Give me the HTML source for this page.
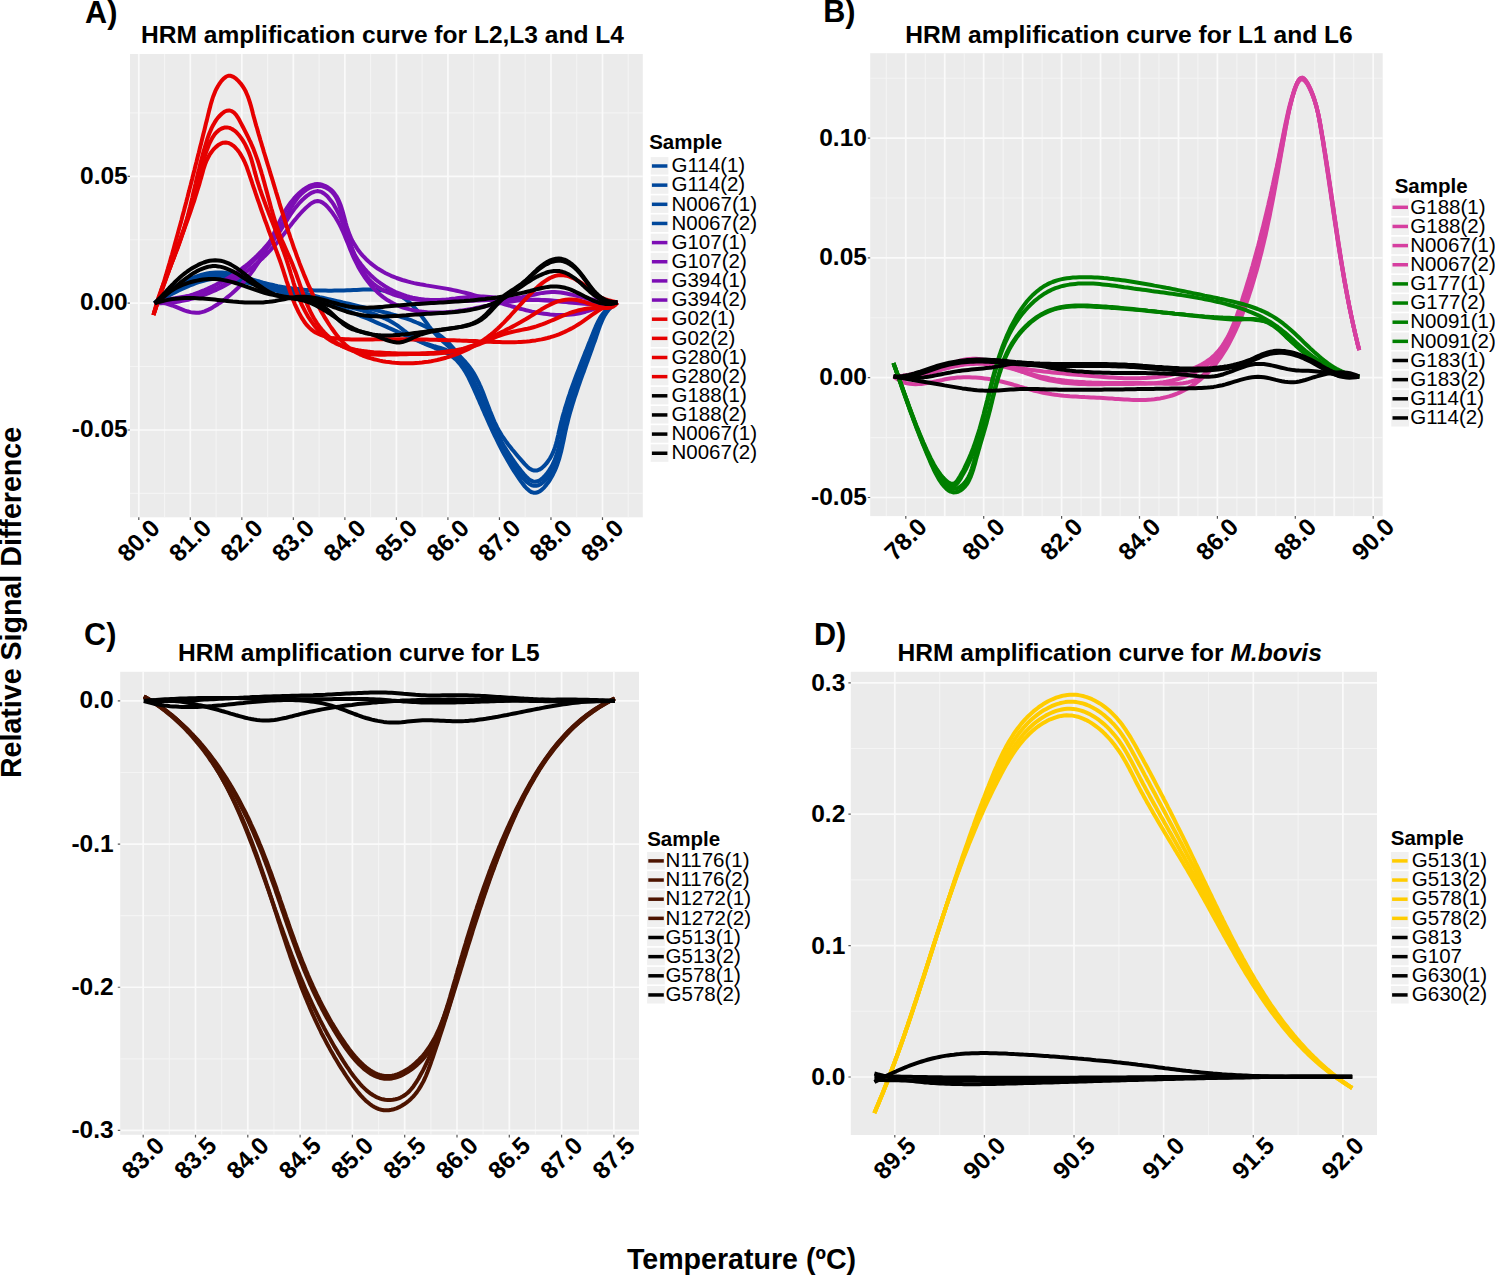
<!DOCTYPE html><html><head><meta charset="utf-8"><style>
html,body{margin:0;padding:0;background:#fff;overflow:hidden}
svg{display:block}
text{font-family:"Liberation Sans",sans-serif;fill:#000}
.tk{font-size:24.5px;font-weight:bold}
.ti{font-size:24.55px;font-weight:bold}
.pl{font-size:30.6px;font-weight:bold}
.ax{font-size:28.6px;font-weight:bold}
.lt{font-size:20.5px;font-weight:bold}
.lg{font-size:20.5px}
</style></head><body>
<svg width="1495" height="1275" viewBox="0 0 1495 1275">
<rect width="1495" height="1275" fill="#fff"/>
<text x="85.1" y="22.7" class="pl">A)</text>
<text x="823.2" y="21.9" class="pl">B)</text>
<text x="84.1" y="645.4" class="pl">C)</text>
<text x="814.0" y="645.0" class="pl">D)</text>
<text x="141.1" y="43.4" class="ti">HRM amplification curve for L2,L3 and L4</text>
<text x="905.3" y="43.0" class="ti">HRM amplification curve for L1 and L6</text>
<text x="178.1" y="660.9" class="ti">HRM amplification curve for L5</text>
<text x="897.6" y="661.2" class="ti">HRM amplification curve for <tspan font-style="italic">M.bovis</tspan></text>
<text transform="translate(21.2 778.1) rotate(-90)" class="ax">Relative Signal Difference</text>
<text x="626.9" y="1268.5" class="ax">Temperature (ºC)</text>
<rect x="130.0" y="54.0" width="512.80" height="463.30" fill="#EBEBEB"/>
<path d="M130.0 493.42H642.8M130.0 366.57H642.8M130.0 239.72H642.8M130.0 112.87H642.8" stroke="#F4F4F4" stroke-width="1.1" fill="none"/>
<path d="M164.56 54.0V517.3M216.08 54.0V517.3M267.60 54.0V517.3M319.12 54.0V517.3M370.64 54.0V517.3M422.16 54.0V517.3M473.68 54.0V517.3M525.20 54.0V517.3M576.72 54.0V517.3M628.24 54.0V517.3" stroke="#F4F4F4" stroke-width="1.1" fill="none"/>
<path d="M130.0 430.00H642.8M130.0 303.15H642.8M130.0 176.30H642.8M138.80 54.0V517.3M190.32 54.0V517.3M241.84 54.0V517.3M293.36 54.0V517.3M344.88 54.0V517.3M396.40 54.0V517.3M447.92 54.0V517.3M499.44 54.0V517.3M550.96 54.0V517.3M602.48 54.0V517.3" stroke="#FAFAFA" stroke-width="1.7" fill="none"/>
<path d="M127.60 430.00H130.0M127.60 303.15H130.0M127.60 176.30H130.0M138.80 517.3V519.90M190.32 517.3V519.90M241.84 517.3V519.90M293.36 517.3V519.90M344.88 517.3V519.90M396.40 517.3V519.90M447.92 517.3V519.90M499.44 517.3V519.90M550.96 517.3V519.90M602.48 517.3V519.90" stroke="#555" stroke-width="1.2" fill="none"/>
<text x="127.7" y="437.20" class="tk" text-anchor="end">-0.05</text>
<text x="127.7" y="310.35" class="tk" text-anchor="end">0.00</text>
<text x="127.7" y="183.50" class="tk" text-anchor="end">0.05</text>
<text transform="translate(161.40 529.50) rotate(-45)" class="tk" text-anchor="end">80.0</text>
<text transform="translate(212.92 529.50) rotate(-45)" class="tk" text-anchor="end">81.0</text>
<text transform="translate(264.44 529.50) rotate(-45)" class="tk" text-anchor="end">82.0</text>
<text transform="translate(315.96 529.50) rotate(-45)" class="tk" text-anchor="end">83.0</text>
<text transform="translate(367.48 529.50) rotate(-45)" class="tk" text-anchor="end">84.0</text>
<text transform="translate(419.00 529.50) rotate(-45)" class="tk" text-anchor="end">85.0</text>
<text transform="translate(470.52 529.50) rotate(-45)" class="tk" text-anchor="end">86.0</text>
<text transform="translate(522.04 529.50) rotate(-45)" class="tk" text-anchor="end">87.0</text>
<text transform="translate(573.56 529.50) rotate(-45)" class="tk" text-anchor="end">88.0</text>
<text transform="translate(625.08 529.50) rotate(-45)" class="tk" text-anchor="end">89.0</text>
<clipPath id="clipA"><rect x="130.0" y="54.0" width="512.80" height="463.30"/></clipPath>
<rect x="870.2" y="53.2" width="512.50" height="462.90" fill="#EBEBEB"/>
<path d="M870.2 437.60H1382.7M870.2 317.80H1382.7M870.2 198.00H1382.7M870.2 78.20H1382.7" stroke="#F4F4F4" stroke-width="1.1" fill="none"/>
<path d="M886.32 53.2V516.1M925.27 53.2V516.1M964.22 53.2V516.1M1003.17 53.2V516.1M1042.12 53.2V516.1M1081.08 53.2V516.1M1120.03 53.2V516.1M1158.97 53.2V516.1M1197.92 53.2V516.1M1236.88 53.2V516.1M1275.83 53.2V516.1M1314.78 53.2V516.1M1353.72 53.2V516.1" stroke="#F4F4F4" stroke-width="1.1" fill="none"/>
<path d="M870.2 497.50H1382.7M870.2 377.70H1382.7M870.2 257.90H1382.7M870.2 138.10H1382.7M905.80 53.2V516.1M944.75 53.2V516.1M983.70 53.2V516.1M1022.65 53.2V516.1M1061.60 53.2V516.1M1100.55 53.2V516.1M1139.50 53.2V516.1M1178.45 53.2V516.1M1217.40 53.2V516.1M1256.35 53.2V516.1M1295.30 53.2V516.1M1334.25 53.2V516.1M1373.20 53.2V516.1" stroke="#FAFAFA" stroke-width="1.7" fill="none"/>
<path d="M867.80 497.50H870.2M867.80 377.70H870.2M867.80 257.90H870.2M867.80 138.10H870.2M905.80 516.1V518.70M983.70 516.1V518.70M1061.60 516.1V518.70M1139.50 516.1V518.70M1217.40 516.1V518.70M1295.30 516.1V518.70M1373.20 516.1V518.70" stroke="#555" stroke-width="1.2" fill="none"/>
<text x="866.9" y="505.00" class="tk" text-anchor="end">-0.05</text>
<text x="866.9" y="385.20" class="tk" text-anchor="end">0.00</text>
<text x="866.9" y="265.40" class="tk" text-anchor="end">0.05</text>
<text x="866.9" y="145.60" class="tk" text-anchor="end">0.10</text>
<text transform="translate(928.40 528.30) rotate(-45)" class="tk" text-anchor="end">78.0</text>
<text transform="translate(1006.30 528.30) rotate(-45)" class="tk" text-anchor="end">80.0</text>
<text transform="translate(1084.20 528.30) rotate(-45)" class="tk" text-anchor="end">82.0</text>
<text transform="translate(1162.10 528.30) rotate(-45)" class="tk" text-anchor="end">84.0</text>
<text transform="translate(1240.00 528.30) rotate(-45)" class="tk" text-anchor="end">86.0</text>
<text transform="translate(1317.90 528.30) rotate(-45)" class="tk" text-anchor="end">88.0</text>
<text transform="translate(1395.80 528.30) rotate(-45)" class="tk" text-anchor="end">90.0</text>
<clipPath id="clipB"><rect x="870.2" y="53.2" width="512.50" height="462.90"/></clipPath>
<rect x="120.2" y="671.8" width="518.80" height="463.00" fill="#EBEBEB"/>
<path d="M120.2 772.49H639.0M120.2 915.65H639.0M120.2 1058.83H639.0" stroke="#F4F4F4" stroke-width="1.1" fill="none"/>
<path d="M169.35 671.8V1134.8M221.65 671.8V1134.8M273.95 671.8V1134.8M326.25 671.8V1134.8M378.55 671.8V1134.8M430.85 671.8V1134.8M483.15 671.8V1134.8M535.45 671.8V1134.8M587.75 671.8V1134.8" stroke="#F4F4F4" stroke-width="1.1" fill="none"/>
<path d="M120.2 700.90H639.0M120.2 844.07H639.0M120.2 987.24H639.0M120.2 1130.41H639.0M143.20 671.8V1134.8M195.50 671.8V1134.8M247.80 671.8V1134.8M300.10 671.8V1134.8M352.40 671.8V1134.8M404.70 671.8V1134.8M457.00 671.8V1134.8M509.30 671.8V1134.8M561.60 671.8V1134.8M613.90 671.8V1134.8" stroke="#FAFAFA" stroke-width="1.7" fill="none"/>
<path d="M117.80 700.90H120.2M117.80 844.07H120.2M117.80 987.24H120.2M117.80 1130.41H120.2M143.20 1134.8V1137.40M195.50 1134.8V1137.40M247.80 1134.8V1137.40M300.10 1134.8V1137.40M352.40 1134.8V1137.40M404.70 1134.8V1137.40M457.00 1134.8V1137.40M509.30 1134.8V1137.40M561.60 1134.8V1137.40M613.90 1134.8V1137.40" stroke="#555" stroke-width="1.2" fill="none"/>
<text x="113.6" y="708.40" class="tk" text-anchor="end">0.0</text>
<text x="113.6" y="851.57" class="tk" text-anchor="end">-0.1</text>
<text x="113.6" y="994.74" class="tk" text-anchor="end">-0.2</text>
<text x="113.6" y="1137.91" class="tk" text-anchor="end">-0.3</text>
<text transform="translate(165.80 1147.00) rotate(-45)" class="tk" text-anchor="end">83.0</text>
<text transform="translate(218.10 1147.00) rotate(-45)" class="tk" text-anchor="end">83.5</text>
<text transform="translate(270.40 1147.00) rotate(-45)" class="tk" text-anchor="end">84.0</text>
<text transform="translate(322.70 1147.00) rotate(-45)" class="tk" text-anchor="end">84.5</text>
<text transform="translate(375.00 1147.00) rotate(-45)" class="tk" text-anchor="end">85.0</text>
<text transform="translate(427.30 1147.00) rotate(-45)" class="tk" text-anchor="end">85.5</text>
<text transform="translate(479.60 1147.00) rotate(-45)" class="tk" text-anchor="end">86.0</text>
<text transform="translate(531.90 1147.00) rotate(-45)" class="tk" text-anchor="end">86.5</text>
<text transform="translate(584.20 1147.00) rotate(-45)" class="tk" text-anchor="end">87.0</text>
<text transform="translate(636.50 1147.00) rotate(-45)" class="tk" text-anchor="end">87.5</text>
<clipPath id="clipC"><rect x="120.2" y="671.8" width="518.80" height="463.00"/></clipPath>
<rect x="850.8" y="671.8" width="526.20" height="463.20" fill="#EBEBEB"/>
<path d="M850.8 1011.30H1377.0M850.8 879.90H1377.0M850.8 748.50H1377.0" stroke="#F4F4F4" stroke-width="1.1" fill="none"/>
<path d="M939.61 671.8V1135.0M1029.23 671.8V1135.0M1118.85 671.8V1135.0M1208.47 671.8V1135.0M1298.09 671.8V1135.0" stroke="#F4F4F4" stroke-width="1.1" fill="none"/>
<path d="M850.8 1077.00H1377.0M850.8 945.60H1377.0M850.8 814.20H1377.0M850.8 682.80H1377.0M894.80 671.8V1135.0M984.42 671.8V1135.0M1074.04 671.8V1135.0M1163.66 671.8V1135.0M1253.28 671.8V1135.0M1342.90 671.8V1135.0" stroke="#FAFAFA" stroke-width="1.7" fill="none"/>
<path d="M848.40 1077.00H850.8M848.40 945.60H850.8M848.40 814.20H850.8M848.40 682.80H850.8M894.80 1135.0V1137.60M984.42 1135.0V1137.60M1074.04 1135.0V1137.60M1163.66 1135.0V1137.60M1253.28 1135.0V1137.60M1342.90 1135.0V1137.60" stroke="#555" stroke-width="1.2" fill="none"/>
<text x="845.3" y="1085.00" class="tk" text-anchor="end">0.0</text>
<text x="845.3" y="953.60" class="tk" text-anchor="end">0.1</text>
<text x="845.3" y="822.20" class="tk" text-anchor="end">0.2</text>
<text x="845.3" y="690.80" class="tk" text-anchor="end">0.3</text>
<text transform="translate(917.40 1147.20) rotate(-45)" class="tk" text-anchor="end">89.5</text>
<text transform="translate(1007.02 1147.20) rotate(-45)" class="tk" text-anchor="end">90.0</text>
<text transform="translate(1096.64 1147.20) rotate(-45)" class="tk" text-anchor="end">90.5</text>
<text transform="translate(1186.26 1147.20) rotate(-45)" class="tk" text-anchor="end">91.0</text>
<text transform="translate(1275.88 1147.20) rotate(-45)" class="tk" text-anchor="end">91.5</text>
<text transform="translate(1365.50 1147.20) rotate(-45)" class="tk" text-anchor="end">92.0</text>
<clipPath id="clipD"><rect x="850.8" y="671.8" width="526.20" height="463.20"/></clipPath>
<g clip-path="url(#clipA)" fill="none" stroke-width="4.0" stroke-linecap="butt" stroke-linejoin="round">
<path d="M154.7 303.3L156.8 301.3 159.0 299.3 161.2 297.3 163.5 295.4 165.9 293.5 168.3 291.6 170.8 289.8 173.4 288.0 176.0 286.3 178.6 284.7 181.3 283.2 184.0 281.7 186.8 280.3 189.6 279.0 192.4 277.8 195.3 276.8 198.2 275.8 201.1 274.9 204.0 274.2 207.0 273.5 209.9 273.0 212.9 272.7 215.8 272.5 218.8 272.4 221.8 272.5 224.7 272.8 227.7 273.2 230.7 273.7 233.6 274.3 236.6 274.9 239.5 275.7 242.5 276.5 245.4 277.4 248.4 278.3 251.3 279.2 254.3 280.1 257.2 281.0 260.1 281.8 263.1 282.7 266.0 283.4 268.9 284.2 271.9 284.8 274.8 285.5 277.7 286.1 280.7 286.6 283.6 287.1 286.5 287.6 289.5 288.1 292.4 288.5 295.4 288.8 298.3 289.1 301.3 289.4 304.3 289.7 307.2 289.9 310.2 290.1 313.2 290.3 316.2 290.4 319.3 290.5 322.3 290.6 325.4 290.6 328.4 290.7 331.5 290.7 334.6 290.6 337.7 290.6 340.8 290.5 344.0 290.4 347.1 290.3 350.3 290.2 353.5 290.0 356.7 289.9 359.9 289.7 363.1 289.6 366.3 289.6 369.5 289.5 372.6 289.6 375.7 289.7 378.8 289.9 381.8 290.2 384.8 290.7 387.7 291.2 390.5 291.9 393.3 292.7 395.9 293.7 398.5 294.9 401.0 296.2 403.4 297.8 405.7 299.4 408.0 301.2 410.2 303.1 412.3 305.1 414.3 307.3 416.3 309.5 418.2 311.8 420.1 314.1 421.9 316.6 423.7 319.0 425.5 321.5 427.3 324.0 429.1 326.4 431.0 328.8 433.0 331.2 435.0 333.4 437.1 335.6 439.2 337.8 441.4 339.9 443.6 341.9 445.9 343.9 448.1 345.9 450.4 347.9 452.7 349.9 454.9 351.9 457.2 353.9 459.3 355.9 461.5 358.0 463.6 360.1 465.6 362.2 467.5 364.5 469.3 366.8 471.1 369.2 472.7 371.6 474.3 374.1 475.7 376.7 477.1 379.4 478.5 382.1 479.7 384.9 481.0 387.7 482.2 390.5 483.3 393.3 484.4 396.2 485.5 399.1 486.6 402.0 487.7 404.9 488.8 407.8 489.9 410.7 491.1 413.5 492.2 416.4 493.4 419.2 494.6 422.0 495.9 424.7 497.2 427.4 498.6 430.0 500.1 432.6 501.6 435.1 503.2 437.5 504.9 439.9 506.6 442.3 508.4 444.7 510.3 447.1 512.2 449.5 514.2 451.8 516.2 454.2 518.3 456.7 520.4 459.1 522.6 461.6 524.8 464.1 527.1 466.4 529.4 468.4 531.8 469.8 534.2 470.6 536.7 470.6 539.2 469.7 541.6 468.2 544.0 466.1 546.2 463.7 548.2 461.0 550.0 458.3 551.6 455.5 552.9 452.7 554.1 449.8 555.1 446.9 556.0 443.9 556.8 441.0 557.5 438.0 558.2 435.1 558.8 432.1 559.5 429.1 560.2 426.2 560.9 423.2 561.7 420.3 562.4 417.4 563.2 414.5 564.1 411.6 564.9 408.7 565.8 405.8 566.7 403.0 567.6 400.1 568.5 397.2 569.5 394.4 570.4 391.5 571.4 388.7 572.4 385.9 573.5 383.0 574.5 380.2 575.5 377.4 576.6 374.6 577.7 371.7 578.8 368.9 579.9 366.1 581.0 363.3 582.1 360.5 583.2 357.7 584.3 354.9 585.4 352.0 586.6 349.2 587.7 346.4 588.8 343.6 590.0 340.8 591.1 338.0 592.3 335.1 593.4 332.3 594.5 329.5 595.7 326.7 597.0 323.9 598.3 321.2 599.7 318.6 601.2 316.1 602.9 313.7 604.8 311.4 606.8 309.2 609.1 307.3 611.6 305.5 614.4 303.9 617.4 302.5" stroke="#00479B"/>
<path d="M154.7 303.3L157.0 301.4 159.3 299.5 161.7 297.6 164.1 295.8 166.6 294.0 169.1 292.3 171.7 290.7 174.3 289.1 177.0 287.5 179.6 286.0 182.3 284.6 185.1 283.3 187.8 282.1 190.6 280.9 193.5 279.8 196.3 278.8 199.2 277.9 202.1 277.2 205.0 276.5 207.9 275.9 210.8 275.4 213.8 275.1 216.8 274.9 219.7 274.8 222.7 274.8 225.7 275.0 228.7 275.3 231.6 275.6 234.6 276.1 237.6 276.6 240.6 277.2 243.6 277.9 246.6 278.6 249.6 279.4 252.5 280.2 255.5 281.0 258.5 281.8 261.5 282.6 264.4 283.4 267.4 284.1 270.3 284.9 273.2 285.7 276.2 286.4 279.1 287.2 282.0 287.9 284.9 288.7 287.8 289.4 290.7 290.1 293.6 290.8 296.5 291.5 299.4 292.2 302.3 292.9 305.2 293.6 308.1 294.3 311.0 295.0 313.9 295.7 316.8 296.4 319.7 297.1 322.6 297.7 325.5 298.4 328.4 299.1 331.3 299.8 334.2 300.4 337.1 301.1 340.0 301.8 342.9 302.5 345.9 303.1 348.8 303.8 351.7 304.5 354.7 305.2 357.6 305.9 360.5 306.6 363.5 307.3 366.5 308.0 369.4 308.7 372.4 309.4 375.4 310.1 378.4 310.8 381.4 311.5 384.4 312.3 387.4 313.0 390.4 313.8 393.3 314.7 396.3 315.5 399.3 316.4 402.2 317.3 405.1 318.2 408.0 319.2 410.9 320.2 413.7 321.3 416.5 322.5 419.3 323.6 422.0 324.9 424.7 326.2 427.3 327.5 429.9 329.0 432.5 330.5 435.0 332.0 437.4 333.7 439.8 335.4 442.2 337.2 444.4 339.1 446.6 341.1 448.8 343.2 450.8 345.3 452.8 347.5 454.8 349.8 456.7 352.1 458.5 354.5 460.3 357.0 462.0 359.5 463.7 362.0 465.3 364.6 466.8 367.2 468.3 369.9 469.7 372.5 471.1 375.2 472.5 377.9 473.8 380.6 475.1 383.3 476.4 386.1 477.6 388.9 478.8 391.6 480.0 394.4 481.2 397.2 482.3 400.0 483.5 402.8 484.7 405.5 485.8 408.3 487.0 411.1 488.1 413.9 489.3 416.6 490.5 419.4 491.7 422.1 493.0 424.9 494.2 427.6 495.5 430.3 496.8 432.9 498.2 435.6 499.6 438.2 501.0 440.8 502.5 443.4 504.0 446.0 505.6 448.6 507.2 451.2 508.9 453.8 510.6 456.3 512.3 458.9 514.1 461.5 516.0 464.1 517.9 466.7 519.9 469.3 521.9 471.9 524.0 474.4 526.2 476.7 528.4 478.8 530.6 480.3 532.9 481.4 535.2 481.7 537.5 481.3 539.8 480.3 542.1 478.6 544.3 476.5 546.4 474.1 548.4 471.5 550.2 468.7 551.8 466.0 553.2 463.1 554.5 460.3 555.6 457.4 556.6 454.5 557.5 451.5 558.4 448.5 559.1 445.6 559.8 442.6 560.5 439.6 561.1 436.6 561.7 433.6 562.4 430.6 563.1 427.6 563.8 424.7 564.5 421.8 565.2 418.8 566.0 415.9 566.8 413.0 567.6 410.1 568.5 407.2 569.4 404.4 570.3 401.5 571.2 398.6 572.1 395.8 573.1 392.9 574.0 390.1 575.0 387.3 576.0 384.5 577.0 381.6 578.0 378.8 579.1 376.0 580.1 373.2 581.2 370.4 582.2 367.6 583.3 364.7 584.4 361.9 585.4 359.1 586.5 356.3 587.6 353.5 588.7 350.7 589.8 347.8 590.8 345.0 591.9 342.2 593.0 339.3 594.0 336.5 595.1 333.6 596.2 330.8 597.2 327.9 598.4 325.1 599.5 322.3 600.8 319.6 602.2 317.0 603.8 314.5 605.5 312.1 607.4 309.8 609.5 307.7 611.9 305.8 614.5 304.0 617.4 302.5" stroke="#00479B"/>
<path d="M154.7 303.3L157.1 301.7 159.6 300.1 162.1 298.4 164.6 296.8 167.2 295.2 169.8 293.6 172.4 292.1 175.1 290.5 177.8 289.1 180.6 287.6 183.3 286.2 186.1 284.9 189.0 283.7 191.8 282.5 194.7 281.4 197.6 280.4 200.5 279.5 203.4 278.7 206.3 278.0 209.2 277.4 212.2 276.9 215.1 276.6 218.1 276.4 221.0 276.3 224.0 276.4 227.0 276.6 229.9 276.9 232.9 277.4 235.8 277.9 238.8 278.5 241.8 279.2 244.7 279.9 247.7 280.7 250.6 281.6 253.6 282.4 256.5 283.3 259.5 284.2 262.4 285.0 265.4 285.9 268.3 286.7 271.2 287.5 274.1 288.3 277.1 289.1 280.0 289.9 282.9 290.7 285.8 291.5 288.7 292.2 291.7 293.0 294.6 293.7 297.5 294.5 300.4 295.2 303.3 296.0 306.2 296.7 309.1 297.4 312.1 298.1 315.0 298.8 317.9 299.5 320.8 300.2 323.7 301.0 326.7 301.7 329.6 302.4 332.5 303.1 335.5 303.8 338.4 304.5 341.3 305.2 344.3 305.9 347.2 306.6 350.2 307.3 353.2 308.1 356.1 308.8 359.1 309.6 362.0 310.4 364.9 311.2 367.8 312.0 370.7 312.9 373.6 313.9 376.4 314.9 379.2 316.0 382.0 317.1 384.7 318.3 387.4 319.6 390.0 321.0 392.6 322.5 395.2 324.1 397.6 325.7 400.1 327.5 402.4 329.3 404.8 331.2 407.2 333.0 409.6 334.9 412.1 336.6 414.6 338.3 417.2 339.8 419.8 341.2 422.6 342.5 425.5 343.6 428.5 344.5 431.5 345.4 434.5 346.3 437.4 347.1 440.4 348.0 443.3 349.0 446.1 350.0 448.8 351.2 451.3 352.6 453.7 354.2 455.9 356.0 458.0 358.0 459.8 360.3 461.6 362.7 463.2 365.1 464.8 367.7 466.4 370.2 467.9 372.8 469.3 375.4 470.7 378.1 472.1 380.7 473.5 383.4 474.8 386.1 476.1 388.8 477.3 391.5 478.6 394.3 479.8 397.0 481.0 399.8 482.2 402.6 483.4 405.4 484.6 408.2 485.8 411.0 487.0 413.8 488.2 416.6 489.4 419.4 490.6 422.2 491.8 425.0 493.0 427.8 494.2 430.6 495.5 433.4 496.8 436.1 498.1 438.9 499.4 441.7 500.8 444.4 502.2 447.1 503.7 449.9 505.2 452.5 506.7 455.2 508.3 457.9 509.9 460.5 511.6 463.1 513.4 465.7 515.2 468.3 517.0 470.8 518.9 473.3 520.9 475.8 523.0 478.2 525.1 480.4 527.3 482.4 529.5 484.0 531.7 485.2 534.0 485.8 536.2 485.8 538.5 485.2 540.7 484.1 542.9 482.5 545.0 480.5 547.0 478.2 548.8 475.7 550.5 473.2 552.1 470.5 553.5 467.7 554.8 464.9 555.9 462.0 557.0 459.1 557.9 456.1 558.8 453.1 559.6 450.1 560.3 447.0 561.0 443.9 561.7 440.8 562.3 437.7 563.0 434.6 563.6 431.6 564.3 428.5 565.0 425.5 565.7 422.5 566.5 419.5 567.3 416.5 568.1 413.6 568.9 410.7 569.7 407.8 570.6 404.9 571.5 402.0 572.4 399.2 573.3 396.3 574.2 393.5 575.2 390.7 576.2 387.8 577.1 385.0 578.1 382.2 579.1 379.4 580.1 376.7 581.2 373.9 582.2 371.1 583.2 368.3 584.3 365.5 585.3 362.7 586.4 359.9 587.4 357.1 588.5 354.3 589.5 351.5 590.6 348.7 591.6 345.8 592.7 343.0 593.7 340.1 594.8 337.2 595.8 334.4 596.9 331.5 597.9 328.6 599.0 325.7 600.1 322.8 601.4 320.1 602.7 317.4 604.2 314.8 605.9 312.3 607.7 310.0 609.8 307.8 612.0 305.8 614.6 304.1 617.4 302.5" stroke="#00479B"/>
<path d="M154.7 303.3L157.2 301.9 159.8 300.5 162.4 299.1 165.1 297.7 167.7 296.2 170.4 294.8 173.2 293.3 175.9 291.9 178.7 290.5 181.5 289.2 184.3 287.9 187.2 286.6 190.0 285.4 192.9 284.3 195.8 283.2 198.7 282.2 201.6 281.3 204.5 280.5 207.4 279.9 210.3 279.3 213.3 278.8 216.2 278.5 219.2 278.4 222.1 278.3 225.0 278.4 228.0 278.7 230.9 279.0 233.9 279.5 236.8 280.1 239.8 280.7 242.7 281.4 245.6 282.2 248.6 283.0 251.5 283.8 254.5 284.7 257.4 285.5 260.4 286.4 263.3 287.2 266.3 288.0 269.2 288.8 272.2 289.7 275.1 290.4 278.1 291.2 281.0 292.0 283.9 292.8 286.9 293.5 289.8 294.3 292.8 295.1 295.7 295.8 298.6 296.6 301.6 297.3 304.5 298.1 307.4 298.9 310.3 299.7 313.3 300.4 316.2 301.2 319.1 302.0 322.0 302.9 324.9 303.7 327.7 304.5 330.6 305.4 333.5 306.3 336.4 307.2 339.2 308.1 342.1 309.0 344.9 310.0 347.7 311.0 350.5 312.0 353.4 313.0 356.2 314.1 359.0 315.2 361.7 316.3 364.5 317.4 367.3 318.5 370.1 319.7 372.9 320.9 375.6 322.1 378.4 323.3 381.1 324.5 383.9 325.7 386.7 326.9 389.4 328.2 392.2 329.4 394.9 330.6 397.7 331.9 400.5 333.1 403.3 334.4 406.0 335.6 408.8 336.8 411.6 338.1 414.4 339.3 417.2 340.5 420.0 341.7 422.8 342.9 425.6 344.1 428.5 345.3 431.3 346.5 434.2 347.6 437.0 348.8 439.8 349.9 442.6 351.1 445.3 352.4 448.0 353.8 450.5 355.4 452.8 357.0 455.1 358.9 457.2 360.9 459.1 363.1 460.9 365.3 462.7 367.7 464.3 370.2 465.9 372.8 467.4 375.4 468.8 378.1 470.1 380.9 471.4 383.6 472.7 386.4 474.0 389.2 475.2 392.0 476.5 394.8 477.7 397.6 478.9 400.3 480.1 403.1 481.3 405.8 482.5 408.6 483.7 411.3 484.9 414.1 486.1 416.8 487.3 419.5 488.5 422.2 489.7 425.0 491.0 427.7 492.2 430.4 493.5 433.1 494.8 435.8 496.1 438.5 497.4 441.2 498.7 443.9 500.1 446.6 501.5 449.3 502.9 452.0 504.4 454.7 505.9 457.4 507.4 460.1 509.0 462.8 510.6 465.5 512.2 468.2 513.9 470.9 515.6 473.5 517.4 476.2 519.2 478.9 521.1 481.6 523.1 484.2 525.0 486.7 527.1 488.8 529.1 490.6 531.2 492.0 533.4 492.7 535.6 492.8 537.8 492.2 540.0 491.1 542.2 489.4 544.3 487.3 546.3 484.9 548.3 482.3 550.1 479.6 551.7 476.8 553.2 474.0 554.6 471.1 555.9 468.2 557.0 465.3 558.0 462.4 559.0 459.4 559.8 456.4 560.6 453.4 561.4 450.4 562.1 447.4 562.7 444.4 563.4 441.4 564.0 438.4 564.6 435.4 565.2 432.4 565.9 429.4 566.5 426.5 567.3 423.5 568.0 420.6 568.7 417.6 569.5 414.7 570.3 411.8 571.2 408.9 572.0 406.1 572.9 403.2 573.8 400.3 574.7 397.5 575.7 394.6 576.6 391.8 577.6 388.9 578.5 386.1 579.5 383.3 580.5 380.4 581.5 377.6 582.5 374.8 583.6 372.0 584.6 369.1 585.6 366.3 586.6 363.5 587.7 360.7 588.7 357.8 589.7 355.0 590.8 352.1 591.8 349.3 592.8 346.4 593.8 343.6 594.9 340.7 595.9 337.9 596.8 335.0 597.8 332.1 598.8 329.2 599.8 326.3 600.9 323.5 602.1 320.7 603.3 318.0 604.7 315.4 606.3 312.9 608.0 310.5 610.0 308.2 612.2 306.1 614.7 304.2 617.4 302.5" stroke="#00479B"/>
<path d="M154.7 303.3L157.5 302.8 160.4 302.7 163.3 303.0 166.3 303.6 169.3 304.5 172.3 305.5 175.3 306.7 178.3 307.9 181.3 309.1 184.3 310.3 187.3 311.3 190.3 312.1 193.2 312.6 196.1 312.8 199.0 312.7 201.8 312.1 204.6 311.3 207.3 310.2 210.0 308.9 212.6 307.4 215.2 305.8 217.8 304.2 220.3 302.5 222.8 300.8 225.2 299.0 227.5 297.1 229.9 295.2 232.2 293.3 234.4 291.3 236.6 289.2 238.8 287.1 240.9 284.9 242.9 282.7 245.0 280.4 246.9 278.1 248.9 275.8 250.8 273.4 252.6 271.0 254.4 268.5 256.1 266.0 257.8 263.5 259.5 260.9 261.1 258.3 262.7 255.7 264.2 253.1 265.7 250.4 267.1 247.7 268.5 245.0 269.9 242.2 271.2 239.4 272.5 236.7 273.7 233.9 275.0 231.1 276.3 228.4 277.6 225.6 278.9 222.9 280.2 220.2 281.6 217.5 283.0 214.8 284.4 212.2 285.9 209.6 287.5 207.1 289.2 204.6 290.9 202.2 292.8 199.9 294.7 197.6 296.8 195.4 299.0 193.3 301.3 191.3 303.7 189.4 306.3 187.7 308.9 186.2 311.6 185.1 314.4 184.3 317.2 184.0 320.0 184.3 322.8 185.0 325.5 186.1 328.1 187.5 330.5 189.3 332.7 191.3 334.6 193.6 336.4 196.1 337.9 198.7 339.2 201.5 340.4 204.4 341.4 207.4 342.4 210.5 343.3 213.7 344.1 216.8 345.0 220.0 345.8 223.2 346.7 226.4 347.7 229.5 348.8 232.5 349.9 235.4 351.2 238.3 352.5 241.0 354.0 243.7 355.6 246.2 357.2 248.7 358.9 251.1 360.8 253.4 362.7 255.6 364.7 257.7 366.7 259.8 368.9 261.8 371.1 263.6 373.4 265.4 375.7 267.1 378.1 268.8 380.6 270.3 383.1 271.8 385.7 273.2 388.4 274.5 391.1 275.8 393.8 276.9 396.6 278.0 399.4 279.0 402.3 280.0 405.2 280.8 408.1 281.6 411.1 282.4 414.1 283.1 417.1 283.7 420.1 284.3 423.2 284.8 426.2 285.4 429.3 285.9 432.4 286.4 435.4 286.9 438.5 287.4 441.5 287.9 444.6 288.4 447.6 288.9 450.6 289.5 453.5 290.1 456.5 290.7 459.4 291.4 462.3 292.1 465.2 292.8 468.1 293.5 471.0 294.3 473.9 295.1 476.7 295.9 479.6 296.7 482.4 297.5 485.3 298.4 488.1 299.2 491.0 300.1 493.8 301.0 496.7 301.8 499.6 302.7 502.5 303.6 505.4 304.5 508.3 305.3 511.2 306.2 514.2 307.0 517.1 307.9 520.1 308.7 523.1 309.4 526.1 310.2 529.0 310.9 532.0 311.6 535.0 312.2 538.0 312.7 541.0 313.3 544.0 313.7 547.0 314.1 550.0 314.5 553.0 314.7 556.0 314.9 559.0 315.0 562.0 315.0 565.0 315.0 567.9 314.8 570.9 314.6 573.9 314.2 576.8 313.8 579.7 313.2 582.6 312.5 585.5 311.7 588.4 310.8 591.3 309.8 594.1 308.8 597.0 307.8 599.9 306.8 602.8 305.8 605.6 304.9 608.6 304.1 611.5 303.4 614.4 302.9 617.4 302.5" stroke="#7C0DB4"/>
<path d="M154.7 303.3L157.7 302.9 160.8 302.4 163.8 301.9 166.8 301.4 169.8 300.8 172.8 300.2 175.8 299.5 178.7 298.7 181.7 298.0 184.6 297.1 187.5 296.3 190.4 295.3 193.3 294.4 196.1 293.4 199.0 292.3 201.8 291.2 204.6 290.1 207.4 288.9 210.1 287.6 212.8 286.4 215.5 285.0 218.2 283.6 220.9 282.2 223.5 280.8 226.1 279.3 228.7 277.7 231.2 276.1 233.8 274.5 236.2 272.8 238.7 271.0 241.1 269.3 243.5 267.4 245.9 265.6 248.2 263.7 250.5 261.7 252.7 259.7 254.9 257.7 257.1 255.6 259.2 253.5 261.3 251.3 263.4 249.1 265.4 246.8 267.4 244.5 269.3 242.2 271.2 239.8 273.1 237.4 274.9 234.9 276.6 232.4 278.4 229.8 280.0 227.2 281.6 224.6 283.2 221.9 284.7 219.2 286.2 216.4 287.7 213.7 289.2 210.9 290.7 208.2 292.3 205.6 293.9 203.0 295.7 200.5 297.5 198.1 299.4 195.8 301.5 193.6 303.8 191.7 306.2 189.9 308.8 188.3 311.4 187.1 314.1 186.3 316.9 185.9 319.7 185.9 322.4 186.4 325.1 187.3 327.7 188.6 330.0 190.2 332.1 192.1 334.0 194.3 335.6 196.6 337.0 199.2 338.2 202.0 339.2 204.9 340.1 207.9 340.9 211.1 341.6 214.3 342.3 217.6 343.0 220.9 343.6 224.3 344.3 227.6 345.1 230.8 346.0 234.0 347.0 237.2 348.0 240.2 349.2 243.2 350.4 246.2 351.7 249.0 353.1 251.8 354.6 254.5 356.2 257.2 357.8 259.8 359.5 262.3 361.3 264.7 363.2 267.1 365.1 269.4 367.1 271.6 369.2 273.7 371.3 275.8 373.5 277.8 375.8 279.7 378.1 281.5 380.4 283.2 382.9 284.9 385.3 286.5 387.9 288.0 390.4 289.4 393.1 290.7 395.7 292.0 398.4 293.1 401.2 294.2 404.0 295.2 406.8 296.1 409.7 296.9 412.6 297.6 415.5 298.2 418.4 298.8 421.4 299.2 424.4 299.6 427.4 299.8 430.5 300.0 433.6 300.1 436.6 300.1 439.7 299.9 442.9 299.7 446.0 299.5 449.1 299.2 452.3 298.8 455.4 298.5 458.5 298.1 461.7 297.7 464.8 297.4 467.9 297.1 471.0 296.8 474.1 296.6 477.1 296.5 480.2 296.5 483.2 296.6 486.2 296.7 489.2 297.0 492.2 297.3 495.1 297.6 498.1 297.9 501.0 298.1 504.0 298.3 506.9 298.4 509.9 298.4 512.8 298.3 515.8 298.1 518.8 297.7 521.8 297.2 524.7 296.6 527.7 296.0 530.7 295.3 533.8 294.7 536.8 294.0 539.8 293.4 542.8 292.9 545.8 292.5 548.8 292.2 551.8 292.0 554.8 292.0 557.7 292.2 560.7 292.5 563.7 293.0 566.6 293.5 569.6 294.2 572.6 294.9 575.5 295.6 578.5 296.3 581.5 297.0 584.4 297.7 587.4 298.5 590.4 299.1 593.3 299.8 596.3 300.4 599.3 300.9 602.3 301.4 605.3 301.8 608.3 302.1 611.3 302.4 614.4 302.5 617.4 302.5" stroke="#7C0DB4"/>
<path d="M154.7 303.3L157.5 302.4 160.3 301.5 163.2 300.8 166.1 300.1 169.1 299.4 172.0 298.8 175.0 298.3 178.0 297.7 181.0 297.2 184.1 296.7 187.1 296.2 190.1 295.7 193.1 295.1 196.1 294.5 199.1 293.9 202.1 293.2 205.0 292.4 207.9 291.6 210.8 290.7 213.6 289.7 216.4 288.5 219.1 287.3 221.7 285.9 224.4 284.4 226.9 282.8 229.4 281.1 231.9 279.3 234.3 277.5 236.7 275.6 239.1 273.6 241.4 271.6 243.7 269.6 246.0 267.6 248.3 265.6 250.5 263.5 252.8 261.5 255.0 259.5 257.2 257.5 259.4 255.4 261.5 253.4 263.6 251.3 265.7 249.2 267.7 247.0 269.7 244.8 271.6 242.6 273.5 240.3 275.3 237.9 277.1 235.5 278.8 233.0 280.5 230.4 282.1 227.8 283.8 225.2 285.4 222.6 287.1 220.0 288.7 217.3 290.4 214.7 292.2 212.1 294.0 209.6 295.9 207.1 297.9 204.7 300.0 202.3 302.2 200.0 304.5 197.9 306.9 195.9 309.5 194.1 312.1 192.6 314.6 191.6 317.2 191.1 319.6 191.4 321.9 192.2 324.0 193.5 326.1 195.2 328.1 197.2 329.9 199.4 331.7 201.7 333.4 204.1 334.9 206.7 336.4 209.3 337.8 212.0 339.2 214.8 340.5 217.6 341.7 220.5 342.9 223.5 344.1 226.5 345.2 229.5 346.3 232.5 347.4 235.6 348.5 238.6 349.6 241.7 350.7 244.7 351.8 247.8 353.0 250.8 354.1 253.8 355.4 256.7 356.6 259.6 357.9 262.4 359.3 265.1 360.7 267.8 362.2 270.4 363.8 272.8 365.5 275.2 367.3 277.5 369.1 279.6 371.1 281.7 373.2 283.6 375.5 285.3 377.8 287.0 380.2 288.5 382.7 289.9 385.3 291.2 387.9 292.4 390.7 293.5 393.5 294.6 396.4 295.5 399.3 296.3 402.3 297.0 405.3 297.7 408.3 298.3 411.4 298.8 414.5 299.3 417.7 299.7 420.8 300.0 424.0 300.3 427.1 300.5 430.3 300.7 433.4 300.9 436.6 301.0 439.7 301.1 442.8 301.2 445.9 301.2 448.9 301.2 451.9 301.2 455.0 301.2 458.0 301.1 461.0 301.0 464.0 301.0 467.0 300.9 469.9 300.8 472.9 300.7 475.8 300.5 478.8 300.4 481.7 300.3 484.7 300.2 487.6 300.1 490.6 299.9 493.5 299.8 496.5 299.7 499.4 299.7 502.4 299.6 505.4 299.5 508.3 299.5 511.3 299.5 514.3 299.5 517.3 299.5 520.4 299.5 523.4 299.6 526.4 299.7 529.5 299.8 532.5 299.9 535.6 300.0 538.7 300.1 541.7 300.2 544.8 300.4 547.9 300.5 551.0 300.7 554.0 300.9 557.1 301.0 560.2 301.2 563.3 301.4 566.4 301.5 569.4 301.7 572.5 301.8 575.5 302.0 578.6 302.1 581.7 302.2 584.7 302.4 587.7 302.5 590.8 302.5 593.8 302.6 596.8 302.7 599.8 302.7 602.7 302.7 605.7 302.7 608.6 302.7 611.6 302.7 614.5 302.6 617.4 302.5" stroke="#7C0DB4"/>
<path d="M154.7 303.3L157.8 303.3 160.9 303.3 164.0 303.1 167.0 302.9 170.1 302.7 173.1 302.3 176.1 301.9 179.1 301.5 182.1 300.9 185.1 300.3 188.0 299.7 191.0 298.9 193.9 298.2 196.8 297.3 199.6 296.4 202.5 295.4 205.3 294.4 208.1 293.4 210.9 292.2 213.7 291.0 216.4 289.8 219.1 288.5 221.8 287.2 224.5 285.8 227.1 284.3 229.8 282.8 232.3 281.3 234.9 279.7 237.4 278.1 239.9 276.4 242.4 274.7 244.9 272.9 247.3 271.1 249.7 269.2 252.0 267.4 254.3 265.4 256.6 263.5 258.9 261.5 261.1 259.4 263.3 257.4 265.5 255.3 267.6 253.1 269.7 250.9 271.7 248.7 273.7 246.5 275.7 244.3 277.6 242.0 279.5 239.7 281.4 237.3 283.2 234.9 285.1 232.6 286.9 230.2 288.7 227.8 290.5 225.4 292.4 223.0 294.3 220.6 296.3 218.2 298.3 215.8 300.4 213.5 302.6 211.1 304.9 208.8 307.3 206.6 309.8 204.4 312.4 202.7 315.0 201.4 317.6 201.0 320.1 201.4 322.6 202.6 324.9 204.3 327.2 206.5 329.3 208.9 331.2 211.3 333.1 213.8 334.8 216.3 336.4 218.9 337.9 221.5 339.3 224.1 340.7 226.8 341.9 229.5 343.2 232.2 344.4 235.0 345.5 237.8 346.6 240.5 347.8 243.3 348.9 246.1 350.0 248.9 351.2 251.8 352.4 254.6 353.6 257.4 354.9 260.2 356.3 262.9 357.7 265.7 359.2 268.5 360.8 271.2 362.5 273.9 364.2 276.5 366.0 279.1 367.9 281.6 369.8 284.0 371.8 286.4 373.9 288.7 376.1 290.9 378.3 293.0 380.6 295.0 382.9 296.9 385.3 298.6 387.8 300.3 390.4 301.8 393.0 303.2 395.6 304.5 398.3 305.7 401.1 306.8 403.9 307.8 406.7 308.6 409.6 309.4 412.5 310.1 415.4 310.7 418.4 311.2 421.4 311.6 424.4 311.9 427.4 312.2 430.4 312.4 433.5 312.5 436.6 312.5 439.6 312.5 442.7 312.4 445.7 312.2 448.8 312.0 451.9 311.7 454.9 311.4 457.9 311.0 460.9 310.6 464.0 310.1 467.0 309.6 470.0 309.1 472.9 308.6 475.9 308.0 478.9 307.4 481.9 306.8 484.9 306.2 487.8 305.6 490.8 305.0 493.8 304.5 496.8 303.9 499.7 303.3 502.7 302.8 505.7 302.3 508.6 301.8 511.6 301.4 514.6 301.0 517.6 300.6 520.6 300.3 523.6 300.1 526.6 299.9 529.6 299.8 532.6 299.7 535.6 299.7 538.7 299.8 541.7 299.9 544.8 300.1 547.8 300.3 550.9 300.5 553.9 300.8 557.0 301.1 560.0 301.4 563.1 301.7 566.2 302.1 569.2 302.4 572.3 302.7 575.3 303.0 578.4 303.3 581.4 303.6 584.5 303.8 587.5 304.0 590.5 304.1 593.6 304.2 596.6 304.3 599.6 304.3 602.6 304.2 605.6 304.0 608.5 303.8 611.5 303.4 614.5 303.0 617.4 302.5" stroke="#7C0DB4"/>
<path d="M153.5 315.0L154.4 312.1 155.4 309.3 156.3 306.4 157.2 303.5 158.1 300.6 159.0 297.7 159.9 294.9 160.8 292.0 161.7 289.1 162.6 286.2 163.5 283.3 164.4 280.5 165.2 277.6 166.1 274.7 166.9 271.8 167.8 268.9 168.6 266.0 169.5 263.1 170.3 260.3 171.1 257.4 172.0 254.5 172.8 251.6 173.6 248.7 174.4 245.8 175.2 242.9 176.0 240.0 176.8 237.1 177.6 234.2 178.4 231.3 179.2 228.4 180.0 225.5 180.8 222.6 181.6 219.7 182.3 216.8 183.1 213.9 183.9 211.0 184.6 208.1 185.4 205.2 186.2 202.3 186.9 199.4 187.7 196.4 188.4 193.5 189.2 190.6 189.9 187.7 190.7 184.8 191.4 181.9 192.2 179.0 192.9 176.0 193.6 173.1 194.4 170.2 195.1 167.3 195.8 164.4 196.6 161.4 197.3 158.5 198.0 155.6 198.8 152.7 199.5 149.7 200.2 146.8 201.0 143.9 201.7 140.9 202.4 138.0 203.1 135.1 203.9 132.1 204.6 129.2 205.3 126.3 206.0 123.3 206.8 120.4 207.5 117.4 208.2 114.5 208.9 111.6 209.7 108.6 210.4 105.7 211.2 102.8 212.1 99.9 213.0 97.0 214.1 94.2 215.2 91.4 216.5 88.7 218.0 86.0 219.7 83.4 221.5 80.9 223.6 78.6 225.9 76.8 228.3 75.7 230.8 75.8 233.4 76.9 236.0 78.7 238.3 80.9 240.5 83.3 242.3 85.7 244.0 88.3 245.5 90.9 246.7 93.7 247.9 96.5 248.9 99.3 249.8 102.2 250.7 105.1 251.5 108.1 252.3 111.0 253.0 113.9 253.8 116.9 254.6 119.8 255.4 122.7 256.2 125.6 257.1 128.5 257.9 131.4 258.7 134.3 259.6 137.2 260.4 140.1 261.3 143.0 262.1 145.9 263.0 148.7 263.8 151.6 264.7 154.5 265.6 157.4 266.4 160.2 267.3 163.1 268.2 166.0 269.1 168.8 269.9 171.7 270.8 174.6 271.7 177.4 272.6 180.3 273.4 183.2 274.3 186.1 275.2 189.0 276.0 191.8 276.9 194.7 277.8 197.6 278.7 200.5 279.5 203.4 280.4 206.3 281.3 209.1 282.2 212.0 283.1 214.9 284.0 217.8 284.9 220.7 285.8 223.5 286.7 226.4 287.7 229.3 288.6 232.2 289.6 235.0 290.5 237.9 291.5 240.7 292.5 243.6 293.4 246.4 294.4 249.3 295.5 252.1 296.5 255.0 297.5 257.8 298.6 260.6 299.6 263.4 300.7 266.2 301.8 269.0 302.9 271.8 304.0 274.6 305.2 277.4 306.4 280.2 307.5 282.9 308.7 285.7 310.0 288.4 311.2 291.2 312.5 293.9 313.7 296.6 315.0 299.3 316.4 302.0 317.7 304.7 319.1 307.4 320.5 310.0 322.0 312.7 323.5 315.3 325.0 317.9 326.6 320.4 328.2 323.0 329.8 325.5 331.5 328.0 333.3 330.5 335.1 333.0 337.0 335.4 338.9 337.8 340.9 340.1 343.0 342.3 345.1 344.4 347.3 346.4 349.6 348.3 352.1 350.0 354.6 351.6 357.2 353.0 359.8 354.3 362.6 355.5 365.4 356.5 368.2 357.5 371.1 358.4 374.0 359.2 376.9 359.9 379.8 360.6 382.8 361.2 385.8 361.7 388.8 362.1 391.8 362.5 394.8 362.8 397.8 363.0 400.8 363.2 403.9 363.3 406.9 363.3 410.0 363.3 413.0 363.2 416.0 363.0 419.1 362.8 422.1 362.5 425.2 362.1 428.2 361.7 431.2 361.2 434.2 360.6 437.2 360.0 440.1 359.3 443.1 358.5 446.0 357.7 448.9 356.8 451.8 355.8 454.7 354.8 457.5 353.8 460.3 352.6 463.1 351.4 465.9 350.2 468.6 348.9 471.2 347.5 473.9 346.0 476.5 344.5 479.0 343.0 481.5 341.4 484.0 339.7 486.4 338.0 488.8 336.2 491.1 334.4 493.4 332.5 495.6 330.5 497.8 328.5 499.9 326.5 502.0 324.4 504.1 322.3 506.2 320.1 508.2 318.0 510.3 315.8 512.3 313.5 514.3 311.3 516.3 309.1 518.4 306.8 520.4 304.6 522.5 302.3 524.5 300.1 526.7 297.8 528.8 295.6 531.0 293.4 533.2 291.2 535.4 289.0 537.7 286.9 540.1 284.9 542.5 282.9 545.0 281.1 547.5 279.5 550.0 278.0 552.7 276.8 555.3 275.9 558.1 275.3 560.8 275.1 563.7 275.2 566.5 275.7 569.5 276.6 572.4 277.8 575.3 279.3 578.1 280.9 580.9 282.7 583.6 284.6 586.2 286.5 588.6 288.4 590.9 290.3 593.0 292.0 594.9 293.5 596.6 294.9 598.3 296.1 600.1 297.2 602.3 298.2 604.9 299.2 608.2 300.2 612.3 301.3 617.4 302.5" stroke="#E60000"/>
<path d="M153.5 315.0L154.2 312.1 155.0 309.2 155.8 306.3 156.6 303.5 157.5 300.6 158.4 297.7 159.4 294.9 160.4 292.1 161.4 289.2 162.5 286.4 163.6 283.5 164.7 280.7 165.8 277.9 166.9 275.1 168.0 272.3 169.2 269.4 170.3 266.6 171.4 263.8 172.6 261.0 173.7 258.2 174.8 255.3 175.9 252.5 177.0 249.7 178.1 246.9 179.1 244.0 180.1 241.2 181.1 238.4 182.0 235.5 182.9 232.7 183.8 229.8 184.7 227.0 185.5 224.1 186.3 221.2 187.1 218.4 187.9 215.5 188.6 212.6 189.3 209.7 190.1 206.8 190.8 203.9 191.5 201.0 192.2 198.1 192.8 195.2 193.5 192.3 194.2 189.4 194.9 186.5 195.6 183.5 196.2 180.6 196.9 177.7 197.6 174.7 198.3 171.8 199.1 168.8 199.8 165.9 200.5 162.9 201.3 160.0 202.1 157.0 202.9 154.0 203.7 151.0 204.6 148.1 205.5 145.1 206.4 142.1 207.3 139.1 208.3 136.2 209.4 133.3 210.6 130.4 211.8 127.6 213.2 125.0 214.7 122.4 216.3 119.9 218.0 117.6 220.0 115.5 222.1 113.5 224.3 111.8 226.7 110.7 229.2 110.4 231.7 111.1 234.0 112.7 236.1 114.9 237.9 117.6 239.6 120.6 241.2 123.6 242.7 126.5 244.2 129.4 245.6 132.1 247.0 134.8 248.3 137.5 249.5 140.1 250.8 142.7 251.9 145.4 253.1 148.1 254.2 150.9 255.2 153.6 256.2 156.4 257.2 159.2 258.2 162.0 259.1 164.9 260.0 167.8 260.9 170.6 261.7 173.5 262.6 176.4 263.4 179.4 264.2 182.3 265.0 185.2 265.8 188.2 266.6 191.1 267.4 194.1 268.2 197.0 269.0 200.0 269.8 202.9 270.6 205.9 271.4 208.8 272.3 211.7 273.1 214.7 274.0 217.6 274.9 220.5 275.8 223.3 276.7 226.2 277.7 229.0 278.7 231.9 279.7 234.7 280.8 237.4 281.9 240.2 283.1 242.9 284.3 245.6 285.5 248.3 286.7 251.0 287.9 253.7 289.1 256.4 290.3 259.1 291.5 261.9 292.6 264.6 293.7 267.4 294.8 270.3 295.9 273.1 296.9 276.0 297.9 278.8 298.9 281.7 299.9 284.6 300.9 287.5 301.9 290.4 302.9 293.3 304.0 296.2 305.1 299.1 306.2 301.9 307.3 304.7 308.5 307.5 309.8 310.3 311.1 313.0 312.5 315.6 313.9 318.2 315.5 320.8 317.1 323.3 318.8 325.7 320.6 328.1 322.5 330.4 324.5 332.6 326.6 334.7 328.8 336.7 331.1 338.7 333.5 340.6 335.9 342.3 338.5 344.0 341.1 345.5 343.7 346.9 346.5 348.2 349.2 349.4 352.0 350.5 354.9 351.4 357.8 352.2 360.7 352.9 363.6 353.4 366.6 353.9 369.6 354.2 372.6 354.4 375.6 354.6 378.6 354.7 381.7 354.7 384.7 354.7 387.8 354.6 390.9 354.5 394.0 354.5 397.0 354.4 400.1 354.3 403.2 354.2 406.3 354.2 409.3 354.1 412.4 354.1 415.5 354.1 418.5 354.1 421.5 354.0 424.6 354.0 427.6 353.9 430.6 353.8 433.6 353.7 436.6 353.5 439.6 353.3 442.6 353.0 445.5 352.7 448.5 352.2 451.4 351.8 454.3 351.2 457.2 350.5 460.1 349.8 462.9 348.9 465.8 348.0 468.6 347.0 471.5 346.0 474.3 344.9 477.1 343.7 479.9 342.5 482.6 341.3 485.4 340.0 488.2 338.7 490.9 337.4 493.6 336.1 496.3 334.7 499.1 333.4 501.8 332.0 504.5 330.7 507.1 329.3 509.8 328.0 512.5 326.6 515.1 325.2 517.8 323.7 520.4 322.3 523.0 320.8 525.6 319.3 528.2 317.7 530.8 316.1 533.4 314.5 536.0 312.8 538.6 311.2 541.1 309.6 543.8 308.1 546.4 306.6 549.0 305.2 551.7 303.9 554.4 302.7 557.2 301.7 560.0 300.9 562.9 300.2 565.8 299.7 568.8 299.5 571.9 299.5 575.1 299.8 578.3 300.3 581.6 301.2 585.0 302.2 588.4 303.4 591.8 304.6 595.2 305.7 598.5 306.7 601.7 307.5 604.8 308.0 607.8 308.0 610.5 307.6 613.1 306.6 615.4 304.9 617.4 302.5" stroke="#E60000"/>
<path d="M153.5 315.0L154.4 312.2 155.4 309.3 156.3 306.5 157.3 303.6 158.3 300.8 159.3 297.9 160.3 295.1 161.3 292.2 162.3 289.4 163.3 286.5 164.3 283.7 165.3 280.8 166.3 278.0 167.4 275.1 168.4 272.3 169.4 269.4 170.5 266.5 171.5 263.7 172.5 260.8 173.6 258.0 174.6 255.1 175.6 252.2 176.6 249.4 177.7 246.5 178.7 243.6 179.7 240.8 180.7 237.9 181.7 235.0 182.7 232.1 183.7 229.3 184.6 226.4 185.6 223.5 186.6 220.7 187.5 217.8 188.4 214.9 189.4 212.0 190.3 209.2 191.2 206.3 192.1 203.4 192.9 200.5 193.8 197.6 194.6 194.8 195.5 191.9 196.3 189.0 197.1 186.1 197.8 183.3 198.6 180.4 199.3 177.5 200.0 174.6 200.7 171.7 201.4 168.9 202.1 166.0 202.9 163.1 203.7 160.2 204.5 157.3 205.4 154.3 206.4 151.4 207.5 148.5 208.6 145.5 209.9 142.5 211.4 139.6 213.0 136.8 214.8 134.2 216.9 131.9 219.1 129.9 221.7 128.5 224.3 127.6 226.9 127.4 229.5 127.9 232.0 129.0 234.4 130.6 236.7 132.6 238.9 135.0 240.9 137.6 242.8 140.4 244.5 143.2 246.0 146.1 247.3 148.9 248.6 151.8 249.7 154.6 250.7 157.4 251.6 160.2 252.4 163.1 253.2 165.9 254.0 168.7 254.7 171.6 255.5 174.4 256.3 177.2 257.1 180.1 258.0 182.9 258.9 185.7 259.8 188.6 260.8 191.4 261.8 194.3 262.8 197.1 263.8 199.9 264.9 202.8 265.9 205.6 267.0 208.5 268.1 211.3 269.2 214.2 270.3 217.0 271.4 219.9 272.6 222.7 273.7 225.6 274.8 228.4 275.9 231.3 277.0 234.1 278.1 237.0 279.2 239.8 280.3 242.7 281.4 245.5 282.4 248.4 283.5 251.2 284.5 254.1 285.5 256.9 286.5 259.8 287.4 262.6 288.3 265.5 289.2 268.3 290.1 271.2 290.9 274.0 291.8 276.9 292.7 279.7 293.5 282.6 294.4 285.4 295.4 288.3 296.3 291.1 297.4 294.0 298.5 296.8 299.6 299.7 300.8 302.5 302.1 305.4 303.5 308.1 304.9 310.9 306.4 313.6 307.9 316.3 309.6 318.9 311.3 321.4 313.1 323.9 314.9 326.3 316.9 328.6 318.9 330.8 321.0 332.9 323.1 334.9 325.4 336.8 327.7 338.6 330.2 340.2 332.7 341.7 335.3 343.1 338.0 344.4 340.7 345.5 343.5 346.5 346.4 347.5 349.3 348.3 352.3 349.0 355.3 349.7 358.3 350.3 361.4 350.8 364.4 351.2 367.5 351.6 370.7 351.9 373.8 352.2 376.9 352.4 380.0 352.6 383.1 352.8 386.2 353.0 389.2 353.1 392.3 353.2 395.3 353.3 398.3 353.4 401.3 353.5 404.3 353.5 407.3 353.5 410.2 353.5 413.2 353.5 416.2 353.4 419.2 353.4 422.1 353.3 425.1 353.2 428.1 353.0 431.1 352.9 434.1 352.7 437.1 352.4 440.2 352.2 443.2 351.9 446.2 351.6 449.3 351.2 452.3 350.8 455.3 350.4 458.3 349.8 461.3 349.3 464.3 348.6 467.3 347.9 470.2 347.1 473.1 346.3 476.0 345.3 478.9 344.3 481.7 343.2 484.5 342.1 487.2 340.8 490.0 339.6 492.8 338.4 495.5 337.2 498.3 336.0 501.1 335.0 504.0 334.0 506.9 333.2 509.8 332.5 512.7 331.8 515.7 331.1 518.7 330.5 521.7 329.9 524.6 329.3 527.6 328.7 530.6 328.0 533.5 327.2 536.4 326.4 539.2 325.4 542.1 324.4 544.9 323.3 547.7 322.2 550.5 321.0 553.3 319.8 556.1 318.6 558.9 317.4 561.6 316.2 564.4 315.1 567.3 314.0 570.1 312.9 572.9 312.0 575.8 311.1 578.8 310.3 581.7 309.6 584.7 309.0 587.7 308.6 590.8 308.3 594.0 308.2 597.1 308.0 600.2 307.9 603.3 307.6 606.4 307.2 609.3 306.6 612.2 305.6 614.9 304.3 617.4 302.5" stroke="#E60000"/>
<path d="M153.5 315.0L154.4 312.1 155.3 309.2 156.3 306.3 157.2 303.4 158.2 300.5 159.2 297.6 160.1 294.7 161.1 291.9 162.1 289.0 163.1 286.2 164.2 283.3 165.2 280.5 166.2 277.7 167.2 274.8 168.3 272.0 169.3 269.2 170.4 266.4 171.4 263.5 172.5 260.7 173.5 257.9 174.6 255.1 175.6 252.3 176.7 249.5 177.7 246.7 178.8 243.9 179.9 241.1 180.9 238.2 181.9 235.4 183.0 232.6 184.0 229.8 185.0 227.0 186.1 224.1 187.1 221.3 188.1 218.5 189.1 215.6 190.1 212.8 191.1 209.9 192.0 207.1 193.0 204.2 194.0 201.3 194.9 198.4 195.8 195.5 196.7 192.6 197.6 189.7 198.5 186.8 199.4 183.9 200.2 180.9 201.1 178.0 201.9 175.0 202.7 172.1 203.5 169.1 204.5 166.2 205.5 163.2 206.7 160.3 208.1 157.5 209.6 154.7 211.5 152.0 213.5 149.4 215.8 147.1 218.2 145.1 220.7 143.7 223.2 142.7 225.7 142.5 228.2 142.9 230.7 144.0 233.1 145.6 235.3 147.6 237.5 150.0 239.5 152.6 241.2 155.4 242.8 158.2 244.2 161.0 245.5 163.9 246.7 166.8 247.7 169.8 248.7 172.7 249.7 175.7 250.7 178.6 251.7 181.5 252.6 184.4 253.6 187.3 254.6 190.2 255.5 193.0 256.5 195.9 257.5 198.8 258.5 201.6 259.5 204.4 260.4 207.2 261.4 210.1 262.4 212.9 263.4 215.7 264.4 218.5 265.4 221.3 266.5 224.1 267.5 226.9 268.5 229.8 269.5 232.6 270.6 235.4 271.6 238.2 272.7 241.1 273.8 243.9 274.8 246.7 275.9 249.6 277.0 252.4 278.0 255.3 279.1 258.2 280.1 261.0 281.1 263.9 282.0 266.7 283.0 269.6 283.9 272.5 284.8 275.4 285.7 278.2 286.6 281.1 287.6 283.9 288.5 286.8 289.4 289.7 290.4 292.5 291.4 295.3 292.5 298.2 293.6 301.0 294.7 303.8 296.0 306.6 297.3 309.3 298.6 312.1 300.1 314.9 301.6 317.6 303.3 320.2 305.0 322.8 306.9 325.2 309.0 327.4 311.1 329.4 313.5 331.2 316.0 332.7 318.6 334.0 321.3 335.2 324.1 336.1 327.0 336.9 329.9 337.6 333.0 338.1 336.0 338.5 339.1 338.8 342.2 339.0 345.3 339.2 348.4 339.3 351.4 339.4 354.5 339.5 357.5 339.5 360.5 339.5 363.6 339.5 366.6 339.4 369.6 339.4 372.6 339.4 375.6 339.3 378.6 339.3 381.6 339.3 384.6 339.3 387.7 339.3 390.7 339.3 393.7 339.3 396.7 339.3 399.7 339.3 402.7 339.3 405.7 339.3 408.8 339.4 411.8 339.4 414.8 339.4 417.8 339.5 420.8 339.5 423.9 339.6 426.9 339.6 429.9 339.7 432.9 339.8 436.0 339.8 439.0 339.9 442.0 340.0 445.0 340.1 448.1 340.2 451.1 340.2 454.1 340.3 457.2 340.4 460.2 340.6 463.2 340.7 466.3 340.8 469.3 340.9 472.3 341.0 475.4 341.1 478.4 341.3 481.4 341.4 484.5 341.5 487.5 341.7 490.5 341.8 493.6 341.9 496.6 342.0 499.6 342.1 502.7 342.2 505.7 342.2 508.7 342.2 511.7 342.2 514.7 342.2 517.8 342.1 520.8 341.9 523.8 341.7 526.7 341.5 529.7 341.2 532.7 340.8 535.7 340.4 538.6 339.9 541.6 339.4 544.5 338.7 547.4 338.0 550.3 337.2 553.2 336.3 556.1 335.4 559.0 334.3 561.8 333.1 564.7 331.9 567.5 330.5 570.2 329.1 572.9 327.7 575.6 326.1 578.2 324.5 580.8 322.8 583.3 321.1 585.7 319.4 588.2 317.6 590.6 315.9 593.1 314.2 595.5 312.5 598.0 310.9 600.5 309.3 603.1 307.9 605.8 306.5 608.5 305.3 611.4 304.2 614.3 303.3 617.4 302.5" stroke="#E60000"/>
<path d="M154.7 303.3L156.8 301.2 158.9 299.0 161.0 296.9 163.1 294.7 165.1 292.5 167.2 290.2 169.2 288.0 171.3 285.8 173.5 283.7 175.6 281.5 177.8 279.4 180.1 277.3 182.4 275.3 184.8 273.4 187.3 271.5 189.9 269.7 192.5 268.0 195.3 266.4 198.1 264.9 200.9 263.6 203.8 262.5 206.7 261.5 209.6 260.8 212.4 260.4 215.2 260.2 217.9 260.4 220.6 260.8 223.3 261.4 225.9 262.3 228.5 263.4 231.0 264.6 233.5 266.1 236.0 267.7 238.5 269.4 241.0 271.2 243.4 273.1 245.9 275.0 248.4 277.0 250.8 279.0 253.3 281.0 255.8 283.0 258.4 284.9 260.9 286.7 263.5 288.5 266.2 290.2 268.9 291.7 271.6 293.1 274.4 294.3 277.3 295.3 280.2 296.1 283.1 296.9 286.1 297.5 289.1 298.0 292.1 298.4 295.1 298.9 298.2 299.3 301.2 299.7 304.1 300.2 307.1 300.8 310.0 301.4 312.9 302.1 315.7 303.0 318.4 304.1 321.1 305.4 323.6 306.9 326.1 308.6 328.5 310.5 330.9 312.6 333.2 314.7 335.5 316.9 337.8 319.1 340.1 321.3 342.5 323.3 344.9 325.1 347.4 326.8 350.0 328.1 352.7 329.3 355.5 330.2 358.4 331.0 361.3 331.7 364.3 332.4 367.3 333.1 370.3 333.9 373.3 334.8 376.3 335.9 379.3 337.1 382.2 338.3 385.2 339.5 388.1 340.5 391.0 341.4 393.9 342.1 396.7 342.5 399.5 342.5 402.3 342.1 405.1 341.2 407.8 340.1 410.6 338.9 413.3 337.5 416.1 336.3 418.9 335.2 421.8 334.2 424.7 333.4 427.6 332.6 430.6 331.9 433.5 331.3 436.5 330.7 439.6 330.2 442.6 329.7 445.7 329.2 448.8 328.8 451.9 328.3 455.0 327.9 458.1 327.3 461.1 326.7 464.1 326.0 467.0 325.2 469.9 324.3 472.7 323.3 475.4 322.1 478.0 320.7 480.4 319.1 482.7 317.3 485.0 315.3 487.1 313.2 489.2 311.0 491.3 308.7 493.3 306.4 495.4 304.1 497.5 301.9 499.6 299.7 501.9 297.6 504.2 295.7 506.6 293.9 509.1 292.2 511.6 290.5 514.2 288.9 516.7 287.2 519.2 285.5 521.6 283.8 523.9 281.9 526.2 280.0 528.4 277.9 530.6 275.8 532.7 273.7 535.0 271.6 537.2 269.4 539.6 267.4 542.1 265.4 544.8 263.5 547.5 261.8 550.3 260.4 553.1 259.4 556.0 258.7 558.8 258.5 561.6 258.8 564.4 259.6 567.1 260.9 569.7 262.5 572.2 264.4 574.5 266.5 576.8 268.8 578.8 271.1 580.8 273.5 582.7 275.9 584.5 278.4 586.3 280.9 588.1 283.3 589.9 285.8 591.8 288.2 593.7 290.5 595.7 292.7 597.9 294.8 600.1 296.7 602.5 298.3 605.1 299.8 607.9 300.9 610.8 301.8 614.0 302.3 617.4 302.5" stroke="#000000"/>
<path d="M154.7 303.3L156.9 301.9 159.1 300.4 161.4 298.7 163.7 296.9 166.1 294.9 168.4 292.9 170.9 290.9 173.3 288.8 175.8 286.7 178.3 284.5 180.8 282.4 183.4 280.4 186.0 278.4 188.6 276.5 191.2 274.6 193.8 272.9 196.5 271.4 199.2 270.0 201.9 268.8 204.6 267.8 207.3 267.0 210.1 266.4 212.8 266.1 215.6 266.1 218.3 266.4 221.1 266.9 223.9 267.7 226.6 268.7 229.4 269.8 232.2 271.1 234.9 272.6 237.7 274.1 240.4 275.8 243.1 277.5 245.9 279.2 248.5 281.0 251.2 282.7 253.9 284.4 256.5 286.1 259.1 287.6 261.7 289.1 264.3 290.4 266.9 291.7 269.5 292.8 272.2 293.8 275.0 294.6 277.9 295.3 280.8 295.9 283.8 296.5 286.8 297.0 289.8 297.5 292.8 298.0 295.9 298.6 298.9 299.2 301.8 300.0 304.7 300.9 307.6 301.9 310.4 303.0 313.2 304.2 315.9 305.5 318.6 306.9 321.3 308.4 323.9 310.0 326.5 311.6 329.1 313.2 331.6 314.9 334.2 316.6 336.7 318.4 339.3 320.1 341.8 321.7 344.4 323.4 346.9 325.0 349.5 326.5 352.2 327.9 354.8 329.2 357.5 330.4 360.3 331.5 363.0 332.4 365.9 333.2 368.8 333.9 371.7 334.4 374.7 334.8 377.6 335.1 380.7 335.3 383.7 335.4 386.8 335.5 389.9 335.4 392.9 335.3 396.0 335.1 399.1 334.9 402.3 334.6 405.3 334.3 408.4 333.9 411.5 333.5 414.6 333.1 417.6 332.7 420.6 332.3 423.6 331.9 426.6 331.5 429.6 331.1 432.5 330.7 435.5 330.3 438.4 329.9 441.4 329.6 444.3 329.2 447.3 328.8 450.3 328.4 453.4 328.0 456.5 327.6 459.5 327.1 462.6 326.6 465.6 326.0 468.5 325.3 471.4 324.4 474.3 323.4 477.0 322.2 479.5 320.8 482.0 319.2 484.3 317.4 486.6 315.4 488.8 313.3 490.9 311.1 492.9 308.9 495.0 306.6 497.1 304.4 499.2 302.2 501.4 300.1 503.6 298.1 505.9 296.2 508.3 294.3 510.7 292.6 513.1 290.8 515.5 289.1 518.0 287.3 520.4 285.5 522.7 283.6 525.1 281.7 527.4 279.6 529.6 277.5 531.9 275.4 534.2 273.3 536.6 271.2 539.0 269.3 541.5 267.4 544.1 265.6 546.8 264.1 549.6 262.7 552.4 261.7 555.2 261.0 558.0 260.7 560.7 260.8 563.5 261.3 566.2 262.3 568.8 263.6 571.3 265.2 573.8 267.1 576.1 269.2 578.2 271.4 580.3 273.8 582.3 276.3 584.2 278.9 586.1 281.4 587.9 284.0 589.8 286.5 591.7 288.9 593.6 291.2 595.6 293.3 597.7 295.3 600.0 297.1 602.4 298.7 604.9 300.0 607.7 301.1 610.7 301.9 613.9 302.4 617.4 302.5" stroke="#000000"/>
<path d="M154.7 303.3L156.9 301.2 159.2 299.2 161.5 297.3 163.9 295.4 166.4 293.6 169.0 292.0 171.6 290.4 174.2 288.9 177.0 287.5 179.7 286.2 182.5 285.0 185.4 283.9 188.2 282.9 191.1 282.0 194.1 281.2 197.0 280.6 200.0 280.0 203.0 279.6 205.9 279.3 208.9 279.1 211.9 279.1 214.9 279.1 217.9 279.3 220.8 279.6 223.8 280.1 226.7 280.7 229.6 281.4 232.5 282.1 235.4 283.0 238.3 283.9 241.2 284.9 244.1 285.9 246.9 286.9 249.8 287.9 252.7 288.9 255.6 289.9 258.5 290.9 261.4 291.9 264.3 292.7 267.2 293.5 270.1 294.3 273.1 294.9 276.0 295.5 279.0 296.0 281.9 296.5 284.9 296.9 287.9 297.4 290.9 297.7 293.8 298.1 296.8 298.5 299.8 298.9 302.8 299.3 305.8 299.8 308.7 300.3 311.7 300.8 314.7 301.4 317.6 302.0 320.5 302.7 323.5 303.6 326.4 304.5 329.3 305.4 332.2 306.5 335.1 307.5 338.0 308.6 340.9 309.7 343.8 310.7 346.7 311.7 349.6 312.5 352.5 313.3 355.4 313.9 358.3 314.5 361.3 315.0 364.2 315.4 367.2 315.7 370.1 316.0 373.1 316.2 376.1 316.3 379.0 316.4 382.0 316.4 385.0 316.4 388.0 316.3 391.0 316.2 394.1 316.0 397.1 315.9 400.1 315.7 403.1 315.5 406.2 315.3 409.2 315.0 412.3 314.8 415.3 314.6 418.4 314.4 421.5 314.2 424.5 314.0 427.6 313.8 430.7 313.7 433.7 313.5 436.8 313.3 439.9 313.1 442.9 313.0 446.0 312.8 449.0 312.5 452.1 312.3 455.1 312.0 458.1 311.7 461.1 311.3 464.1 310.9 467.1 310.5 470.0 310.0 473.0 309.4 475.9 308.8 478.8 308.1 481.7 307.4 484.5 306.5 487.3 305.6 490.1 304.6 492.9 303.5 495.6 302.4 498.3 301.1 501.0 299.7 503.6 298.3 506.2 296.7 508.8 295.1 511.4 293.4 513.9 291.7 516.5 289.9 519.0 288.2 521.6 286.4 524.1 284.6 526.7 282.9 529.3 281.3 531.9 279.6 534.5 278.1 537.2 276.6 539.9 275.3 542.6 274.1 545.4 273.0 548.2 272.0 551.0 271.4 553.9 271.0 556.7 270.9 559.6 271.1 562.4 271.8 565.2 272.7 568.0 274.0 570.7 275.6 573.3 277.3 575.9 279.2 578.4 281.2 580.8 283.3 583.1 285.4 585.3 287.5 587.6 289.6 589.8 291.6 592.1 293.5 594.4 295.4 596.8 297.1 599.2 298.6 601.8 299.9 604.6 301.0 607.5 301.8 610.6 302.4 613.9 302.6 617.4 302.5" stroke="#000000"/>
<path d="M154.7 303.3L157.7 302.3 160.7 301.5 163.6 300.7 166.6 300.1 169.6 299.5 172.6 299.1 175.6 298.7 178.6 298.5 181.6 298.3 184.6 298.1 187.6 298.1 190.6 298.1 193.7 298.1 196.7 298.2 199.7 298.4 202.7 298.6 205.7 298.8 208.8 299.0 211.8 299.3 214.8 299.6 217.8 299.9 220.8 300.2 223.9 300.6 226.9 300.9 229.9 301.2 232.9 301.5 236.0 301.7 239.0 302.0 242.0 302.2 245.0 302.4 248.0 302.5 251.0 302.6 254.1 302.6 257.1 302.6 260.1 302.5 263.1 302.4 266.1 302.1 269.1 301.8 272.1 301.4 275.1 301.0 278.1 300.4 281.1 299.8 284.1 299.2 287.0 298.5 290.0 298.0 293.0 297.5 296.0 297.1 298.9 296.8 301.9 296.7 304.9 296.8 307.8 297.0 310.8 297.3 313.7 297.8 316.7 298.3 319.6 299.0 322.6 299.7 325.5 300.5 328.4 301.3 331.4 302.2 334.3 303.0 337.3 303.8 340.2 304.6 343.2 305.3 346.2 306.0 349.1 306.5 352.1 306.9 355.1 307.3 358.1 307.5 361.1 307.6 364.2 307.7 367.2 307.7 370.2 307.6 373.2 307.5 376.3 307.3 379.3 307.1 382.4 306.9 385.4 306.6 388.4 306.3 391.5 306.0 394.5 305.7 397.6 305.5 400.6 305.2 403.6 304.9 406.7 304.7 409.7 304.5 412.8 304.3 415.8 304.1 418.8 303.9 421.8 303.7 424.9 303.5 427.9 303.3 430.9 303.1 433.9 302.9 437.0 302.8 440.0 302.6 443.0 302.4 446.0 302.2 449.0 302.0 452.1 301.8 455.1 301.6 458.1 301.4 461.1 301.2 464.1 301.0 467.1 300.7 470.1 300.5 473.1 300.2 476.1 299.9 479.1 299.6 482.1 299.3 485.1 299.0 488.1 298.6 491.1 298.3 494.1 297.9 497.1 297.5 500.1 297.0 503.1 296.6 506.1 296.1 509.1 295.5 512.1 295.0 515.1 294.4 518.1 293.8 521.0 293.1 524.0 292.5 527.0 291.7 530.0 291.0 533.0 290.2 536.0 289.4 538.9 288.7 541.9 288.0 544.9 287.4 547.8 286.9 550.7 286.6 553.7 286.4 556.6 286.4 559.5 286.7 562.3 287.2 565.2 287.8 568.0 288.7 570.8 289.7 573.6 290.9 576.4 292.2 579.2 293.6 582.0 295.0 584.8 296.5 587.6 297.9 590.4 299.3 593.2 300.6 596.1 301.7 599.0 302.7 601.9 303.4 604.9 303.9 607.9 304.1 611.0 303.9 614.2 303.4 617.4 302.5" stroke="#000000"/>
</g>
<g clip-path="url(#clipB)" fill="none" stroke-width="4.0" stroke-linecap="butt" stroke-linejoin="round">
<path d="M893.6 376.4L896.6 376.3 899.7 376.0 902.6 375.7 905.6 375.3 908.6 374.9 911.5 374.3 914.5 373.7 917.4 373.1 920.3 372.3 923.2 371.6 926.1 370.8 929.0 370.0 931.9 369.1 934.8 368.2 937.6 367.3 940.5 366.4 943.4 365.5 946.3 364.6 949.3 363.8 952.2 362.9 955.1 362.1 958.1 361.2 961.0 360.5 964.0 359.8 967.0 359.3 969.9 358.9 972.9 358.7 975.8 358.7 978.8 358.9 981.7 359.4 984.6 360.0 987.5 360.8 990.4 361.6 993.3 362.4 996.2 363.1 999.1 363.9 1002.0 364.6 1004.9 365.2 1007.9 365.9 1010.8 366.5 1013.7 367.0 1016.7 367.6 1019.6 368.1 1022.6 368.6 1025.6 369.1 1028.5 369.5 1031.5 369.9 1034.5 370.3 1037.4 370.7 1040.4 371.1 1043.4 371.5 1046.4 371.8 1049.4 372.1 1052.4 372.5 1055.4 372.8 1058.4 373.1 1061.4 373.3 1064.4 373.6 1067.4 373.9 1070.4 374.2 1073.4 374.4 1076.4 374.7 1079.4 375.0 1082.4 375.2 1085.4 375.5 1088.4 375.8 1091.5 376.0 1094.5 376.3 1097.5 376.5 1100.5 376.8 1103.5 377.0 1106.5 377.2 1109.5 377.4 1112.6 377.6 1115.6 377.8 1118.6 378.0 1121.6 378.1 1124.6 378.2 1127.6 378.3 1130.6 378.3 1133.6 378.3 1136.6 378.3 1139.6 378.2 1142.6 378.1 1145.6 378.0 1148.6 377.8 1151.6 377.6 1154.6 377.3 1157.6 377.0 1160.6 376.6 1163.6 376.2 1166.5 375.7 1169.5 375.2 1172.5 374.6 1175.4 373.9 1178.4 373.2 1181.4 372.4 1184.3 371.5 1187.2 370.6 1190.1 369.6 1193.0 368.5 1195.8 367.3 1198.5 366.1 1201.2 364.7 1203.8 363.2 1206.3 361.7 1208.7 360.0 1211.0 358.2 1213.2 356.3 1215.2 354.3 1217.2 352.2 1219.1 350.0 1220.9 347.7 1222.6 345.4 1224.2 342.9 1225.7 340.4 1227.2 337.8 1228.6 335.2 1229.9 332.5 1231.2 329.7 1232.4 326.9 1233.6 324.1 1234.7 321.2 1235.8 318.4 1236.9 315.4 1237.9 312.5 1238.9 309.6 1239.9 306.6 1240.9 303.7 1241.9 300.8 1242.8 297.8 1243.7 294.9 1244.7 292.0 1245.6 289.1 1246.5 286.1 1247.4 283.2 1248.3 280.3 1249.2 277.4 1250.0 274.5 1250.9 271.6 1251.7 268.7 1252.6 265.8 1253.4 262.9 1254.2 260.0 1255.0 257.1 1255.8 254.2 1256.6 251.3 1257.4 248.4 1258.2 245.5 1258.9 242.6 1259.7 239.7 1260.4 236.8 1261.2 233.9 1261.9 231.0 1262.7 228.1 1263.4 225.2 1264.1 222.3 1264.8 219.4 1265.5 216.5 1266.2 213.6 1266.9 210.7 1267.6 207.8 1268.3 204.9 1268.9 202.0 1269.6 199.1 1270.3 196.2 1270.9 193.3 1271.6 190.4 1272.2 187.5 1272.9 184.6 1273.5 181.7 1274.1 178.8 1274.8 175.8 1275.4 172.9 1276.0 170.0 1276.7 167.1 1277.3 164.1 1277.9 161.2 1278.5 158.3 1279.1 155.3 1279.7 152.4 1280.3 149.4 1280.9 146.5 1281.5 143.5 1282.1 140.6 1282.7 137.6 1283.3 134.6 1283.9 131.7 1284.5 128.7 1285.1 125.7 1285.7 122.7 1286.4 119.7 1287.0 116.7 1287.7 113.6 1288.4 110.5 1289.1 107.5 1289.9 104.4 1290.8 101.2 1291.7 98.0 1292.7 94.8 1293.7 91.6 1294.8 88.4 1296.0 85.4 1297.2 82.8 1298.5 80.6 1299.9 79.0 1301.3 78.1 1302.8 78.1 1304.3 79.0 1305.8 80.7 1307.3 82.8 1308.8 85.4 1310.2 88.3 1311.5 91.3 1312.7 94.3 1313.8 97.3 1314.8 100.4 1315.6 103.4 1316.5 106.4 1317.2 109.4 1317.9 112.4 1318.5 115.5 1319.1 118.5 1319.6 121.5 1320.1 124.5 1320.6 127.5 1321.1 130.6 1321.6 133.6 1322.1 136.6 1322.6 139.6 1323.1 142.6 1323.5 145.6 1324.0 148.6 1324.5 151.6 1324.9 154.6 1325.4 157.6 1325.8 160.6 1326.3 163.6 1326.7 166.6 1327.2 169.6 1327.6 172.6 1328.1 175.5 1328.5 178.5 1328.9 181.5 1329.4 184.5 1329.8 187.5 1330.2 190.5 1330.7 193.4 1331.1 196.4 1331.5 199.4 1332.0 202.4 1332.4 205.3 1332.8 208.3 1333.3 211.3 1333.7 214.2 1334.2 217.2 1334.6 220.2 1335.0 223.1 1335.5 226.1 1335.9 229.1 1336.4 232.0 1336.8 235.0 1337.3 237.9 1337.7 240.9 1338.2 243.9 1338.7 246.8 1339.1 249.8 1339.6 252.7 1340.1 255.7 1340.6 258.6 1341.1 261.6 1341.6 264.6 1342.1 267.5 1342.6 270.5 1343.1 273.4 1343.6 276.4 1344.1 279.3 1344.6 282.3 1345.2 285.2 1345.7 288.2 1346.3 291.1 1346.8 294.1 1347.4 297.0 1348.0 300.0 1348.6 302.9 1349.1 305.9 1349.7 308.8 1350.4 311.8 1351.0 314.7 1351.6 317.7 1352.2 320.6 1352.9 323.6 1353.5 326.5 1354.2 329.4 1354.9 332.4 1355.6 335.3 1356.3 338.3 1357.0 341.2 1357.7 344.2 1358.5 347.1 1359.2 350.1" stroke="#D63FA0"/>
<path d="M893.6 376.4L896.5 376.6 899.5 376.6 902.5 376.6 905.4 376.4 908.4 376.2 911.3 375.8 914.3 375.4 917.3 374.9 920.2 374.4 923.2 373.8 926.2 373.2 929.1 372.5 932.1 371.8 935.1 371.0 938.0 370.3 941.0 369.5 944.0 368.8 946.9 368.0 949.9 367.3 952.9 366.6 955.8 365.9 958.8 365.2 961.7 364.6 964.7 364.1 967.6 363.6 970.6 363.2 973.5 362.8 976.4 362.6 979.4 362.4 982.3 362.4 985.2 362.4 988.1 362.6 991.1 362.8 994.0 363.2 996.9 363.8 999.8 364.4 1002.7 365.2 1005.5 366.0 1008.4 366.9 1011.3 367.8 1014.2 368.8 1017.1 369.9 1020.0 371.0 1022.9 372.0 1025.8 373.1 1028.7 374.2 1031.6 375.2 1034.5 376.2 1037.4 377.2 1040.3 378.1 1043.3 378.9 1046.2 379.6 1049.1 380.3 1052.1 380.9 1055.1 381.4 1058.0 381.9 1061.0 382.4 1064.0 382.7 1067.0 383.1 1070.0 383.3 1073.0 383.6 1076.0 383.8 1079.0 383.9 1082.0 384.0 1085.0 384.1 1088.0 384.2 1091.0 384.2 1094.0 384.2 1097.0 384.2 1100.0 384.2 1103.0 384.2 1106.1 384.1 1109.1 384.1 1112.1 384.1 1115.1 384.0 1118.1 384.0 1121.1 383.9 1124.1 383.9 1127.1 383.9 1130.1 383.9 1133.1 383.9 1136.1 383.8 1139.1 383.8 1142.0 383.8 1145.0 383.7 1148.0 383.6 1151.0 383.4 1154.0 383.2 1157.1 382.9 1160.1 382.6 1163.1 382.2 1166.1 381.7 1169.1 381.1 1172.1 380.5 1175.1 379.8 1178.1 379.0 1181.0 378.1 1183.9 377.1 1186.8 376.1 1189.6 374.9 1192.4 373.7 1195.1 372.4 1197.7 371.0 1200.3 369.5 1202.9 368.0 1205.3 366.3 1207.7 364.5 1210.0 362.7 1212.2 360.7 1214.3 358.7 1216.3 356.5 1218.2 354.3 1220.0 352.0 1221.7 349.6 1223.4 347.1 1225.0 344.5 1226.5 341.9 1228.0 339.3 1229.4 336.6 1230.7 333.8 1232.0 331.0 1233.2 328.2 1234.4 325.3 1235.5 322.4 1236.6 319.5 1237.7 316.6 1238.8 313.7 1239.8 310.7 1240.8 307.8 1241.8 304.9 1242.7 302.0 1243.7 299.1 1244.7 296.3 1245.6 293.4 1246.5 290.6 1247.4 287.7 1248.3 284.9 1249.2 282.0 1250.1 279.2 1251.0 276.4 1251.8 273.6 1252.7 270.7 1253.5 267.9 1254.3 265.0 1255.2 262.2 1256.0 259.3 1256.8 256.5 1257.5 253.6 1258.3 250.7 1259.1 247.8 1259.8 244.9 1260.6 242.0 1261.3 239.0 1262.1 236.1 1262.8 233.2 1263.5 230.2 1264.2 227.3 1264.9 224.3 1265.6 221.4 1266.3 218.4 1266.9 215.4 1267.6 212.4 1268.3 209.5 1268.9 206.5 1269.6 203.5 1270.2 200.5 1270.9 197.6 1271.5 194.6 1272.1 191.6 1272.8 188.6 1273.4 185.6 1274.0 182.7 1274.6 179.7 1275.2 176.7 1275.8 173.7 1276.4 170.8 1277.0 167.8 1277.6 164.9 1278.2 161.9 1278.8 159.0 1279.4 156.0 1280.0 153.1 1280.6 150.2 1281.1 147.3 1281.7 144.4 1282.3 141.5 1282.9 138.6 1283.5 135.7 1284.0 132.8 1284.6 130.0 1285.2 127.1 1285.8 124.3 1286.4 121.4 1287.0 118.5 1287.7 115.6 1288.3 112.6 1289.1 109.6 1289.8 106.6 1290.6 103.5 1291.5 100.2 1292.4 97.0 1293.4 93.6 1294.4 90.1 1295.6 86.8 1296.8 83.7 1298.0 81.1 1299.4 79.1 1300.8 77.9 1302.2 77.6 1303.8 78.4 1305.3 80.0 1306.9 82.2 1308.4 85.0 1309.9 88.1 1311.3 91.3 1312.5 94.5 1313.7 97.7 1314.7 100.8 1315.6 103.9 1316.5 106.9 1317.2 109.9 1317.9 112.9 1318.6 115.9 1319.2 118.8 1319.7 121.8 1320.2 124.7 1320.7 127.7 1321.2 130.6 1321.7 133.5 1322.2 136.5 1322.7 139.4 1323.2 142.4 1323.6 145.3 1324.1 148.3 1324.6 151.2 1325.0 154.2 1325.5 157.1 1325.9 160.1 1326.4 163.1 1326.8 166.0 1327.3 169.0 1327.7 172.0 1328.2 174.9 1328.6 177.9 1329.1 180.9 1329.5 183.9 1329.9 186.9 1330.4 189.8 1330.8 192.8 1331.2 195.8 1331.7 198.8 1332.1 201.8 1332.5 204.8 1333.0 207.7 1333.4 210.7 1333.8 213.7 1334.3 216.7 1334.7 219.7 1335.2 222.7 1335.6 225.7 1336.1 228.7 1336.5 231.6 1337.0 234.6 1337.4 237.6 1337.9 240.6 1338.3 243.6 1338.8 246.6 1339.3 249.6 1339.7 252.6 1340.2 255.5 1340.7 258.5 1341.2 261.5 1341.7 264.5 1342.2 267.5 1342.7 270.5 1343.2 273.4 1343.7 276.4 1344.2 279.4 1344.7 282.4 1345.3 285.3 1345.8 288.3 1346.4 291.3 1346.9 294.2 1347.5 297.2 1348.1 300.2 1348.6 303.1 1349.2 306.1 1349.8 309.0 1350.4 312.0 1351.0 314.9 1351.7 317.9 1352.3 320.8 1352.9 323.8 1353.6 326.7 1354.3 329.6 1354.9 332.6 1355.6 335.5 1356.3 338.4 1357.0 341.4 1357.7 344.3 1358.5 347.2 1359.2 350.1" stroke="#D63FA0"/>
<path d="M893.6 376.4L896.6 377.4 899.7 378.2 902.7 378.6 905.7 378.8 908.7 378.7 911.6 378.5 914.6 378.0 917.5 377.4 920.5 376.6 923.4 375.8 926.3 374.8 929.3 373.8 932.2 372.8 935.1 371.8 938.0 370.7 940.9 369.8 943.9 368.9 946.8 368.1 949.7 367.3 952.7 366.6 955.6 366.0 958.5 365.5 961.5 365.0 964.4 364.6 967.4 364.3 970.3 364.0 973.3 363.9 976.2 363.8 979.2 363.8 982.1 363.8 985.0 364.0 988.0 364.2 990.9 364.5 993.9 364.9 996.8 365.3 999.8 365.9 1002.7 366.5 1005.7 367.1 1008.6 367.9 1011.6 368.6 1014.5 369.4 1017.5 370.2 1020.4 371.0 1023.4 371.9 1026.3 372.7 1029.2 373.5 1032.2 374.3 1035.1 375.1 1038.1 375.9 1041.1 376.6 1044.0 377.2 1047.0 377.8 1049.9 378.4 1052.9 378.9 1055.8 379.4 1058.8 379.8 1061.8 380.2 1064.7 380.6 1067.7 380.9 1070.7 381.2 1073.6 381.5 1076.6 381.7 1079.6 382.0 1082.6 382.1 1085.6 382.3 1088.6 382.4 1091.6 382.6 1094.6 382.7 1097.6 382.8 1100.6 382.8 1103.6 382.9 1106.6 382.9 1109.6 383.0 1112.6 383.0 1115.6 383.0 1118.7 383.0 1121.7 383.0 1124.7 383.0 1127.8 383.0 1130.8 383.0 1133.9 383.0 1136.9 383.1 1140.0 383.1 1143.1 383.1 1146.2 383.2 1149.2 383.2 1152.3 383.3 1155.4 383.4 1158.5 383.5 1161.6 383.6 1164.7 383.7 1167.8 383.8 1170.9 383.8 1173.9 383.8 1177.0 383.7 1179.9 383.5 1182.9 383.2 1185.8 382.8 1188.6 382.2 1191.3 381.4 1194.0 380.5 1196.6 379.3 1199.1 378.0 1201.5 376.3 1203.8 374.5 1206.0 372.5 1208.2 370.3 1210.3 368.0 1212.2 365.6 1214.2 363.1 1216.0 360.6 1217.8 358.0 1219.6 355.4 1221.3 352.9 1222.9 350.3 1224.5 347.6 1226.1 345.0 1227.6 342.4 1229.0 339.7 1230.4 337.1 1231.8 334.4 1233.1 331.7 1234.4 329.0 1235.7 326.2 1236.9 323.5 1238.0 320.8 1239.2 318.0 1240.3 315.2 1241.4 312.4 1242.4 309.6 1243.5 306.8 1244.5 304.0 1245.4 301.2 1246.4 298.3 1247.3 295.5 1248.2 292.6 1249.1 289.8 1250.0 286.9 1250.8 284.0 1251.7 281.1 1252.5 278.2 1253.3 275.3 1254.1 272.4 1254.9 269.4 1255.7 266.5 1256.4 263.6 1257.2 260.7 1258.0 257.7 1258.7 254.8 1259.4 251.8 1260.2 248.9 1260.9 246.0 1261.6 243.0 1262.3 240.1 1263.0 237.1 1263.8 234.1 1264.5 231.2 1265.1 228.2 1265.8 225.3 1266.5 222.3 1267.2 219.4 1267.9 216.4 1268.5 213.4 1269.2 210.5 1269.8 207.5 1270.5 204.6 1271.1 201.6 1271.8 198.6 1272.4 195.7 1273.0 192.7 1273.6 189.8 1274.2 186.8 1274.9 183.8 1275.5 180.9 1276.1 177.9 1276.7 175.0 1277.2 172.0 1277.8 169.1 1278.4 166.1 1279.0 163.2 1279.6 160.3 1280.1 157.3 1280.7 154.4 1281.2 151.5 1281.8 148.5 1282.3 145.6 1282.9 142.7 1283.4 139.8 1284.0 136.9 1284.5 134.0 1285.0 131.1 1285.5 128.2 1286.1 125.3 1286.6 122.4 1287.2 119.4 1287.8 116.5 1288.4 113.5 1289.0 110.5 1289.7 107.4 1290.5 104.3 1291.3 101.1 1292.1 97.8 1293.1 94.4 1294.1 91.0 1295.2 87.7 1296.4 84.6 1297.7 81.9 1299.0 79.8 1300.4 78.4 1301.9 78.0 1303.4 78.5 1305.0 80.0 1306.6 82.1 1308.1 84.8 1309.6 87.8 1311.0 91.0 1312.3 94.2 1313.5 97.4 1314.5 100.5 1315.5 103.6 1316.4 106.6 1317.1 109.7 1317.9 112.7 1318.5 115.6 1319.1 118.6 1319.7 121.5 1320.3 124.5 1320.8 127.4 1321.3 130.4 1321.8 133.3 1322.3 136.2 1322.8 139.2 1323.3 142.1 1323.8 145.1 1324.2 148.0 1324.7 151.0 1325.2 154.0 1325.6 156.9 1326.1 159.9 1326.6 162.9 1327.0 165.8 1327.5 168.8 1327.9 171.8 1328.4 174.7 1328.8 177.7 1329.2 180.7 1329.7 183.7 1330.1 186.7 1330.6 189.6 1331.0 192.6 1331.4 195.6 1331.9 198.6 1332.3 201.6 1332.7 204.6 1333.2 207.6 1333.6 210.6 1334.0 213.5 1334.5 216.5 1334.9 219.5 1335.4 222.5 1335.8 225.5 1336.2 228.5 1336.7 231.5 1337.1 234.5 1337.6 237.5 1338.0 240.5 1338.5 243.5 1338.9 246.4 1339.4 249.4 1339.9 252.4 1340.3 255.4 1340.8 258.4 1341.3 261.4 1341.8 264.4 1342.3 267.4 1342.8 270.3 1343.3 273.3 1343.8 276.3 1344.3 279.3 1344.8 282.3 1345.4 285.2 1345.9 288.2 1346.4 291.2 1347.0 294.2 1347.5 297.1 1348.1 300.1 1348.7 303.1 1349.3 306.0 1349.9 309.0 1350.5 311.9 1351.1 314.9 1351.7 317.8 1352.3 320.8 1353.0 323.7 1353.6 326.7 1354.3 329.6 1354.9 332.6 1355.6 335.5 1356.3 338.4 1357.0 341.3 1357.7 344.3 1358.5 347.2 1359.2 350.1" stroke="#D63FA0"/>
<path d="M893.6 376.4L896.2 378.4 898.8 380.1 901.5 381.4 904.2 382.5 907.0 383.3 909.8 383.8 912.6 384.1 915.5 384.2 918.4 384.1 921.3 383.9 924.2 383.5 927.2 383.1 930.2 382.5 933.2 381.9 936.2 381.3 939.2 380.6 942.2 380.0 945.2 379.3 948.3 378.8 951.3 378.3 954.3 377.9 957.3 377.6 960.4 377.4 963.4 377.3 966.4 377.2 969.4 377.3 972.4 377.4 975.4 377.5 978.5 377.8 981.5 378.1 984.4 378.4 987.4 378.8 990.4 379.3 993.4 379.9 996.4 380.4 999.3 381.1 1002.3 381.8 1005.2 382.5 1008.1 383.2 1011.1 384.0 1014.0 384.9 1016.9 385.7 1019.8 386.6 1022.7 387.4 1025.6 388.3 1028.5 389.1 1031.4 389.9 1034.3 390.7 1037.3 391.4 1040.2 392.1 1043.1 392.8 1046.0 393.3 1049.0 393.8 1051.9 394.3 1054.9 394.7 1057.9 395.1 1060.8 395.4 1063.8 395.7 1066.8 395.9 1069.8 396.2 1072.8 396.4 1075.8 396.6 1078.8 396.8 1081.8 396.9 1084.8 397.1 1087.9 397.2 1090.9 397.4 1093.9 397.5 1096.9 397.7 1100.0 397.8 1103.0 398.0 1106.1 398.2 1109.1 398.4 1112.1 398.6 1115.2 398.9 1118.2 399.1 1121.3 399.3 1124.3 399.5 1127.4 399.6 1130.4 399.8 1133.4 399.9 1136.5 400.0 1139.5 400.0 1142.5 400.0 1145.5 399.9 1148.5 399.7 1151.5 399.5 1154.4 399.2 1157.4 398.8 1160.3 398.4 1163.3 397.8 1166.2 397.1 1169.1 396.4 1172.0 395.5 1174.8 394.5 1177.7 393.4 1180.5 392.1 1183.3 390.8 1186.0 389.3 1188.7 387.8 1191.3 386.2 1193.8 384.5 1196.3 382.8 1198.7 380.9 1201.0 379.1 1203.3 377.1 1205.5 375.1 1207.6 373.0 1209.7 370.9 1211.7 368.7 1213.6 366.5 1215.5 364.2 1217.3 361.8 1219.1 359.4 1220.8 357.0 1222.5 354.5 1224.1 352.0 1225.7 349.5 1227.2 346.9 1228.7 344.2 1230.1 341.6 1231.5 338.9 1232.9 336.2 1234.2 333.4 1235.5 330.7 1236.7 327.9 1238.0 325.1 1239.1 322.3 1240.3 319.4 1241.4 316.6 1242.5 313.7 1243.6 310.9 1244.7 308.0 1245.7 305.1 1246.7 302.2 1247.7 299.3 1248.7 296.5 1249.6 293.6 1250.6 290.7 1251.5 287.8 1252.4 284.9 1253.3 282.0 1254.1 279.1 1255.0 276.2 1255.8 273.3 1256.7 270.4 1257.5 267.5 1258.3 264.6 1259.0 261.7 1259.8 258.8 1260.5 255.9 1261.3 253.0 1262.0 250.1 1262.7 247.1 1263.4 244.2 1264.1 241.3 1264.8 238.4 1265.5 235.5 1266.1 232.5 1266.8 229.6 1267.4 226.7 1268.0 223.7 1268.6 220.8 1269.3 217.9 1269.9 214.9 1270.4 212.0 1271.0 209.1 1271.6 206.1 1272.2 203.2 1272.8 200.2 1273.3 197.3 1273.9 194.3 1274.4 191.4 1275.0 188.4 1275.5 185.4 1276.1 182.5 1276.6 179.5 1277.1 176.6 1277.7 173.6 1278.2 170.6 1278.7 167.7 1279.2 164.7 1279.8 161.7 1280.3 158.7 1280.8 155.8 1281.3 152.8 1281.8 149.8 1282.4 146.8 1282.9 143.8 1283.4 140.8 1283.9 137.9 1284.5 134.9 1285.0 131.9 1285.5 128.9 1286.1 125.9 1286.6 122.9 1287.2 119.8 1287.8 116.8 1288.4 113.8 1289.1 110.7 1289.8 107.7 1290.6 104.6 1291.4 101.5 1292.2 98.3 1293.1 95.1 1294.1 91.9 1295.2 88.8 1296.3 85.9 1297.5 83.3 1298.8 81.3 1300.2 79.9 1301.6 79.3 1303.1 79.6 1304.7 80.8 1306.2 82.6 1307.8 85.0 1309.3 87.8 1310.7 90.8 1312.0 93.8 1313.2 96.8 1314.3 99.9 1315.3 102.9 1316.2 106.0 1317.0 109.0 1317.8 112.0 1318.5 115.0 1319.1 118.0 1319.7 121.0 1320.3 124.1 1320.8 127.1 1321.3 130.1 1321.8 133.1 1322.3 136.1 1322.9 139.1 1323.4 142.1 1323.8 145.1 1324.3 148.1 1324.8 151.1 1325.3 154.1 1325.8 157.1 1326.2 160.1 1326.7 163.1 1327.2 166.0 1327.6 169.0 1328.1 172.0 1328.5 175.0 1329.0 178.0 1329.4 181.0 1329.9 184.0 1330.3 187.0 1330.7 189.9 1331.2 192.9 1331.6 195.9 1332.0 198.9 1332.5 201.9 1332.9 204.9 1333.4 207.8 1333.8 210.8 1334.2 213.8 1334.7 216.8 1335.1 219.7 1335.5 222.7 1336.0 225.7 1336.4 228.7 1336.9 231.6 1337.3 234.6 1337.7 237.6 1338.2 240.6 1338.6 243.5 1339.1 246.5 1339.6 249.5 1340.0 252.4 1340.5 255.4 1341.0 258.4 1341.4 261.3 1341.9 264.3 1342.4 267.3 1342.9 270.2 1343.4 273.2 1343.9 276.1 1344.4 279.1 1344.9 282.1 1345.5 285.0 1346.0 288.0 1346.5 291.0 1347.1 293.9 1347.6 296.9 1348.2 299.8 1348.7 302.8 1349.3 305.8 1349.9 308.7 1350.5 311.7 1351.1 314.6 1351.7 317.6 1352.4 320.5 1353.0 323.5 1353.6 326.5 1354.3 329.4 1355.0 332.4 1355.6 335.3 1356.3 338.3 1357.0 341.2 1357.7 344.2 1358.5 347.1 1359.2 350.1" stroke="#D63FA0"/>
<path d="M893.5 363.2L894.5 366.0 895.6 368.8 896.6 371.7 897.7 374.5 898.7 377.4 899.7 380.2 900.7 383.1 901.8 385.9 902.8 388.8 903.8 391.6 904.8 394.5 905.8 397.3 906.9 400.2 907.9 403.0 908.9 405.9 910.0 408.7 911.0 411.5 912.1 414.4 913.2 417.2 914.2 420.0 915.3 422.8 916.4 425.7 917.6 428.5 918.7 431.2 919.8 434.0 921.0 436.8 922.2 439.6 923.3 442.3 924.6 445.1 925.8 447.8 927.0 450.5 928.3 453.2 929.6 455.9 930.9 458.6 932.3 461.2 933.7 463.9 935.2 466.6 936.8 469.2 938.7 471.9 940.7 474.7 943.0 477.5 945.5 480.1 948.1 482.3 950.6 483.6 953.0 483.9 955.0 483.0 956.9 481.1 958.5 478.6 960.1 476.0 961.6 473.3 963.1 470.6 964.5 467.9 965.8 465.1 967.1 462.4 968.4 459.6 969.6 456.9 970.8 454.1 971.9 451.3 973.0 448.5 974.0 445.7 975.0 442.9 976.0 440.0 976.9 437.2 977.8 434.3 978.7 431.5 979.6 428.6 980.4 425.7 981.2 422.9 982.0 420.0 982.8 417.1 983.6 414.2 984.3 411.3 985.1 408.4 985.8 405.5 986.5 402.6 987.3 399.7 988.0 396.7 988.7 393.8 989.4 390.9 990.2 388.0 990.9 385.1 991.7 382.2 992.4 379.2 993.2 376.3 994.0 373.4 994.8 370.5 995.6 367.6 996.5 364.7 997.4 361.8 998.3 358.9 999.2 356.0 1000.2 353.1 1001.2 350.2 1002.2 347.3 1003.3 344.5 1004.4 341.6 1005.6 338.8 1006.7 335.9 1008.0 333.1 1009.3 330.3 1010.6 327.4 1012.0 324.6 1013.5 321.9 1015.0 319.1 1016.5 316.4 1018.1 313.8 1019.8 311.1 1021.5 308.6 1023.3 306.1 1025.1 303.7 1027.0 301.3 1029.0 299.0 1031.0 296.8 1033.1 294.7 1035.3 292.7 1037.6 290.8 1039.9 289.0 1042.2 287.4 1044.7 285.8 1047.2 284.4 1049.8 283.1 1052.5 282.0 1055.2 281.0 1058.0 280.1 1060.9 279.4 1063.9 278.8 1066.9 278.3 1069.9 277.9 1072.9 277.6 1076.0 277.4 1079.1 277.2 1082.2 277.2 1085.3 277.2 1088.4 277.2 1091.4 277.3 1094.5 277.4 1097.6 277.6 1100.6 277.8 1103.7 278.1 1106.7 278.3 1109.7 278.7 1112.7 279.0 1115.7 279.4 1118.8 279.8 1121.8 280.2 1124.8 280.6 1127.7 281.0 1130.7 281.5 1133.7 282.0 1136.7 282.5 1139.6 283.0 1142.6 283.5 1145.6 284.0 1148.5 284.5 1151.5 285.0 1154.4 285.6 1157.4 286.1 1160.3 286.6 1163.3 287.2 1166.2 287.8 1169.2 288.3 1172.1 288.9 1175.1 289.5 1178.0 290.1 1181.0 290.7 1183.9 291.3 1186.9 291.9 1189.8 292.5 1192.8 293.1 1195.7 293.7 1198.7 294.3 1201.7 294.9 1204.6 295.6 1207.6 296.2 1210.6 296.8 1213.6 297.4 1216.6 298.0 1219.6 298.7 1222.6 299.3 1225.5 299.9 1228.5 300.6 1231.5 301.3 1234.5 302.0 1237.5 302.7 1240.4 303.5 1243.3 304.3 1246.2 305.1 1249.1 306.0 1252.0 307.0 1254.8 308.0 1257.6 309.0 1260.4 310.1 1263.1 311.3 1265.8 312.6 1268.4 313.9 1271.1 315.4 1273.6 316.9 1276.1 318.5 1278.6 320.1 1281.0 321.9 1283.4 323.7 1285.7 325.6 1288.0 327.5 1290.3 329.5 1292.6 331.6 1294.8 333.6 1297.1 335.7 1299.3 337.8 1301.5 339.9 1303.7 342.1 1305.9 344.2 1308.1 346.3 1310.3 348.4 1312.6 350.5 1314.8 352.6 1317.1 354.6 1319.4 356.6 1321.7 358.5 1324.0 360.4 1326.4 362.2 1328.8 364.0 1331.3 365.6 1333.8 367.2 1336.4 368.7 1339.0 370.1 1341.7 371.4 1344.4 372.6 1347.2 373.6 1350.1 374.5 1353.1 375.3 1356.1 376.0 1359.2 376.5" stroke="#007F00"/>
<path d="M893.5 363.2L894.5 366.0 895.6 368.8 896.6 371.6 897.6 374.4 898.6 377.3 899.6 380.1 900.7 383.0 901.7 385.8 902.7 388.7 903.7 391.6 904.7 394.4 905.8 397.3 906.8 400.2 907.8 403.0 908.8 405.9 909.9 408.8 910.9 411.6 912.0 414.5 913.0 417.4 914.1 420.2 915.2 423.1 916.3 425.9 917.4 428.7 918.5 431.5 919.6 434.3 920.7 437.1 921.8 439.9 923.0 442.7 924.2 445.4 925.4 448.1 926.6 450.8 927.8 453.5 929.0 456.2 930.3 458.8 931.6 461.5 932.9 464.1 934.3 466.7 935.8 469.3 937.5 472.0 939.4 474.7 941.6 477.5 944.0 480.3 946.6 482.9 949.2 484.9 951.7 486.0 954.0 485.9 956.0 484.7 957.9 482.7 959.6 480.2 961.2 477.6 962.7 474.9 964.2 472.3 965.7 469.6 967.0 466.8 968.3 464.1 969.6 461.3 970.8 458.6 971.9 455.8 973.1 453.0 974.1 450.1 975.1 447.3 976.1 444.4 977.1 441.6 978.0 438.7 978.9 435.8 979.7 432.9 980.5 430.0 981.3 427.1 982.1 424.1 982.9 421.2 983.6 418.2 984.3 415.3 985.1 412.3 985.8 409.4 986.5 406.4 987.2 403.5 987.9 400.5 988.6 397.5 989.3 394.6 990.0 391.6 990.7 388.7 991.4 385.7 992.2 382.8 992.9 379.8 993.7 376.9 994.5 374.0 995.3 371.1 996.2 368.2 997.0 365.3 997.9 362.4 998.9 359.5 999.8 356.7 1000.9 353.8 1001.9 351.0 1003.0 348.2 1004.2 345.4 1005.3 342.6 1006.6 339.9 1007.9 337.1 1009.2 334.4 1010.6 331.8 1012.1 329.1 1013.6 326.5 1015.2 323.9 1016.9 321.4 1018.6 318.9 1020.4 316.4 1022.2 314.0 1024.2 311.6 1026.2 309.3 1028.3 307.0 1030.5 304.8 1032.7 302.7 1035.0 300.6 1037.4 298.7 1039.8 296.8 1042.3 295.1 1044.8 293.4 1047.4 291.9 1050.0 290.6 1052.6 289.3 1055.4 288.2 1058.1 287.3 1060.9 286.4 1063.7 285.7 1066.5 285.1 1069.4 284.6 1072.3 284.2 1075.3 283.9 1078.2 283.6 1081.2 283.5 1084.2 283.4 1087.2 283.4 1090.3 283.5 1093.3 283.6 1096.4 283.8 1099.5 284.1 1102.6 284.4 1105.7 284.7 1108.8 285.0 1111.9 285.4 1115.0 285.8 1118.1 286.3 1121.1 286.7 1124.2 287.2 1127.3 287.6 1130.4 288.0 1133.5 288.5 1136.5 288.9 1139.5 289.3 1142.6 289.7 1145.6 290.1 1148.6 290.5 1151.6 291.0 1154.6 291.4 1157.6 291.8 1160.6 292.2 1163.6 292.6 1166.5 293.0 1169.5 293.4 1172.5 293.8 1175.4 294.2 1178.4 294.7 1181.3 295.1 1184.3 295.6 1187.2 296.1 1190.2 296.5 1193.1 297.0 1196.1 297.6 1199.0 298.1 1202.0 298.6 1204.9 299.2 1207.9 299.8 1210.8 300.4 1213.8 301.1 1216.7 301.7 1219.7 302.4 1222.7 303.1 1225.6 303.9 1228.6 304.7 1231.5 305.5 1234.4 306.3 1237.3 307.2 1240.2 308.2 1243.1 309.1 1246.0 310.2 1248.8 311.3 1251.6 312.4 1254.4 313.6 1257.2 314.8 1259.9 316.1 1262.6 317.5 1265.2 318.9 1267.8 320.4 1270.4 321.9 1272.9 323.6 1275.4 325.3 1277.8 327.0 1280.2 328.8 1282.5 330.7 1284.9 332.6 1287.2 334.6 1289.4 336.6 1291.7 338.6 1294.0 340.6 1296.2 342.7 1298.5 344.7 1300.8 346.7 1303.1 348.7 1305.4 350.7 1307.7 352.6 1310.1 354.5 1312.5 356.4 1315.0 358.2 1317.5 359.9 1320.0 361.6 1322.5 363.2 1325.2 364.7 1327.8 366.2 1330.5 367.6 1333.2 368.9 1335.9 370.1 1338.7 371.3 1341.5 372.3 1344.4 373.3 1347.3 374.1 1350.2 374.9 1353.2 375.5 1356.2 376.1 1359.2 376.5" stroke="#007F00"/>
<path d="M893.5 363.2L894.5 366.1 895.5 368.9 896.5 371.8 897.6 374.7 898.6 377.5 899.6 380.4 900.6 383.2 901.6 386.0 902.6 388.9 903.6 391.7 904.6 394.6 905.6 397.4 906.6 400.2 907.6 403.0 908.6 405.9 909.6 408.7 910.7 411.5 911.7 414.3 912.7 417.1 913.8 419.9 914.8 422.7 915.9 425.6 917.0 428.4 918.1 431.2 919.2 434.0 920.3 436.8 921.4 439.6 922.5 442.4 923.7 445.2 924.9 447.9 926.0 450.7 927.2 453.5 928.5 456.3 929.7 459.1 930.9 461.9 932.2 464.7 933.5 467.5 934.9 470.2 936.4 472.9 937.9 475.6 939.6 478.2 941.5 480.7 943.5 483.1 945.7 485.3 948.0 487.1 950.4 488.4 952.9 488.9 955.5 488.7 958.1 487.8 960.6 486.4 962.9 484.6 964.9 482.4 966.7 480.0 968.2 477.4 969.6 474.6 970.8 471.7 971.9 468.6 972.8 465.5 973.8 462.3 974.6 459.1 975.5 456.0 976.4 453.0 977.3 450.0 978.2 447.0 979.1 444.1 979.9 441.2 980.8 438.3 981.7 435.5 982.6 432.7 983.5 429.9 984.4 427.1 985.2 424.3 986.1 421.5 986.9 418.7 987.7 415.9 988.5 413.1 989.3 410.2 990.0 407.3 990.8 404.4 991.5 401.5 992.2 398.6 993.0 395.6 993.7 392.7 994.5 389.7 995.2 386.8 996.0 383.8 996.8 380.9 997.6 378.0 998.5 375.0 999.4 372.1 1000.3 369.2 1001.3 366.4 1002.3 363.5 1003.4 360.7 1004.6 357.9 1005.8 355.1 1007.0 352.4 1008.4 349.7 1009.8 347.0 1011.3 344.4 1012.9 341.8 1014.6 339.3 1016.3 336.8 1018.2 334.4 1020.1 332.1 1022.1 329.8 1024.2 327.6 1026.4 325.4 1028.6 323.4 1030.9 321.5 1033.3 319.6 1035.7 317.8 1038.2 316.2 1040.7 314.6 1043.4 313.2 1046.0 311.9 1048.8 310.7 1051.5 309.7 1054.3 308.8 1057.2 308.0 1060.1 307.3 1063.1 306.8 1066.0 306.3 1069.1 306.0 1072.1 305.8 1075.1 305.6 1078.2 305.5 1081.3 305.5 1084.4 305.5 1087.5 305.6 1090.6 305.7 1093.7 305.9 1096.7 306.0 1099.8 306.2 1102.9 306.4 1105.9 306.6 1109.0 306.9 1112.0 307.1 1115.0 307.3 1118.0 307.6 1121.1 307.9 1124.1 308.2 1127.1 308.5 1130.1 308.8 1133.1 309.1 1136.1 309.4 1139.1 309.7 1142.0 310.0 1145.0 310.3 1148.0 310.7 1151.0 311.0 1154.0 311.3 1156.9 311.7 1159.9 312.0 1162.9 312.4 1165.9 312.7 1168.8 313.0 1171.8 313.3 1174.8 313.7 1177.8 314.0 1180.7 314.3 1183.7 314.6 1186.7 314.9 1189.7 315.2 1192.7 315.5 1195.7 315.7 1198.7 316.0 1201.7 316.2 1204.7 316.5 1207.8 316.7 1210.8 316.9 1213.8 317.1 1216.9 317.2 1219.9 317.4 1223.0 317.6 1226.0 317.7 1229.1 317.8 1232.1 318.0 1235.2 318.2 1238.2 318.3 1241.2 318.5 1244.2 318.8 1247.2 319.0 1250.2 319.3 1253.1 319.6 1256.1 319.9 1259.0 320.3 1261.8 320.8 1264.7 321.3 1267.4 322.0 1270.1 323.1 1272.6 324.5 1274.9 326.2 1277.3 328.2 1279.5 330.3 1281.7 332.5 1283.9 334.7 1286.1 336.9 1288.4 339.0 1290.7 341.0 1293.0 342.9 1295.3 344.8 1297.7 346.7 1300.0 348.6 1302.4 350.5 1304.7 352.4 1307.1 354.2 1309.5 356.1 1311.9 357.9 1314.4 359.7 1316.8 361.4 1319.3 363.1 1321.8 364.7 1324.4 366.2 1327.0 367.7 1329.6 369.1 1332.3 370.4 1335.1 371.6 1337.9 372.7 1340.7 373.6 1343.6 374.5 1346.6 375.2 1349.6 375.7 1352.7 376.2 1355.9 376.4 1359.2 376.5" stroke="#007F00"/>
<path d="M893.5 363.2L894.5 366.1 895.5 369.0 896.5 371.9 897.5 374.7 898.5 377.6 899.5 380.4 900.5 383.3 901.4 386.1 902.4 389.0 903.4 391.8 904.4 394.7 905.4 397.5 906.4 400.3 907.4 403.1 908.4 405.9 909.4 408.8 910.4 411.6 911.5 414.4 912.5 417.2 913.5 420.0 914.6 422.8 915.6 425.6 916.7 428.4 917.8 431.2 918.9 434.0 919.9 436.8 921.1 439.6 922.2 442.4 923.3 445.2 924.5 448.0 925.6 450.8 926.8 453.6 928.0 456.5 929.2 459.3 930.4 462.1 931.6 464.9 932.9 467.7 934.2 470.6 935.6 473.3 937.1 476.1 938.6 478.8 940.3 481.4 942.1 484.0 944.1 486.4 946.2 488.6 948.4 490.4 950.7 491.7 953.1 492.4 955.6 492.3 958.1 491.7 960.4 490.5 962.7 488.9 964.7 486.9 966.6 484.6 968.2 482.1 969.6 479.3 970.9 476.4 972.0 473.3 973.1 470.2 974.0 467.0 975.0 463.7 975.8 460.5 976.7 457.3 977.6 454.2 978.4 451.2 979.3 448.2 980.1 445.3 981.0 442.3 981.8 439.5 982.6 436.6 983.5 433.8 984.3 431.0 985.1 428.2 985.9 425.4 986.7 422.6 987.4 419.8 988.2 417.0 988.9 414.2 989.7 411.3 990.4 408.5 991.1 405.6 991.8 402.7 992.5 399.8 993.2 396.9 994.0 393.9 994.7 391.0 995.5 388.0 996.2 385.1 997.0 382.2 997.9 379.2 998.7 376.3 999.6 373.4 1000.6 370.5 1001.5 367.6 1002.6 364.8 1003.7 361.9 1004.8 359.1 1006.0 356.3 1007.3 353.6 1008.6 350.9 1010.0 348.2 1011.5 345.6 1013.1 343.0 1014.8 340.4 1016.5 337.9 1018.3 335.5 1020.2 333.1 1022.2 330.8 1024.3 328.5 1026.4 326.4 1028.7 324.3 1030.9 322.3 1033.3 320.4 1035.7 318.6 1038.2 316.9 1040.7 315.4 1043.3 313.9 1046.0 312.6 1048.7 311.4 1051.4 310.3 1054.2 309.4 1057.1 308.6 1060.0 308.0 1062.9 307.4 1065.9 307.0 1068.9 306.7 1071.9 306.5 1074.9 306.4 1078.0 306.3 1081.1 306.3 1084.1 306.3 1087.2 306.4 1090.3 306.6 1093.4 306.7 1096.5 306.9 1099.5 307.1 1102.6 307.2 1105.7 307.4 1108.7 307.6 1111.8 307.9 1114.8 308.1 1117.8 308.3 1120.8 308.5 1123.9 308.8 1126.9 309.0 1129.9 309.3 1132.9 309.5 1135.9 309.8 1138.9 310.1 1141.9 310.3 1144.9 310.6 1147.9 310.9 1150.9 311.2 1153.9 311.5 1156.8 311.8 1159.8 312.1 1162.8 312.4 1165.8 312.7 1168.8 313.0 1171.7 313.3 1174.7 313.7 1177.7 314.0 1180.7 314.3 1183.7 314.6 1186.6 314.9 1189.6 315.3 1192.6 315.6 1195.6 315.9 1198.6 316.3 1201.6 316.6 1204.6 316.9 1207.6 317.2 1210.6 317.6 1213.6 317.9 1216.6 318.2 1219.6 318.5 1222.6 318.8 1225.6 319.1 1228.7 319.3 1231.7 319.4 1234.8 319.5 1237.9 319.5 1241.0 319.4 1244.0 319.3 1247.1 319.2 1250.2 319.1 1253.2 319.1 1256.2 319.3 1259.1 319.7 1261.9 320.3 1264.6 321.2 1267.2 322.3 1269.8 323.7 1272.3 325.2 1274.7 326.8 1277.1 328.6 1279.5 330.5 1281.8 332.5 1284.0 334.5 1286.3 336.6 1288.5 338.7 1290.7 340.9 1293.0 343.0 1295.2 345.2 1297.5 347.3 1299.8 349.3 1302.1 351.3 1304.5 353.2 1306.8 355.0 1309.3 356.8 1311.7 358.5 1314.2 360.1 1316.7 361.7 1319.3 363.2 1321.9 364.7 1324.5 366.0 1327.2 367.3 1329.9 368.5 1332.6 369.7 1335.4 370.8 1338.2 371.7 1341.1 372.7 1344.0 373.5 1346.9 374.3 1349.9 374.9 1353.0 375.5 1356.1 376.1 1359.2 376.5" stroke="#007F00"/>
<path d="M893.6 376.4L896.7 376.4 899.7 376.3 902.7 376.0 905.7 375.5 908.7 374.9 911.6 374.2 914.5 373.4 917.4 372.5 920.3 371.6 923.2 370.6 926.1 369.6 929.0 368.6 931.9 367.6 934.8 366.7 937.7 365.7 940.6 364.9 943.5 364.1 946.4 363.4 949.4 362.7 952.4 362.1 955.3 361.6 958.3 361.1 961.3 360.7 964.3 360.4 967.3 360.1 970.3 359.9 973.4 359.7 976.4 359.6 979.4 359.6 982.4 359.6 985.5 359.6 988.5 359.7 991.5 359.9 994.5 360.1 997.6 360.3 1000.6 360.6 1003.6 360.8 1006.6 361.1 1009.7 361.4 1012.7 361.7 1015.7 362.0 1018.7 362.2 1021.8 362.5 1024.8 362.7 1027.8 362.9 1030.8 363.1 1033.9 363.3 1036.9 363.4 1039.9 363.6 1042.9 363.7 1045.9 363.8 1049.0 363.8 1052.0 363.9 1055.0 363.9 1058.0 364.0 1061.0 364.0 1064.1 364.0 1067.1 364.0 1070.1 364.0 1073.1 364.0 1076.1 364.0 1079.2 364.0 1082.2 364.0 1085.2 364.0 1088.2 364.0 1091.2 364.0 1094.3 364.0 1097.3 364.0 1100.3 364.0 1103.4 364.1 1106.4 364.1 1109.4 364.2 1112.4 364.2 1115.5 364.3 1118.5 364.4 1121.6 364.5 1124.6 364.6 1127.6 364.8 1130.7 364.9 1133.7 365.1 1136.8 365.3 1139.8 365.5 1142.9 365.8 1145.9 366.0 1149.0 366.2 1152.0 366.4 1155.1 366.7 1158.1 366.9 1161.2 367.1 1164.2 367.4 1167.3 367.6 1170.3 367.8 1173.3 368.0 1176.4 368.1 1179.4 368.3 1182.4 368.4 1185.5 368.5 1188.5 368.6 1191.5 368.6 1194.5 368.7 1197.5 368.6 1200.6 368.6 1203.6 368.5 1206.5 368.4 1209.5 368.2 1212.5 368.0 1215.5 367.7 1218.5 367.4 1221.4 367.1 1224.4 366.6 1227.3 366.2 1230.3 365.6 1233.2 365.0 1236.1 364.3 1239.1 363.5 1242.0 362.6 1244.9 361.7 1247.7 360.6 1250.6 359.5 1253.5 358.2 1256.3 356.9 1259.2 355.7 1262.0 354.4 1264.9 353.3 1267.7 352.4 1270.6 351.7 1273.5 351.1 1276.5 350.8 1279.4 350.8 1282.3 350.9 1285.2 351.1 1288.2 351.6 1291.1 352.2 1294.0 352.9 1296.9 353.8 1299.7 354.8 1302.6 356.0 1305.4 357.2 1308.2 358.5 1311.0 359.9 1313.7 361.3 1316.4 362.8 1319.1 364.3 1321.7 365.9 1324.4 367.4 1327.0 368.9 1329.7 370.3 1332.4 371.6 1335.2 372.8 1337.9 373.9 1340.8 374.9 1343.6 375.7 1346.6 376.3 1349.6 376.7 1352.7 376.9 1355.9 376.8 1359.2 376.5" stroke="#000000"/>
<path d="M893.6 376.4L896.7 377.0 899.7 377.3 902.7 377.3 905.7 377.1 908.7 376.8 911.6 376.2 914.5 375.6 917.5 374.8 920.3 373.9 923.2 372.9 926.1 371.9 929.0 370.8 931.9 369.8 934.8 368.8 937.7 367.8 940.6 366.9 943.5 366.1 946.4 365.3 949.4 364.6 952.3 364.0 955.3 363.5 958.3 363.0 961.3 362.6 964.3 362.3 967.3 362.0 970.3 361.8 973.3 361.7 976.3 361.6 979.4 361.6 982.4 361.6 985.4 361.7 988.4 361.8 991.5 361.9 994.5 362.1 997.5 362.3 1000.5 362.6 1003.6 362.9 1006.6 363.1 1009.6 363.4 1012.6 363.7 1015.7 364.0 1018.7 364.2 1021.7 364.5 1024.7 364.7 1027.8 364.9 1030.8 365.1 1033.8 365.3 1036.8 365.4 1039.8 365.5 1042.9 365.6 1045.9 365.7 1048.9 365.8 1051.9 365.9 1054.9 365.9 1057.9 366.0 1061.0 366.0 1064.0 366.0 1067.0 366.0 1070.0 366.0 1073.0 366.0 1076.0 366.0 1079.1 366.0 1082.1 366.0 1085.1 366.0 1088.1 366.0 1091.1 366.0 1094.2 366.0 1097.2 366.0 1100.2 366.0 1103.2 366.1 1106.3 366.1 1109.3 366.1 1112.3 366.2 1115.4 366.3 1118.4 366.4 1121.4 366.5 1124.5 366.6 1127.5 366.8 1130.6 366.9 1133.6 367.1 1136.6 367.3 1139.7 367.5 1142.7 367.8 1145.8 368.0 1148.8 368.2 1151.9 368.5 1154.9 368.7 1158.0 368.9 1161.0 369.1 1164.1 369.4 1167.1 369.6 1170.2 369.8 1173.2 370.0 1176.2 370.1 1179.3 370.3 1182.3 370.4 1185.3 370.5 1188.3 370.6 1191.4 370.6 1194.4 370.7 1197.4 370.6 1200.4 370.6 1203.4 370.5 1206.4 370.4 1209.4 370.2 1212.4 370.0 1215.3 369.7 1218.3 369.4 1221.3 369.1 1224.2 368.7 1227.2 368.2 1230.1 367.6 1233.0 367.0 1236.0 366.3 1238.9 365.5 1241.8 364.7 1244.7 363.7 1247.6 362.7 1250.4 361.5 1253.3 360.3 1256.1 359.0 1259.0 357.8 1261.8 356.5 1264.7 355.4 1267.6 354.5 1270.4 353.7 1273.3 353.2 1276.3 352.9 1279.2 352.8 1282.1 352.8 1285.0 353.1 1288.0 353.5 1290.9 354.1 1293.8 354.9 1296.7 355.7 1299.5 356.7 1302.4 357.8 1305.2 359.1 1308.0 360.4 1310.8 361.8 1313.5 363.2 1316.2 364.8 1318.8 366.3 1321.5 367.8 1324.2 369.3 1326.8 370.8 1329.5 372.2 1332.2 373.5 1335.0 374.6 1337.7 375.7 1340.6 376.5 1343.5 377.1 1346.5 377.5 1349.5 377.7 1352.6 377.6 1355.9 377.2 1359.2 376.5" stroke="#000000"/>
<path d="M893.6 376.4L896.6 377.1 899.6 377.6 902.7 378.0 905.7 378.2 908.7 378.3 911.7 378.3 914.6 378.2 917.6 378.0 920.6 377.7 923.6 377.4 926.6 376.9 929.6 376.5 932.5 376.0 935.5 375.4 938.5 374.8 941.5 374.2 944.4 373.6 947.4 373.0 950.4 372.5 953.4 371.9 956.4 371.4 959.3 370.9 962.3 370.5 965.3 370.2 968.3 369.9 971.3 369.6 974.3 369.3 977.3 369.0 980.3 368.7 983.3 368.4 986.3 368.1 989.3 367.8 992.3 367.4 995.3 366.9 998.3 366.4 1001.3 365.8 1004.3 365.2 1007.3 364.6 1010.3 364.0 1013.2 363.5 1016.2 363.1 1019.2 362.8 1022.1 362.7 1025.1 362.9 1028.1 363.2 1031.0 363.7 1034.0 364.3 1036.9 365.0 1039.9 365.7 1042.9 366.3 1045.8 366.9 1048.8 367.5 1051.8 368.0 1054.8 368.5 1057.8 369.0 1060.8 369.4 1063.8 369.8 1066.8 370.2 1069.8 370.6 1072.8 370.9 1075.8 371.2 1078.8 371.4 1081.8 371.6 1084.9 371.9 1087.9 372.0 1090.9 372.2 1093.9 372.4 1096.9 372.5 1099.9 372.6 1102.9 372.7 1106.0 372.8 1109.0 372.8 1112.0 372.9 1115.0 372.9 1118.0 372.9 1121.0 373.0 1124.0 373.0 1127.1 373.0 1130.1 373.0 1133.1 373.0 1136.1 373.1 1139.1 373.1 1142.1 373.1 1145.1 373.1 1148.2 373.2 1151.2 373.2 1154.2 373.3 1157.2 373.3 1160.3 373.4 1163.3 373.5 1166.3 373.7 1169.3 373.8 1172.4 373.9 1175.4 374.1 1178.4 374.3 1181.5 374.6 1184.5 374.8 1187.5 375.1 1190.6 375.4 1193.6 375.7 1196.7 376.1 1199.7 376.4 1202.7 376.6 1205.8 376.7 1208.8 376.7 1211.8 376.6 1214.7 376.3 1217.7 375.7 1220.6 375.0 1223.5 374.2 1226.4 373.2 1229.3 372.2 1232.2 371.1 1235.1 369.9 1237.9 368.8 1240.8 367.8 1243.7 366.8 1246.5 365.9 1249.4 365.1 1252.3 364.5 1255.1 364.1 1258.0 363.9 1260.9 363.9 1263.8 364.1 1266.7 364.5 1269.7 365.0 1272.6 365.6 1275.5 366.3 1278.5 367.0 1281.4 367.7 1284.4 368.4 1287.4 369.1 1290.3 369.6 1293.3 370.1 1296.3 370.4 1299.3 370.6 1302.3 370.7 1305.3 370.7 1308.3 370.8 1311.3 371.0 1314.3 371.2 1317.2 371.5 1320.2 371.9 1323.2 372.3 1326.2 372.7 1329.1 373.2 1332.1 373.7 1335.1 374.2 1338.1 374.7 1341.1 375.1 1344.1 375.5 1347.1 375.9 1350.1 376.2 1353.1 376.4 1356.1 376.5 1359.2 376.5" stroke="#000000"/>
<path d="M893.6 376.4L896.6 377.0 899.5 377.5 902.5 378.1 905.5 378.6 908.5 379.2 911.5 379.7 914.5 380.2 917.4 380.7 920.4 381.3 923.4 381.8 926.4 382.3 929.4 382.8 932.4 383.3 935.4 383.8 938.4 384.3 941.4 384.8 944.4 385.4 947.3 385.9 950.3 386.4 953.3 386.9 956.3 387.4 959.3 387.9 962.3 388.4 965.3 388.8 968.3 389.2 971.2 389.6 974.2 389.9 977.2 390.2 980.2 390.4 983.2 390.6 986.3 390.7 989.3 390.7 992.3 390.7 995.3 390.6 998.4 390.4 1001.4 390.2 1004.4 390.0 1007.5 389.8 1010.5 389.6 1013.5 389.4 1016.6 389.2 1019.6 389.1 1022.7 388.9 1025.7 388.9 1028.7 388.9 1031.8 388.9 1034.8 389.0 1037.8 389.1 1040.8 389.2 1043.9 389.3 1046.9 389.4 1049.9 389.5 1053.0 389.5 1056.0 389.6 1059.0 389.7 1062.1 389.7 1065.1 389.7 1068.1 389.8 1071.2 389.8 1074.2 389.8 1077.2 389.8 1080.2 389.8 1083.3 389.8 1086.3 389.8 1089.3 389.8 1092.4 389.8 1095.4 389.7 1098.4 389.7 1101.5 389.7 1104.5 389.6 1107.5 389.6 1110.6 389.5 1113.6 389.5 1116.7 389.5 1119.7 389.4 1122.7 389.4 1125.8 389.3 1128.8 389.3 1131.8 389.2 1134.9 389.2 1137.9 389.1 1140.9 389.1 1144.0 389.0 1147.0 389.0 1150.0 388.9 1153.1 388.9 1156.1 388.8 1159.1 388.8 1162.1 388.8 1165.2 388.7 1168.2 388.7 1171.2 388.6 1174.3 388.6 1177.3 388.5 1180.3 388.5 1183.4 388.4 1186.4 388.4 1189.4 388.3 1192.4 388.2 1195.5 388.2 1198.5 388.1 1201.5 388.0 1204.5 387.8 1207.6 387.6 1210.6 387.3 1213.6 386.9 1216.6 386.4 1219.5 385.8 1222.5 385.2 1225.5 384.4 1228.5 383.5 1231.4 382.6 1234.4 381.7 1237.3 380.8 1240.3 379.9 1243.2 379.1 1246.2 378.4 1249.1 377.7 1252.1 377.3 1255.0 377.0 1258.0 376.8 1261.0 376.9 1264.0 377.3 1266.9 377.8 1269.9 378.4 1272.9 379.1 1275.9 379.9 1278.9 380.6 1281.9 381.3 1284.8 381.8 1287.8 382.1 1290.7 382.3 1293.6 382.3 1296.5 382.0 1299.4 381.5 1302.3 380.8 1305.2 380.0 1308.1 379.1 1311.0 378.2 1313.9 377.2 1316.8 376.4 1319.8 375.5 1322.7 374.7 1325.7 374.0 1328.7 373.4 1331.7 372.9 1334.7 372.6 1337.8 372.4 1340.8 372.3 1343.8 372.4 1346.9 372.8 1350.0 373.3 1353.0 374.1 1356.1 375.2 1359.2 376.5" stroke="#000000"/>
</g>
<g clip-path="url(#clipC)" fill="none" stroke-width="4.0" stroke-linecap="butt" stroke-linejoin="round">
<path d="M143.9 696.5L146.6 698.0 149.2 699.5 151.8 701.1 154.3 702.7 156.9 704.4 159.4 706.1 161.9 707.8 164.3 709.6 166.7 711.4 169.1 713.2 171.5 715.1 173.8 717.0 176.1 718.9 178.4 720.9 180.6 722.9 182.8 724.9 185.0 726.9 187.2 729.0 189.3 731.1 191.4 733.3 193.5 735.5 195.5 737.7 197.6 739.9 199.6 742.1 201.5 744.4 203.5 746.7 205.4 749.0 207.3 751.4 209.2 753.8 211.0 756.2 212.8 758.6 214.6 761.0 216.4 763.5 218.2 765.9 219.9 768.4 221.6 771.0 223.3 773.5 224.9 776.0 226.6 778.6 228.2 781.2 229.8 783.8 231.3 786.4 232.9 789.0 234.4 791.7 235.9 794.3 237.4 797.0 238.9 799.7 240.3 802.4 241.7 805.1 243.1 807.8 244.5 810.5 245.9 813.2 247.2 816.0 248.6 818.7 249.9 821.5 251.1 824.3 252.4 827.0 253.7 829.8 254.9 832.6 256.1 835.4 257.3 838.1 258.5 840.9 259.6 843.7 260.8 846.5 261.9 849.3 263.0 852.1 264.1 854.9 265.2 857.7 266.3 860.5 267.4 863.3 268.4 866.1 269.4 868.9 270.5 871.7 271.5 874.5 272.5 877.3 273.5 880.1 274.5 882.9 275.5 885.7 276.5 888.5 277.4 891.3 278.4 894.1 279.4 896.9 280.3 899.8 281.3 902.6 282.3 905.4 283.2 908.2 284.2 911.0 285.2 913.8 286.1 916.6 287.1 919.4 288.1 922.2 289.0 925.0 290.0 927.8 291.0 930.6 292.0 933.4 293.0 936.2 294.0 939.0 295.0 941.8 296.0 944.6 297.1 947.4 298.1 950.2 299.2 953.0 300.3 955.8 301.3 958.6 302.4 961.4 303.5 964.1 304.7 966.9 305.8 969.7 307.0 972.5 308.1 975.3 309.3 978.1 310.5 980.8 311.8 983.6 313.0 986.4 314.3 989.1 315.6 991.9 316.9 994.7 318.3 997.4 319.6 1000.2 321.0 1003.0 322.4 1005.7 323.9 1008.5 325.4 1011.2 326.9 1013.9 328.4 1016.7 329.9 1019.4 331.5 1022.2 333.2 1024.9 334.8 1027.6 336.5 1030.3 338.2 1033.1 340.0 1035.8 341.7 1038.5 343.6 1041.2 345.4 1043.9 347.3 1046.5 349.2 1049.1 351.2 1051.7 353.2 1054.2 355.2 1056.6 357.3 1058.9 359.4 1061.1 361.5 1063.2 363.6 1065.2 365.8 1067.1 368.1 1068.8 370.3 1070.4 372.6 1071.8 374.9 1073.0 377.3 1074.0 379.7 1074.9 382.1 1075.5 384.5 1075.9 387.0 1076.1 389.5 1076.0 392.1 1075.7 394.6 1075.1 397.2 1074.3 399.8 1073.3 402.3 1072.2 404.8 1070.8 407.4 1069.3 409.8 1067.6 412.2 1065.8 414.6 1063.9 416.8 1061.8 419.0 1059.7 421.1 1057.5 423.1 1055.2 425.0 1052.9 426.8 1050.5 428.6 1048.0 430.2 1045.5 431.8 1042.9 433.3 1040.3 434.8 1037.6 436.2 1034.9 437.5 1032.1 438.8 1029.3 440.0 1026.5 441.2 1023.6 442.3 1020.7 443.4 1017.8 444.4 1014.8 445.4 1011.8 446.4 1008.9 447.3 1005.8 448.3 1002.8 449.2 999.8 450.1 996.8 450.9 993.7 451.8 990.7 452.7 987.7 453.5 984.7 454.4 981.7 455.3 978.7 456.1 975.7 457.0 972.7 457.8 969.7 458.7 966.8 459.6 963.8 460.4 960.8 461.3 957.9 462.2 954.9 463.0 952.0 463.9 949.1 464.8 946.2 465.7 943.3 466.5 940.3 467.4 937.4 468.3 934.6 469.2 931.7 470.1 928.8 471.0 925.9 471.9 923.0 472.8 920.2 473.7 917.3 474.6 914.5 475.5 911.6 476.5 908.8 477.4 905.9 478.4 903.1 479.3 900.3 480.3 897.5 481.2 894.6 482.2 891.8 483.2 889.0 484.2 886.2 485.2 883.4 486.2 880.6 487.2 877.8 488.2 875.1 489.2 872.3 490.3 869.5 491.3 866.7 492.4 864.0 493.5 861.2 494.6 858.4 495.7 855.7 496.8 852.9 497.9 850.2 499.0 847.4 500.2 844.7 501.3 841.9 502.5 839.2 503.7 836.5 504.9 833.7 506.1 831.0 507.3 828.3 508.6 825.5 509.8 822.8 511.1 820.1 512.4 817.4 513.7 814.6 515.0 811.9 516.3 809.2 517.7 806.5 519.0 803.8 520.4 801.1 521.8 798.4 523.2 795.7 524.7 793.0 526.1 790.3 527.6 787.6 529.1 785.0 530.6 782.3 532.2 779.7 533.7 777.0 535.3 774.4 536.9 771.8 538.5 769.2 540.2 766.7 541.9 764.1 543.6 761.6 545.3 759.1 547.1 756.6 548.9 754.2 550.7 751.7 552.5 749.3 554.4 747.0 556.3 744.6 558.2 742.3 560.2 740.0 562.2 737.7 564.2 735.5 566.2 733.3 568.3 731.2 570.4 729.1 572.6 727.0 574.8 724.9 577.0 722.9 579.2 721.0 581.5 719.1 583.9 717.2 586.2 715.4 588.6 713.6 591.1 711.8 593.5 710.1 596.1 708.5 598.6 706.9 601.2 705.4 603.8 703.9 606.5 702.5 609.2 701.1 612.0 699.8 614.8 698.5" stroke="#4D1400"/>
<path d="M143.9 696.5L146.5 698.0 149.2 699.6 151.7 701.2 154.3 702.8 156.8 704.5 159.3 706.2 161.7 707.9 164.2 709.7 166.6 711.5 168.9 713.4 171.3 715.2 173.6 717.2 175.9 719.1 178.1 721.1 180.3 723.1 182.5 725.2 184.7 727.2 186.8 729.3 189.0 731.5 191.0 733.6 193.1 735.8 195.1 738.0 197.1 740.3 199.1 742.5 201.1 744.8 203.0 747.1 204.9 749.5 206.8 751.8 208.6 754.2 210.5 756.6 212.3 759.1 214.0 761.5 215.8 764.0 217.5 766.5 219.2 769.0 220.9 771.5 222.6 774.1 224.2 776.6 225.8 779.2 227.4 781.8 229.0 784.4 230.6 787.0 232.1 789.7 233.6 792.3 235.1 795.0 236.6 797.7 238.0 800.4 239.4 803.1 240.8 805.8 242.2 808.5 243.6 811.2 244.9 814.0 246.3 816.7 247.6 819.5 248.9 822.2 250.1 825.0 251.4 827.8 252.6 830.5 253.8 833.3 255.0 836.1 256.2 838.9 257.4 841.7 258.5 844.5 259.7 847.3 260.8 850.0 261.9 852.8 263.0 855.6 264.0 858.4 265.1 861.2 266.1 864.0 267.2 866.8 268.2 869.6 269.2 872.4 270.2 875.2 271.2 878.0 272.2 880.8 273.2 883.6 274.2 886.4 275.2 889.2 276.1 892.0 277.1 894.8 278.1 897.6 279.0 900.4 280.0 903.2 280.9 906.0 281.9 908.8 282.8 911.6 283.8 914.4 284.7 917.2 285.7 920.0 286.7 922.8 287.6 925.6 288.6 928.4 289.6 931.2 290.6 934.0 291.6 936.7 292.6 939.5 293.6 942.3 294.6 945.1 295.6 947.9 296.6 950.7 297.7 953.5 298.7 956.3 299.8 959.1 300.9 961.9 302.0 964.6 303.1 967.4 304.2 970.2 305.4 973.0 306.5 975.8 307.7 978.5 308.9 981.3 310.1 984.1 311.4 986.9 312.6 989.6 313.9 992.4 315.2 995.2 316.5 997.9 317.9 1000.7 319.3 1003.5 320.7 1006.2 322.1 1009.0 323.5 1011.7 325.0 1014.5 326.5 1017.2 328.1 1020.0 329.6 1022.7 331.2 1025.5 332.9 1028.2 334.5 1031.0 336.2 1033.7 337.9 1036.4 339.7 1039.2 341.5 1041.9 343.3 1044.6 345.2 1047.3 347.0 1049.9 349.0 1052.5 350.9 1055.0 352.9 1057.5 355.0 1059.9 357.0 1062.1 359.1 1064.3 361.3 1066.4 363.4 1068.4 365.6 1070.2 367.9 1071.8 370.1 1073.4 372.4 1074.7 374.8 1075.9 377.1 1076.9 379.5 1077.7 382.0 1078.3 384.4 1078.7 386.9 1078.8 389.5 1078.7 392.1 1078.4 394.6 1077.8 397.2 1077.0 399.9 1076.1 402.4 1074.9 405.0 1073.5 407.6 1072.0 410.1 1070.4 412.5 1068.6 414.9 1066.6 417.3 1064.6 419.5 1062.5 421.7 1060.3 423.7 1058.1 425.7 1055.7 427.6 1053.4 429.3 1050.9 431.0 1048.4 432.7 1045.9 434.2 1043.3 435.7 1040.6 437.1 1037.9 438.4 1035.2 439.7 1032.4 440.9 1029.6 442.1 1026.8 443.2 1023.9 444.3 1021.0 445.3 1018.1 446.3 1015.2 447.3 1012.2 448.2 1009.2 449.2 1006.2 450.0 1003.2 450.9 1000.2 451.8 997.2 452.6 994.2 453.4 991.2 454.3 988.2 455.1 985.2 455.9 982.2 456.7 979.2 457.6 976.2 458.4 973.2 459.2 970.3 460.1 967.3 460.9 964.4 461.7 961.4 462.6 958.5 463.4 955.5 464.3 952.6 465.1 949.7 466.0 946.7 466.8 943.8 467.7 940.9 468.5 938.0 469.4 935.1 470.3 932.2 471.2 929.4 472.0 926.5 472.9 923.6 473.8 920.7 474.7 917.9 475.6 915.0 476.5 912.2 477.5 909.3 478.4 906.5 479.3 903.6 480.3 900.8 481.2 898.0 482.2 895.1 483.1 892.3 484.1 889.5 485.1 886.7 486.1 883.9 487.1 881.1 488.1 878.3 489.1 875.5 490.1 872.7 491.2 869.9 492.2 867.1 493.3 864.4 494.3 861.6 495.4 858.8 496.5 856.1 497.6 853.3 498.7 850.5 499.8 847.8 501.0 845.0 502.1 842.3 503.3 839.5 504.5 836.8 505.7 834.0 506.9 831.3 508.1 828.6 509.3 825.8 510.6 823.1 511.8 820.4 513.1 817.7 514.4 814.9 515.7 812.2 517.0 809.5 518.3 806.8 519.7 804.1 521.1 801.4 522.5 798.7 523.9 796.0 525.3 793.3 526.7 790.6 528.2 787.9 529.7 785.2 531.2 782.6 532.7 780.0 534.2 777.3 535.8 774.7 537.4 772.1 539.0 769.5 540.6 767.0 542.3 764.4 544.0 761.9 545.7 759.4 547.4 756.9 549.2 754.5 551.0 752.1 552.8 749.7 554.7 747.3 556.6 744.9 558.5 742.6 560.4 740.3 562.4 738.1 564.4 735.8 566.4 733.6 568.5 731.5 570.6 729.4 572.7 727.3 574.9 725.2 577.1 723.2 579.4 721.2 581.6 719.3 583.9 717.4 586.3 715.6 588.7 713.8 591.1 712.0 593.6 710.3 596.1 708.7 598.6 707.1 601.2 705.5 603.9 704.0 606.5 702.5 609.2 701.1 612.0 699.8 614.8 698.5" stroke="#4D1400"/>
<path d="M143.9 696.5L146.6 698.0 149.3 699.5 152.0 701.1 154.6 702.7 157.2 704.3 159.7 706.0 162.2 707.8 164.7 709.5 167.1 711.4 169.4 713.2 171.8 715.1 174.1 717.1 176.3 719.0 178.5 721.0 180.7 723.1 182.9 725.2 185.0 727.3 187.0 729.4 189.1 731.6 191.1 733.8 193.1 736.1 195.0 738.3 196.9 740.6 198.8 743.0 200.6 745.3 202.4 747.7 204.2 750.1 206.0 752.5 207.7 755.0 209.4 757.5 211.0 760.0 212.7 762.5 214.3 765.1 215.9 767.6 217.4 770.2 219.0 772.8 220.5 775.5 222.0 778.1 223.4 780.8 224.9 783.5 226.3 786.2 227.7 788.9 229.1 791.6 230.4 794.3 231.8 797.1 233.1 799.8 234.4 802.6 235.7 805.4 236.9 808.1 238.2 810.9 239.4 813.7 240.6 816.6 241.8 819.4 243.0 822.2 244.2 825.0 245.3 827.8 246.5 830.7 247.6 833.5 248.7 836.3 249.8 839.2 250.9 842.0 252.0 844.8 253.1 847.6 254.1 850.5 255.2 853.3 256.2 856.1 257.3 858.9 258.3 861.8 259.3 864.6 260.3 867.4 261.3 870.2 262.3 873.0 263.3 875.8 264.3 878.6 265.3 881.4 266.3 884.2 267.3 887.0 268.3 889.8 269.3 892.6 270.2 895.4 271.2 898.2 272.2 901.0 273.2 903.8 274.1 906.6 275.1 909.4 276.1 912.2 277.1 914.9 278.0 917.7 279.0 920.5 280.0 923.3 281.0 926.1 282.0 928.8 283.0 931.6 284.0 934.4 285.0 937.2 286.0 939.9 287.0 942.7 288.0 945.5 289.1 948.3 290.1 951.0 291.2 953.8 292.2 956.6 293.3 959.3 294.4 962.1 295.4 964.8 296.5 967.6 297.6 970.4 298.8 973.1 299.9 975.9 301.0 978.6 302.2 981.4 303.4 984.2 304.5 986.9 305.7 989.7 306.9 992.4 308.2 995.2 309.4 997.9 310.7 1000.7 311.9 1003.4 313.2 1006.2 314.5 1008.9 315.9 1011.7 317.2 1014.4 318.6 1017.2 319.9 1019.9 321.4 1022.7 322.8 1025.4 324.2 1028.2 325.7 1030.9 327.2 1033.7 328.7 1036.4 330.2 1039.1 331.8 1041.9 333.3 1044.6 334.9 1047.4 336.6 1050.1 338.2 1052.9 339.9 1055.6 341.6 1058.4 343.3 1061.1 345.1 1063.8 346.9 1066.6 348.7 1069.2 350.5 1071.9 352.4 1074.5 354.3 1077.0 356.3 1079.5 358.3 1081.9 360.3 1084.2 362.3 1086.4 364.4 1088.4 366.5 1090.4 368.7 1092.1 370.9 1093.8 373.2 1095.3 375.5 1096.6 377.8 1097.7 380.2 1098.6 382.6 1099.3 385.1 1099.8 387.7 1100.0 390.2 1100.1 392.8 1099.8 395.5 1099.3 398.0 1098.6 400.6 1097.6 403.0 1096.3 405.3 1094.8 407.5 1093.0 409.6 1091.0 411.5 1088.8 413.4 1086.4 415.1 1083.9 416.8 1081.3 418.4 1078.7 419.9 1076.0 421.4 1073.3 422.9 1070.6 424.3 1067.8 425.6 1065.1 426.9 1062.3 428.2 1059.5 429.4 1056.7 430.6 1053.8 431.7 1051.0 432.9 1048.1 434.0 1045.3 435.1 1042.4 436.1 1039.5 437.2 1036.6 438.2 1033.7 439.2 1030.8 440.2 1027.9 441.2 1025.1 442.2 1022.2 443.2 1019.3 444.2 1016.4 445.2 1013.5 446.1 1010.7 447.1 1007.8 448.1 1004.9 449.0 1002.0 450.0 999.2 450.9 996.3 451.9 993.4 452.8 990.6 453.7 987.7 454.7 984.8 455.6 982.0 456.5 979.1 457.4 976.3 458.4 973.4 459.3 970.5 460.2 967.7 461.1 964.8 462.0 962.0 462.9 959.1 463.8 956.3 464.8 953.4 465.7 950.6 466.6 947.7 467.5 944.9 468.4 942.0 469.3 939.2 470.2 936.3 471.2 933.5 472.1 930.7 473.0 927.8 473.9 925.0 474.9 922.1 475.8 919.3 476.7 916.5 477.7 913.6 478.6 910.8 479.5 908.0 480.5 905.1 481.4 902.3 482.4 899.5 483.4 896.6 484.3 893.8 485.3 891.0 486.3 888.1 487.3 885.3 488.3 882.5 489.3 879.7 490.3 876.8 491.3 874.0 492.3 871.2 493.4 868.4 494.4 865.5 495.5 862.7 496.5 859.9 497.6 857.1 498.7 854.2 499.7 851.4 500.8 848.6 502.0 845.8 503.1 843.0 504.2 840.1 505.3 837.3 506.5 834.5 507.7 831.7 508.8 828.9 510.0 826.1 511.2 823.3 512.5 820.5 513.7 817.7 514.9 814.9 516.2 812.1 517.5 809.4 518.8 806.6 520.1 803.9 521.5 801.2 522.8 798.4 524.2 795.7 525.6 793.0 527.0 790.4 528.4 787.7 529.9 785.0 531.4 782.4 532.9 779.8 534.4 777.2 536.0 774.6 537.6 772.0 539.2 769.5 540.8 767.0 542.4 764.5 544.1 762.0 545.8 759.5 547.5 757.1 549.3 754.7 551.1 752.3 552.9 749.9 554.8 747.6 556.6 745.3 558.5 743.0 560.5 740.8 562.4 738.6 564.4 736.4 566.5 734.2 568.5 732.1 570.6 730.0 572.8 727.9 574.9 725.9 577.2 723.9 579.4 721.9 581.7 720.0 584.0 718.1 586.3 716.2 588.7 714.4 591.1 712.6 593.6 710.9 596.1 709.2 598.7 707.5 601.2 705.9 603.9 704.4 606.5 702.8 609.3 701.3 612.0 699.9 614.8 698.5" stroke="#4D1400"/>
<path d="M143.9 696.5L146.6 698.1 149.2 699.8 151.8 701.4 154.4 703.2 156.9 704.9 159.4 706.7 161.8 708.5 164.3 710.3 166.6 712.2 169.0 714.1 171.3 716.0 173.6 718.0 175.8 720.0 178.0 722.0 180.2 724.0 182.3 726.1 184.4 728.2 186.5 730.4 188.5 732.5 190.5 734.7 192.5 736.9 194.4 739.1 196.3 741.4 198.2 743.7 200.1 746.0 201.9 748.3 203.7 750.6 205.5 753.0 207.2 755.4 209.0 757.8 210.6 760.3 212.3 762.7 213.9 765.2 215.6 767.7 217.1 770.2 218.7 772.7 220.3 775.3 221.8 777.9 223.3 780.5 224.7 783.1 226.2 785.7 227.6 788.3 229.0 791.0 230.4 793.6 231.8 796.3 233.1 799.0 234.5 801.7 235.8 804.4 237.1 807.2 238.3 809.9 239.6 812.7 240.8 815.5 242.1 818.2 243.3 821.0 244.5 823.8 245.6 826.6 246.8 829.5 247.9 832.3 249.1 835.1 250.2 838.0 251.3 840.8 252.4 843.7 253.5 846.6 254.5 849.4 255.6 852.3 256.7 855.2 257.7 858.1 258.7 861.0 259.7 863.9 260.7 866.8 261.7 869.7 262.7 872.6 263.7 875.5 264.7 878.4 265.7 881.3 266.6 884.2 267.6 887.1 268.6 890.0 269.5 892.9 270.5 895.8 271.4 898.7 272.3 901.6 273.3 904.5 274.2 907.4 275.1 910.3 276.1 913.2 277.0 916.1 277.9 919.0 278.8 921.9 279.8 924.7 280.7 927.6 281.6 930.5 282.5 933.3 283.5 936.2 284.4 939.0 285.4 941.9 286.3 944.7 287.2 947.5 288.2 950.4 289.2 953.2 290.1 956.0 291.1 958.8 292.1 961.6 293.0 964.5 294.0 967.3 295.0 970.1 296.0 972.8 297.1 975.6 298.1 978.4 299.1 981.2 300.2 984.0 301.2 986.7 302.3 989.5 303.4 992.3 304.5 995.0 305.6 997.8 306.8 1000.5 307.9 1003.3 309.1 1006.0 310.2 1008.8 311.4 1011.5 312.6 1014.2 313.9 1017.0 315.1 1019.7 316.4 1022.4 317.7 1025.1 319.0 1027.8 320.3 1030.5 321.6 1033.3 323.0 1036.0 324.4 1038.6 325.8 1041.3 327.2 1044.0 328.7 1046.7 330.1 1049.4 331.6 1052.1 333.2 1054.8 334.7 1057.4 336.3 1060.1 337.9 1062.8 339.5 1065.4 341.2 1068.1 342.9 1070.7 344.6 1073.4 346.3 1076.0 348.1 1078.7 349.9 1081.3 351.7 1083.9 353.6 1086.5 355.5 1089.1 357.4 1091.5 359.4 1093.9 361.4 1096.2 363.5 1098.4 365.5 1100.4 367.7 1102.3 369.8 1104.0 372.0 1105.6 374.3 1107.0 376.6 1108.1 378.9 1109.1 381.3 1109.7 383.8 1110.2 386.3 1110.3 388.8 1110.2 391.4 1109.8 394.0 1109.2 396.5 1108.3 399.1 1107.2 401.7 1105.8 404.1 1104.3 406.5 1102.6 408.9 1100.7 411.1 1098.7 413.2 1096.6 415.2 1094.3 417.0 1092.0 418.7 1089.5 420.3 1086.9 421.8 1084.3 423.3 1081.6 424.6 1078.8 425.9 1076.0 427.1 1073.1 428.2 1070.2 429.3 1067.2 430.4 1064.3 431.4 1061.3 432.5 1058.3 433.5 1055.3 434.5 1052.4 435.5 1049.4 436.5 1046.4 437.5 1043.5 438.5 1040.5 439.4 1037.6 440.4 1034.7 441.4 1031.7 442.3 1028.8 443.3 1025.9 444.2 1022.9 445.1 1020.0 446.1 1017.1 447.0 1014.2 447.9 1011.3 448.8 1008.4 449.7 1005.5 450.6 1002.6 451.5 999.7 452.4 996.8 453.3 993.9 454.2 991.0 455.1 988.1 456.0 985.2 456.9 982.4 457.8 979.5 458.6 976.6 459.5 973.8 460.4 970.9 461.3 968.0 462.2 965.2 463.0 962.3 463.9 959.5 464.8 956.6 465.7 953.8 466.5 950.9 467.4 948.1 468.3 945.2 469.2 942.4 470.1 939.6 471.0 936.7 471.9 933.9 472.7 931.0 473.6 928.2 474.5 925.4 475.4 922.6 476.4 919.7 477.3 916.9 478.2 914.1 479.1 911.2 480.0 908.4 481.0 905.6 481.9 902.8 482.8 900.0 483.8 897.1 484.7 894.3 485.7 891.5 486.7 888.7 487.6 885.9 488.6 883.1 489.6 880.2 490.6 877.4 491.6 874.6 492.6 871.8 493.7 869.0 494.7 866.2 495.7 863.4 496.8 860.6 497.8 857.7 498.9 854.9 500.0 852.1 501.1 849.3 502.2 846.5 503.3 843.7 504.4 840.8 505.6 838.0 506.7 835.2 507.9 832.4 509.1 829.6 510.3 826.8 511.5 824.0 512.7 821.2 513.9 818.4 515.2 815.6 516.4 812.8 517.7 810.1 519.0 807.3 520.4 804.6 521.7 801.8 523.1 799.1 524.4 796.4 525.8 793.7 527.3 791.0 528.7 788.3 530.2 785.6 531.7 783.0 533.2 780.4 534.7 777.7 536.3 775.2 537.8 772.6 539.4 770.0 541.1 767.5 542.7 765.0 544.4 762.5 546.1 760.0 547.8 757.5 549.6 755.1 551.4 752.7 553.2 750.3 555.0 748.0 556.9 745.7 558.8 743.4 560.8 741.1 562.7 738.9 564.7 736.7 566.8 734.5 568.8 732.3 570.9 730.2 573.0 728.1 575.2 726.1 577.4 724.1 579.6 722.1 581.9 720.2 584.2 718.2 586.5 716.4 588.9 714.5 591.3 712.8 593.8 711.0 596.3 709.3 598.8 707.6 601.4 706.0 604.0 704.4 606.6 702.9 609.3 701.4 612.0 699.9 614.8 698.5" stroke="#4D1400"/>
<path d="M143.9 701.0L146.9 701.0 150.0 701.1 153.0 701.1 156.0 701.1 159.0 701.1 162.1 701.0 165.1 701.0 168.1 700.9 171.1 700.9 174.1 700.8 177.2 700.7 180.2 700.6 183.2 700.5 186.2 700.4 189.3 700.3 192.3 700.2 195.3 700.0 198.3 699.9 201.3 699.8 204.4 699.6 207.4 699.5 210.4 699.3 213.4 699.2 216.4 699.0 219.5 698.8 222.5 698.7 225.5 698.5 228.5 698.4 231.5 698.2 234.6 698.0 237.6 697.9 240.6 697.7 243.6 697.6 246.6 697.4 249.7 697.3 252.7 697.1 255.7 697.0 258.7 696.9 261.7 696.7 264.8 696.6 267.8 696.5 270.8 696.4 273.8 696.3 276.8 696.2 279.9 696.2 282.9 696.1 285.9 696.0 288.9 695.9 291.9 695.8 295.0 695.8 298.0 695.7 301.0 695.6 304.0 695.5 307.1 695.4 310.1 695.4 313.1 695.3 316.1 695.1 319.2 695.0 322.2 694.9 325.2 694.8 328.2 694.6 331.3 694.5 334.3 694.3 337.3 694.1 340.3 694.0 343.4 693.8 346.4 693.6 349.4 693.5 352.4 693.3 355.5 693.2 358.5 693.0 361.5 692.9 364.5 692.8 367.5 692.7 370.6 692.6 373.6 692.6 376.6 692.5 379.6 692.5 382.6 692.6 385.6 692.6 388.6 692.7 391.6 692.8 394.6 693.0 397.6 693.2 400.6 693.4 403.6 693.7 406.6 693.9 409.6 694.2 412.6 694.5 415.6 694.8 418.6 695.0 421.6 695.2 424.6 695.3 427.6 695.4 430.6 695.4 433.6 695.4 436.6 695.4 439.6 695.4 442.6 695.3 445.6 695.3 448.6 695.2 451.7 695.2 454.7 695.2 457.7 695.2 460.7 695.2 463.7 695.2 466.7 695.3 469.8 695.4 472.8 695.5 475.8 695.7 478.8 695.8 481.8 696.0 484.9 696.1 487.9 696.3 490.9 696.5 493.9 696.7 497.0 696.9 500.0 697.1 503.0 697.3 506.0 697.5 509.0 697.7 512.1 697.8 515.1 698.0 518.1 698.2 521.1 698.4 524.1 698.6 527.2 698.7 530.2 698.9 533.2 699.1 536.2 699.2 539.2 699.4 542.3 699.5 545.3 699.7 548.3 699.8 551.3 699.9 554.3 700.1 557.3 700.2 560.4 700.3 563.4 700.4 566.4 700.5 569.4 700.6 572.5 700.7 575.5 700.7 578.5 700.8 581.5 700.9 584.5 700.9 587.6 701.0 590.6 701.0 593.6 701.0 596.6 701.0 599.7 701.0 602.7 701.0 605.7 701.0 608.7 701.0 611.8 700.9 614.8 700.9" stroke="#000000"/>
<path d="M143.9 701.0L146.9 700.7 149.9 700.4 153.0 700.2 156.0 700.0 159.0 699.7 162.0 699.5 165.0 699.3 168.1 699.2 171.1 699.0 174.1 698.9 177.1 698.7 180.1 698.6 183.2 698.5 186.2 698.4 189.2 698.3 192.2 698.2 195.2 698.2 198.3 698.1 201.3 698.1 204.3 698.0 207.3 698.0 210.3 698.0 213.4 698.0 216.4 698.0 219.4 698.0 222.4 698.0 225.4 698.0 228.5 698.0 231.5 698.0 234.5 698.1 237.5 698.1 240.5 698.2 243.6 698.2 246.6 698.3 249.6 698.3 252.6 698.4 255.7 698.4 258.7 698.5 261.7 698.5 264.7 698.6 267.7 698.6 270.8 698.7 273.8 698.8 276.8 698.8 279.8 698.9 282.8 698.9 285.9 699.0 288.9 699.0 291.9 699.1 294.9 699.1 297.9 699.2 301.0 699.2 304.0 699.2 307.0 699.2 310.0 699.2 313.1 699.3 316.1 699.3 319.1 699.3 322.1 699.2 325.1 699.2 328.2 699.2 331.2 699.2 334.2 699.1 337.2 699.1 340.2 699.1 343.3 699.0 346.3 699.0 349.3 699.0 352.3 699.0 355.3 699.0 358.4 699.0 361.4 699.0 364.4 699.0 367.4 699.1 370.4 699.2 373.4 699.3 376.4 699.5 379.5 699.6 382.5 699.8 385.5 700.0 388.5 700.2 391.5 700.5 394.5 700.7 397.5 700.9 400.5 701.1 403.5 701.4 406.5 701.6 409.5 701.8 412.5 702.0 415.5 702.1 418.5 702.3 421.5 702.4 424.6 702.5 427.6 702.6 430.6 702.6 433.6 702.6 436.6 702.6 439.6 702.6 442.6 702.6 445.6 702.6 448.7 702.5 451.7 702.5 454.7 702.4 457.7 702.3 460.7 702.3 463.7 702.2 466.8 702.1 469.8 702.0 472.8 701.9 475.8 701.8 478.8 701.7 481.9 701.6 484.9 701.5 487.9 701.4 490.9 701.3 493.9 701.2 497.0 701.1 500.0 701.0 503.0 700.9 506.0 700.8 509.1 700.7 512.1 700.6 515.1 700.5 518.1 700.4 521.2 700.4 524.2 700.3 527.2 700.2 530.2 700.1 533.2 700.0 536.3 700.0 539.3 699.9 542.3 699.8 545.3 699.8 548.4 699.7 551.4 699.7 554.4 699.7 557.4 699.6 560.5 699.6 563.5 699.6 566.5 699.6 569.5 699.6 572.6 699.6 575.6 699.6 578.6 699.7 581.6 699.7 584.6 699.7 587.7 699.8 590.7 699.9 593.7 700.0 596.7 700.1 599.7 700.2 602.7 700.3 605.8 700.4 608.8 700.6 611.8 700.7 614.8 700.9" stroke="#000000"/>
<path d="M143.9 701.0L147.0 700.7 150.0 700.4 153.1 700.3 156.2 700.2 159.2 700.1 162.2 700.2 165.3 700.3 168.3 700.4 171.3 700.7 174.3 700.9 177.3 701.3 180.3 701.6 183.3 702.1 186.3 702.5 189.3 703.1 192.2 703.6 195.2 704.2 198.2 704.9 201.1 705.5 204.1 706.2 207.0 707.0 210.0 707.7 212.9 708.5 215.9 709.3 218.8 710.1 221.8 711.0 224.7 711.8 227.7 712.7 230.6 713.6 233.5 714.4 236.5 715.3 239.4 716.1 242.4 716.9 245.3 717.7 248.2 718.4 251.2 719.0 254.1 719.5 257.0 719.9 260.0 720.2 262.9 720.4 265.8 720.5 268.8 720.5 271.7 720.2 274.6 719.9 277.5 719.5 280.5 718.9 283.4 718.3 286.3 717.7 289.3 716.9 292.2 716.2 295.2 715.4 298.1 714.7 301.1 713.9 304.0 713.2 307.0 712.5 310.0 711.8 312.9 711.2 315.9 710.6 318.9 710.0 321.9 709.4 324.9 708.9 327.9 708.4 330.9 707.9 333.9 707.4 336.9 706.9 339.9 706.5 342.9 706.0 345.9 705.6 348.9 705.2 351.9 704.9 354.9 704.5 357.9 704.1 360.9 703.8 363.9 703.5 366.9 703.2 369.9 702.9 372.9 702.6 375.9 702.4 378.9 702.1 381.9 701.9 384.9 701.7 388.0 701.5 391.0 701.3 394.0 701.1 397.0 700.9 400.0 700.8 403.0 700.6 406.1 700.5 409.1 700.4 412.1 700.3 415.1 700.2 418.1 700.1 421.2 700.0 424.2 699.9 427.2 699.9 430.2 699.8 433.2 699.8 436.3 699.7 439.3 699.7 442.3 699.7 445.3 699.7 448.4 699.6 451.4 699.6 454.4 699.6 457.4 699.7 460.5 699.7 463.5 699.7 466.5 699.7 469.6 699.8 472.6 699.8 475.6 699.8 478.6 699.9 481.7 699.9 484.7 700.0 487.7 700.0 490.8 700.1 493.8 700.1 496.8 700.2 499.8 700.3 502.9 700.3 505.9 700.4 508.9 700.4 512.0 700.5 515.0 700.6 518.0 700.6 521.0 700.7 524.1 700.8 527.1 700.8 530.1 700.9 533.2 701.0 536.2 701.0 539.2 701.1 542.3 701.1 545.3 701.2 548.3 701.2 551.3 701.3 554.4 701.3 557.4 701.4 560.4 701.4 563.4 701.4 566.5 701.4 569.5 701.5 572.5 701.5 575.5 701.5 578.6 701.5 581.6 701.5 584.6 701.5 587.6 701.4 590.7 701.4 593.7 701.4 596.7 701.3 599.7 701.3 602.7 701.2 605.7 701.2 608.8 701.1 611.8 701.0 614.8 700.9" stroke="#000000"/>
<path d="M143.9 701.0L146.7 701.9 149.6 702.6 152.5 703.3 155.3 704.0 158.2 704.5 161.1 705.0 164.1 705.5 167.0 705.8 170.0 706.2 172.9 706.4 175.9 706.6 178.9 706.8 181.9 706.9 184.9 707.0 187.9 707.0 190.9 707.0 194.0 706.9 197.0 706.9 200.1 706.7 203.1 706.6 206.2 706.4 209.3 706.2 212.3 706.0 215.4 705.7 218.5 705.4 221.6 705.2 224.7 704.9 227.8 704.6 230.9 704.2 234.0 703.9 237.1 703.6 240.2 703.3 243.3 703.0 246.5 702.6 249.6 702.3 252.7 702.0 255.8 701.7 258.9 701.5 262.0 701.2 265.1 701.0 268.2 700.8 271.3 700.6 274.4 700.4 277.4 700.3 280.5 700.2 283.6 700.1 286.7 700.1 289.7 700.1 292.8 700.1 295.8 700.2 298.9 700.3 301.9 700.5 304.9 700.8 307.9 701.1 310.9 701.4 313.9 701.8 316.9 702.3 319.8 702.8 322.8 703.4 325.7 704.1 328.6 704.9 331.6 705.7 334.4 706.6 337.3 707.5 340.2 708.6 343.1 709.6 345.9 710.7 348.8 711.8 351.7 712.9 354.5 714.0 357.4 715.0 360.3 716.1 363.1 717.1 366.0 718.0 368.9 718.8 371.9 719.6 374.8 720.3 377.7 720.9 380.7 721.4 383.6 721.9 386.6 722.2 389.6 722.4 392.5 722.5 395.5 722.5 398.5 722.4 401.5 722.2 404.5 721.9 407.5 721.6 410.5 721.3 413.5 721.0 416.6 720.7 419.6 720.5 422.6 720.3 425.6 720.2 428.6 720.2 431.6 720.2 434.7 720.4 437.7 720.5 440.7 720.7 443.7 720.8 446.7 721.0 449.8 721.1 452.8 721.3 455.8 721.3 458.8 721.3 461.8 721.2 464.8 721.1 467.8 720.9 470.8 720.6 473.8 720.4 476.8 720.0 479.8 719.6 482.8 719.2 485.8 718.8 488.8 718.3 491.8 717.8 494.8 717.2 497.8 716.7 500.8 716.1 503.8 715.5 506.8 715.0 509.8 714.4 512.7 713.8 515.7 713.2 518.7 712.6 521.7 712.0 524.7 711.4 527.6 710.8 530.6 710.2 533.6 709.6 536.6 709.0 539.5 708.5 542.5 707.9 545.5 707.3 548.5 706.8 551.5 706.3 554.4 705.8 557.4 705.3 560.4 704.8 563.4 704.3 566.4 703.9 569.4 703.5 572.4 703.1 575.4 702.7 578.4 702.4 581.4 702.1 584.4 701.8 587.4 701.6 590.4 701.3 593.5 701.1 596.5 701.0 599.5 700.9 602.6 700.8 605.6 700.8 608.7 700.8 611.7 700.8 614.8 700.9" stroke="#000000"/>
</g>
<g clip-path="url(#clipD)" fill="none" stroke-width="4.0" stroke-linecap="butt" stroke-linejoin="round">
<path d="M874.4 1113.0L875.6 1110.2 876.8 1107.3 878.0 1104.5 879.1 1101.7 880.3 1098.9 881.4 1096.0 882.6 1093.2 883.7 1090.4 884.8 1087.5 885.9 1084.7 887.1 1081.9 888.2 1079.0 889.2 1076.2 890.3 1073.4 891.4 1070.6 892.5 1067.7 893.5 1064.9 894.6 1062.1 895.6 1059.2 896.7 1056.4 897.7 1053.6 898.7 1050.7 899.7 1047.9 900.8 1045.1 901.8 1042.2 902.8 1039.4 903.8 1036.6 904.8 1033.8 905.7 1030.9 906.7 1028.1 907.7 1025.3 908.7 1022.4 909.6 1019.6 910.6 1016.8 911.5 1013.9 912.5 1011.1 913.4 1008.3 914.4 1005.4 915.3 1002.6 916.3 999.8 917.2 996.9 918.1 994.1 919.1 991.2 920.0 988.4 920.9 985.6 921.8 982.7 922.7 979.9 923.7 977.1 924.6 974.2 925.5 971.4 926.4 968.5 927.3 965.7 928.2 962.9 929.1 960.0 930.0 957.2 930.9 954.4 931.8 951.5 932.7 948.7 933.6 945.8 934.5 943.0 935.4 940.1 936.3 937.3 937.2 934.5 938.1 931.6 939.0 928.8 939.9 925.9 940.8 923.1 941.7 920.2 942.6 917.4 943.6 914.6 944.5 911.7 945.4 908.9 946.3 906.0 947.2 903.2 948.1 900.3 949.0 897.5 950.0 894.6 950.9 891.8 951.8 888.9 952.7 886.1 953.7 883.2 954.6 880.4 955.5 877.5 956.5 874.7 957.4 871.8 958.4 869.0 959.3 866.1 960.3 863.3 961.3 860.4 962.2 857.5 963.2 854.7 964.2 851.8 965.2 849.0 966.2 846.1 967.2 843.3 968.2 840.4 969.2 837.5 970.2 834.7 971.2 831.8 972.2 829.0 973.3 826.1 974.3 823.2 975.3 820.4 976.4 817.5 977.4 814.7 978.5 811.8 979.6 808.9 980.7 806.1 981.8 803.2 982.8 800.3 984.0 797.5 985.1 794.6 986.2 791.7 987.3 788.8 988.5 786.0 989.6 783.1 990.8 780.2 991.9 777.4 993.1 774.5 994.3 771.6 995.5 768.8 996.8 766.0 998.0 763.1 999.3 760.3 1000.6 757.5 1001.9 754.8 1003.3 752.0 1004.7 749.3 1006.1 746.6 1007.6 744.0 1009.1 741.3 1010.7 738.8 1012.3 736.2 1013.9 733.7 1015.6 731.2 1017.4 728.8 1019.2 726.5 1021.0 724.1 1022.9 721.9 1024.9 719.7 1026.9 717.5 1029.0 715.4 1031.2 713.4 1033.4 711.4 1035.7 709.6 1038.1 707.7 1040.5 706.0 1043.0 704.3 1045.5 702.8 1048.1 701.3 1050.8 700.0 1053.5 698.8 1056.2 697.7 1058.9 696.8 1061.7 696.0 1064.5 695.4 1067.3 695.0 1070.1 694.7 1072.9 694.7 1075.7 694.8 1078.4 695.1 1081.2 695.6 1084.0 696.3 1086.7 697.1 1089.4 698.1 1092.0 699.2 1094.6 700.5 1097.2 701.9 1099.8 703.4 1102.3 705.1 1104.7 706.9 1107.1 708.8 1109.5 710.8 1111.7 712.9 1113.9 715.1 1116.1 717.3 1118.1 719.7 1120.1 722.1 1122.0 724.5 1123.8 727.1 1125.6 729.7 1127.3 732.3 1129.0 734.9 1130.7 737.6 1132.2 740.3 1133.8 743.0 1135.4 745.8 1136.9 748.5 1138.4 751.2 1139.9 754.0 1141.4 756.7 1142.9 759.4 1144.3 762.1 1145.8 764.8 1147.3 767.5 1148.7 770.2 1150.2 772.9 1151.6 775.6 1153.0 778.2 1154.4 780.9 1155.8 783.6 1157.2 786.3 1158.6 788.9 1160.0 791.6 1161.4 794.3 1162.8 796.9 1164.1 799.6 1165.5 802.2 1166.9 804.9 1168.2 807.6 1169.6 810.2 1170.9 812.9 1172.2 815.5 1173.6 818.2 1174.9 820.8 1176.2 823.5 1177.5 826.1 1178.8 828.8 1180.2 831.4 1181.5 834.1 1182.8 836.7 1184.1 839.4 1185.4 842.0 1186.7 844.7 1188.0 847.4 1189.3 850.0 1190.6 852.7 1191.9 855.3 1193.2 858.0 1194.5 860.7 1195.7 863.4 1197.0 866.0 1198.3 868.7 1199.6 871.4 1200.9 874.1 1202.2 876.8 1203.5 879.5 1204.8 882.2 1206.1 884.9 1207.4 887.6 1208.7 890.3 1210.0 893.0 1211.3 895.7 1212.6 898.5 1213.9 901.2 1215.2 903.9 1216.6 906.6 1217.9 909.4 1219.2 912.1 1220.5 914.8 1221.9 917.5 1223.2 920.3 1224.6 923.0 1225.9 925.7 1227.3 928.4 1228.7 931.1 1230.0 933.9 1231.4 936.6 1232.8 939.3 1234.2 942.0 1235.6 944.7 1237.0 947.4 1238.5 950.1 1239.9 952.8 1241.4 955.4 1242.8 958.1 1244.3 960.8 1245.8 963.4 1247.2 966.1 1248.7 968.7 1250.2 971.4 1251.8 974.0 1253.3 976.6 1254.8 979.2 1256.4 981.8 1258.0 984.4 1259.6 987.0 1261.2 989.6 1262.8 992.1 1264.4 994.7 1266.0 997.2 1267.7 999.8 1269.4 1002.3 1271.0 1004.8 1272.7 1007.2 1274.5 1009.7 1276.2 1012.2 1278.0 1014.6 1279.7 1017.0 1281.5 1019.5 1283.3 1021.9 1285.1 1024.2 1287.0 1026.6 1288.8 1028.9 1290.7 1031.3 1292.6 1033.6 1294.5 1035.9 1296.5 1038.2 1298.4 1040.4 1300.4 1042.7 1302.4 1044.9 1304.4 1047.1 1306.4 1049.3 1308.5 1051.4 1310.6 1053.6 1312.7 1055.7 1314.8 1057.8 1317.0 1059.8 1319.1 1061.9 1321.3 1063.9 1323.6 1065.9 1325.8 1067.9 1328.1 1069.9 1330.4 1071.8 1332.7 1073.7 1335.0 1075.6 1337.4 1077.4 1339.8 1079.3 1342.2 1081.1 1344.7 1082.8 1347.2 1084.6 1349.7 1086.3 1352.2 1088.0" stroke="#FFCC00"/>
<path d="M874.4 1113.0L875.6 1110.2 876.8 1107.3 878.0 1104.5 879.2 1101.6 880.3 1098.8 881.5 1096.0 882.7 1093.1 883.8 1090.3 884.9 1087.5 886.0 1084.6 887.2 1081.8 888.3 1078.9 889.4 1076.1 890.4 1073.3 891.5 1070.4 892.6 1067.6 893.6 1064.7 894.7 1061.9 895.7 1059.1 896.8 1056.2 897.8 1053.4 898.8 1050.6 899.9 1047.7 900.9 1044.9 901.9 1042.0 902.9 1039.2 903.9 1036.4 904.8 1033.5 905.8 1030.7 906.8 1027.9 907.8 1025.0 908.7 1022.2 909.7 1019.3 910.7 1016.5 911.6 1013.7 912.6 1010.8 913.5 1008.0 914.4 1005.1 915.4 1002.3 916.3 999.5 917.2 996.6 918.2 993.8 919.1 991.0 920.0 988.1 920.9 985.3 921.8 982.4 922.8 979.6 923.7 976.8 924.6 973.9 925.5 971.1 926.4 968.2 927.3 965.4 928.2 962.6 929.1 959.7 930.0 956.9 930.9 954.0 931.8 951.2 932.7 948.3 933.6 945.5 934.5 942.7 935.4 939.8 936.3 937.0 937.3 934.1 938.2 931.3 939.1 928.5 940.0 925.6 940.9 922.8 941.8 919.9 942.7 917.1 943.6 914.2 944.6 911.4 945.5 908.6 946.4 905.7 947.4 902.9 948.3 900.0 949.2 897.2 950.2 894.3 951.1 891.5 952.1 888.6 953.0 885.8 954.0 882.9 954.9 880.1 955.9 877.3 956.9 874.4 957.9 871.6 958.8 868.7 959.8 865.9 960.8 863.0 961.8 860.2 962.8 857.3 963.8 854.5 964.9 851.6 965.9 848.8 966.9 845.9 968.0 843.1 969.0 840.2 970.1 837.4 971.1 834.5 972.2 831.7 973.3 828.8 974.4 826.0 975.5 823.1 976.6 820.3 977.7 817.4 978.8 814.5 980.0 811.7 981.1 808.8 982.3 806.0 983.4 803.1 984.6 800.3 985.8 797.4 987.0 794.6 988.2 791.7 989.4 788.8 990.6 786.0 991.9 783.1 993.1 780.3 994.4 777.4 995.7 774.6 996.9 771.7 998.3 768.9 999.6 766.1 1001.0 763.3 1002.4 760.5 1003.8 757.7 1005.2 755.0 1006.7 752.3 1008.2 749.6 1009.8 747.0 1011.3 744.4 1013.0 741.8 1014.7 739.3 1016.4 736.9 1018.1 734.4 1019.9 732.1 1021.8 729.8 1023.7 727.5 1025.7 725.3 1027.7 723.2 1029.8 721.1 1032.0 719.1 1034.2 717.2 1036.5 715.4 1038.8 713.6 1041.2 711.9 1043.7 710.3 1046.3 708.9 1048.9 707.5 1051.5 706.2 1054.2 705.1 1056.9 704.1 1059.7 703.3 1062.5 702.6 1065.2 702.1 1068.0 701.8 1070.8 701.7 1073.6 701.8 1076.4 702.1 1079.1 702.6 1081.8 703.2 1084.5 704.0 1087.2 705.0 1089.9 706.2 1092.5 707.5 1095.1 708.9 1097.6 710.5 1100.1 712.2 1102.6 714.0 1105.0 715.9 1107.3 717.9 1109.6 720.0 1111.8 722.3 1114.0 724.5 1116.0 726.9 1118.0 729.3 1120.0 731.8 1121.8 734.4 1123.6 737.0 1125.3 739.6 1126.9 742.3 1128.5 745.0 1130.1 747.7 1131.6 750.4 1133.1 753.2 1134.6 755.9 1136.1 758.7 1137.6 761.5 1139.0 764.2 1140.5 766.9 1141.9 769.6 1143.4 772.4 1144.8 775.1 1146.3 777.8 1147.7 780.5 1149.2 783.1 1150.6 785.8 1152.0 788.5 1153.5 791.2 1154.9 793.8 1156.3 796.5 1157.7 799.1 1159.1 801.8 1160.6 804.4 1162.0 807.1 1163.4 809.7 1164.8 812.3 1166.2 815.0 1167.6 817.6 1169.0 820.2 1170.4 822.9 1171.8 825.5 1173.2 828.1 1174.6 830.7 1176.0 833.3 1177.4 836.0 1178.8 838.6 1180.1 841.2 1181.5 843.8 1182.9 846.5 1184.3 849.1 1185.7 851.7 1187.0 854.3 1188.4 857.0 1189.8 859.6 1191.2 862.3 1192.5 864.9 1193.9 867.5 1195.3 870.2 1196.6 872.8 1198.0 875.5 1199.4 878.2 1200.7 880.8 1202.1 883.5 1203.5 886.2 1204.8 888.9 1206.2 891.6 1207.6 894.3 1208.9 896.9 1210.3 899.6 1211.6 902.3 1213.0 905.1 1214.4 907.8 1215.8 910.5 1217.1 913.2 1218.5 915.9 1219.9 918.6 1221.3 921.3 1222.7 924.0 1224.1 926.7 1225.5 929.4 1226.9 932.1 1228.3 934.8 1229.7 937.5 1231.1 940.2 1232.6 942.9 1234.0 945.6 1235.5 948.3 1236.9 951.0 1238.4 953.6 1239.9 956.3 1241.3 959.0 1242.8 961.6 1244.3 964.3 1245.8 966.9 1247.4 969.6 1248.9 972.2 1250.4 974.8 1252.0 977.4 1253.6 980.0 1255.1 982.6 1256.7 985.2 1258.3 987.8 1259.9 990.3 1261.6 992.9 1263.2 995.4 1264.9 997.9 1266.6 1000.5 1268.2 1003.0 1269.9 1005.5 1271.7 1007.9 1273.4 1010.4 1275.2 1012.8 1276.9 1015.3 1278.7 1017.7 1280.5 1020.1 1282.3 1022.5 1284.2 1024.8 1286.0 1027.2 1287.9 1029.5 1289.8 1031.9 1291.7 1034.2 1293.7 1036.4 1295.6 1038.7 1297.6 1040.9 1299.6 1043.2 1301.6 1045.4 1303.7 1047.6 1305.7 1049.7 1307.8 1051.9 1309.9 1054.0 1312.1 1056.1 1314.2 1058.2 1316.4 1060.2 1318.6 1062.2 1320.8 1064.2 1323.1 1066.2 1325.4 1068.2 1327.7 1070.1 1330.0 1072.0 1332.3 1073.9 1334.7 1075.8 1337.1 1077.6 1339.6 1079.4 1342.0 1081.2 1344.5 1082.9 1347.1 1084.6 1349.6 1086.3 1352.2 1088.0" stroke="#FFCC00"/>
<path d="M874.4 1113.0L875.6 1110.2 876.8 1107.3 878.0 1104.5 879.2 1101.7 880.4 1098.8 881.6 1096.0 882.7 1093.1 883.9 1090.3 885.0 1087.5 886.1 1084.6 887.2 1081.8 888.3 1079.0 889.4 1076.1 890.5 1073.3 891.6 1070.5 892.6 1067.6 893.7 1064.8 894.8 1061.9 895.8 1059.1 896.8 1056.3 897.9 1053.4 898.9 1050.6 899.9 1047.8 900.9 1044.9 901.9 1042.1 902.9 1039.3 903.9 1036.4 904.9 1033.6 905.8 1030.7 906.8 1027.9 907.8 1025.1 908.7 1022.2 909.7 1019.4 910.6 1016.6 911.6 1013.7 912.5 1010.9 913.4 1008.1 914.4 1005.2 915.3 1002.4 916.2 999.6 917.2 996.7 918.1 993.9 919.0 991.1 919.9 988.2 920.8 985.4 921.7 982.5 922.6 979.7 923.5 976.9 924.4 974.0 925.3 971.2 926.3 968.4 927.2 965.5 928.1 962.7 929.0 959.9 929.9 957.0 930.8 954.2 931.7 951.4 932.6 948.5 933.5 945.7 934.4 942.9 935.3 940.0 936.2 937.2 937.1 934.4 938.0 931.5 938.9 928.7 939.8 925.9 940.8 923.0 941.7 920.2 942.6 917.4 943.5 914.5 944.5 911.7 945.4 908.9 946.3 906.0 947.3 903.2 948.2 900.4 949.2 897.5 950.1 894.7 951.1 891.9 952.1 889.0 953.1 886.2 954.0 883.4 955.0 880.5 956.0 877.7 957.0 874.9 958.0 872.0 959.0 869.2 960.0 866.4 961.1 863.5 962.1 860.7 963.1 857.9 964.2 855.0 965.3 852.2 966.3 849.4 967.4 846.5 968.5 843.7 969.6 840.9 970.7 838.0 971.8 835.2 972.9 832.4 974.0 829.5 975.2 826.7 976.3 823.9 977.5 821.0 978.7 818.2 979.9 815.4 981.0 812.5 982.3 809.7 983.5 806.9 984.7 804.1 985.9 801.2 987.2 798.4 988.5 795.6 989.8 792.7 991.0 789.9 992.4 787.1 993.7 784.2 995.0 781.4 996.4 778.6 997.7 775.8 999.1 772.9 1000.5 770.1 1002.0 767.4 1003.4 764.6 1004.9 761.8 1006.4 759.1 1007.9 756.4 1009.5 753.8 1011.1 751.2 1012.8 748.6 1014.5 746.0 1016.2 743.6 1018.0 741.1 1019.8 738.7 1021.6 736.4 1023.5 734.1 1025.5 731.9 1027.5 729.8 1029.6 727.7 1031.7 725.8 1033.9 723.8 1036.1 722.0 1038.4 720.3 1040.8 718.6 1043.2 717.1 1045.7 715.6 1048.3 714.2 1050.9 713.0 1053.6 711.9 1056.3 710.9 1059.1 710.1 1061.8 709.5 1064.6 709.0 1067.4 708.8 1070.1 708.8 1072.9 708.9 1075.6 709.3 1078.4 709.9 1081.1 710.6 1083.8 711.5 1086.4 712.6 1089.1 713.8 1091.6 715.2 1094.2 716.8 1096.7 718.4 1099.2 720.2 1101.6 722.1 1104.0 724.1 1106.3 726.2 1108.5 728.4 1110.7 730.7 1112.8 733.1 1114.9 735.5 1116.9 738.0 1118.8 740.5 1120.6 743.1 1122.3 745.7 1124.0 748.4 1125.6 751.0 1127.2 753.7 1128.7 756.5 1130.2 759.2 1131.7 761.9 1133.1 764.7 1134.5 767.4 1135.9 770.2 1137.3 772.9 1138.8 775.6 1140.2 778.3 1141.6 781.0 1143.0 783.7 1144.5 786.4 1145.9 789.1 1147.3 791.7 1148.8 794.4 1150.2 797.0 1151.7 799.7 1153.1 802.3 1154.6 805.0 1156.1 807.6 1157.5 810.2 1159.0 812.8 1160.4 815.4 1161.9 818.0 1163.4 820.6 1164.8 823.2 1166.3 825.8 1167.8 828.4 1169.2 831.0 1170.7 833.6 1172.2 836.2 1173.6 838.7 1175.1 841.3 1176.6 843.9 1178.0 846.5 1179.5 849.1 1180.9 851.7 1182.4 854.3 1183.9 856.8 1185.3 859.4 1186.8 862.0 1188.2 864.6 1189.7 867.2 1191.1 869.9 1192.6 872.5 1194.0 875.1 1195.5 877.7 1196.9 880.3 1198.3 883.0 1199.8 885.6 1201.2 888.3 1202.6 890.9 1204.0 893.6 1205.5 896.3 1206.9 898.9 1208.3 901.6 1209.7 904.3 1211.1 906.9 1212.6 909.6 1214.0 912.3 1215.4 915.0 1216.8 917.7 1218.2 920.3 1219.7 923.0 1221.1 925.7 1222.5 928.4 1224.0 931.1 1225.4 933.8 1226.9 936.4 1228.3 939.1 1229.8 941.8 1231.2 944.4 1232.7 947.1 1234.2 949.8 1235.7 952.4 1237.1 955.1 1238.6 957.7 1240.1 960.4 1241.7 963.0 1243.2 965.6 1244.7 968.3 1246.3 970.9 1247.8 973.5 1249.4 976.1 1250.9 978.7 1252.5 981.3 1254.1 983.8 1255.7 986.4 1257.3 988.9 1259.0 991.5 1260.6 994.0 1262.3 996.5 1263.9 999.0 1265.6 1001.5 1267.3 1004.0 1269.1 1006.5 1270.8 1008.9 1272.5 1011.4 1274.3 1013.8 1276.1 1016.2 1277.9 1018.6 1279.7 1021.0 1281.5 1023.3 1283.4 1025.7 1285.3 1028.0 1287.2 1030.3 1289.1 1032.6 1291.0 1034.9 1293.0 1037.2 1294.9 1039.4 1296.9 1041.6 1298.9 1043.8 1301.0 1046.0 1303.0 1048.2 1305.1 1050.3 1307.2 1052.4 1309.4 1054.5 1311.5 1056.6 1313.7 1058.6 1315.9 1060.7 1318.1 1062.7 1320.4 1064.6 1322.7 1066.6 1325.0 1068.5 1327.3 1070.4 1329.7 1072.3 1332.0 1074.2 1334.5 1076.0 1336.9 1077.8 1339.4 1079.6 1341.9 1081.3 1344.4 1083.0 1347.0 1084.7 1349.6 1086.4 1352.2 1088.0" stroke="#FFCC00"/>
<path d="M874.4 1113.0L875.6 1110.2 876.8 1107.3 878.1 1104.5 879.2 1101.7 880.4 1098.8 881.6 1096.0 882.8 1093.2 883.9 1090.3 885.0 1087.5 886.2 1084.7 887.3 1081.8 888.4 1079.0 889.5 1076.2 890.6 1073.3 891.6 1070.5 892.7 1067.6 893.8 1064.8 894.8 1062.0 895.8 1059.1 896.9 1056.3 897.9 1053.5 898.9 1050.6 899.9 1047.8 900.9 1045.0 901.9 1042.1 902.9 1039.3 903.9 1036.4 904.9 1033.6 905.8 1030.8 906.8 1027.9 907.8 1025.1 908.7 1022.3 909.7 1019.4 910.6 1016.6 911.5 1013.8 912.5 1010.9 913.4 1008.1 914.3 1005.2 915.3 1002.4 916.2 999.6 917.1 996.7 918.0 993.9 918.9 991.1 919.8 988.2 920.7 985.4 921.6 982.6 922.5 979.7 923.5 976.9 924.4 974.1 925.3 971.2 926.2 968.4 927.1 965.6 928.0 962.7 928.9 959.9 929.8 957.1 930.7 954.2 931.6 951.4 932.5 948.6 933.4 945.7 934.3 942.9 935.2 940.1 936.1 937.2 937.0 934.4 937.9 931.6 938.9 928.7 939.8 925.9 940.7 923.1 941.6 920.3 942.6 917.4 943.5 914.6 944.4 911.8 945.4 908.9 946.3 906.1 947.3 903.3 948.3 900.5 949.2 897.6 950.2 894.8 951.2 892.0 952.2 889.2 953.2 886.3 954.2 883.5 955.2 880.7 956.2 877.9 957.2 875.0 958.2 872.2 959.3 869.4 960.3 866.6 961.4 863.8 962.5 860.9 963.5 858.1 964.6 855.3 965.7 852.5 966.8 849.7 967.9 846.9 969.0 844.0 970.2 841.2 971.3 838.4 972.5 835.6 973.7 832.8 974.8 830.0 976.0 827.2 977.2 824.3 978.4 821.5 979.7 818.7 980.9 815.9 982.2 813.1 983.4 810.3 984.7 807.5 986.0 804.7 987.3 801.9 988.6 799.1 990.0 796.3 991.3 793.5 992.7 790.7 994.1 787.9 995.5 785.1 996.9 782.3 998.3 779.5 999.8 776.7 1001.3 773.9 1002.8 771.1 1004.3 768.4 1005.8 765.6 1007.4 762.9 1009.0 760.3 1010.6 757.6 1012.3 755.0 1014.0 752.5 1015.7 749.9 1017.5 747.5 1019.3 745.1 1021.2 742.7 1023.1 740.4 1025.1 738.2 1027.1 736.1 1029.1 734.0 1031.3 732.0 1033.4 730.1 1035.6 728.3 1037.9 726.5 1040.3 724.9 1042.7 723.3 1045.2 721.9 1047.7 720.6 1050.3 719.3 1053.0 718.3 1055.7 717.3 1058.4 716.5 1061.2 715.9 1064.0 715.5 1066.7 715.3 1069.5 715.4 1072.3 715.6 1075.0 716.1 1077.7 716.7 1080.4 717.6 1083.0 718.6 1085.7 719.8 1088.3 721.1 1090.8 722.6 1093.4 724.3 1095.8 726.1 1098.3 728.0 1100.7 730.0 1103.0 732.1 1105.3 734.3 1107.5 736.6 1109.7 739.0 1111.8 741.4 1113.8 743.9 1115.7 746.5 1117.6 749.1 1119.4 751.7 1121.2 754.3 1122.8 757.0 1124.4 759.7 1125.9 762.3 1127.4 765.0 1128.9 767.7 1130.3 770.5 1131.7 773.2 1133.1 775.9 1134.5 778.6 1135.8 781.3 1137.2 784.0 1138.6 786.6 1140.0 789.3 1141.4 792.0 1142.9 794.6 1144.3 797.2 1145.8 799.9 1147.2 802.5 1148.7 805.1 1150.2 807.7 1151.7 810.3 1153.2 812.9 1154.7 815.5 1156.2 818.1 1157.7 820.6 1159.2 823.2 1160.7 825.8 1162.2 828.3 1163.8 830.9 1165.3 833.5 1166.8 836.0 1168.4 838.6 1169.9 841.1 1171.5 843.7 1173.0 846.2 1174.5 848.8 1176.1 851.3 1177.6 853.9 1179.2 856.5 1180.7 859.0 1182.3 861.6 1183.8 864.2 1185.3 866.7 1186.9 869.3 1188.4 871.9 1189.9 874.5 1191.4 877.1 1192.9 879.7 1194.4 882.3 1195.9 884.9 1197.4 887.5 1198.9 890.1 1200.4 892.8 1201.9 895.4 1203.4 898.0 1204.8 900.7 1206.3 903.3 1207.8 906.0 1209.2 908.6 1210.7 911.3 1212.2 914.0 1213.6 916.6 1215.1 919.3 1216.6 921.9 1218.0 924.6 1219.5 927.3 1221.0 929.9 1222.5 932.6 1223.9 935.2 1225.4 937.9 1226.9 940.6 1228.4 943.2 1229.9 945.9 1231.4 948.5 1232.9 951.1 1234.4 953.8 1235.9 956.4 1237.4 959.0 1238.9 961.7 1240.5 964.3 1242.0 966.9 1243.6 969.5 1245.1 972.1 1246.7 974.7 1248.3 977.2 1249.9 979.8 1251.5 982.4 1253.1 984.9 1254.7 987.5 1256.3 990.0 1258.0 992.5 1259.7 995.0 1261.3 997.5 1263.0 1000.0 1264.7 1002.5 1266.4 1004.9 1268.2 1007.4 1269.9 1009.8 1271.7 1012.2 1273.5 1014.6 1275.3 1017.0 1277.1 1019.4 1278.9 1021.8 1280.8 1024.1 1282.6 1026.4 1284.5 1028.7 1286.4 1031.0 1288.3 1033.3 1290.3 1035.6 1292.3 1037.8 1294.2 1040.0 1296.3 1042.2 1298.3 1044.4 1300.4 1046.5 1302.4 1048.7 1304.5 1050.8 1306.7 1052.9 1308.8 1055.0 1311.0 1057.0 1313.2 1059.0 1315.4 1061.0 1317.7 1063.0 1319.9 1065.0 1322.3 1066.9 1324.6 1068.8 1327.0 1070.7 1329.3 1072.5 1331.8 1074.4 1334.2 1076.2 1336.7 1078.0 1339.2 1079.7 1341.7 1081.4 1344.3 1083.1 1346.9 1084.8 1349.5 1086.4 1352.2 1088.0" stroke="#FFCC00"/>
<path d="M874.4 1082.0L877.1 1080.6 879.8 1079.2 882.6 1077.8 885.3 1076.5 888.0 1075.1 890.8 1073.8 893.5 1072.5 896.3 1071.3 899.1 1070.0 901.9 1068.8 904.7 1067.7 907.5 1066.5 910.3 1065.4 913.2 1064.4 916.0 1063.4 918.9 1062.4 921.7 1061.5 924.6 1060.6 927.5 1059.8 930.4 1059.0 933.3 1058.3 936.2 1057.6 939.1 1057.0 942.0 1056.4 945.0 1055.9 947.9 1055.4 950.9 1055.0 953.9 1054.7 956.9 1054.3 959.8 1054.1 962.8 1053.8 965.8 1053.6 968.8 1053.5 971.9 1053.3 974.9 1053.2 977.9 1053.2 980.9 1053.1 983.9 1053.1 987.0 1053.1 990.0 1053.2 993.0 1053.2 996.1 1053.3 999.1 1053.4 1002.2 1053.5 1005.2 1053.6 1008.2 1053.8 1011.3 1053.9 1014.3 1054.1 1017.4 1054.2 1020.4 1054.4 1023.4 1054.6 1026.5 1054.7 1029.5 1054.9 1032.5 1055.1 1035.6 1055.3 1038.6 1055.5 1041.6 1055.7 1044.6 1055.9 1047.7 1056.1 1050.7 1056.4 1053.7 1056.6 1056.7 1056.8 1059.8 1057.1 1062.8 1057.3 1065.8 1057.5 1068.8 1057.8 1071.8 1058.0 1074.9 1058.3 1077.9 1058.6 1080.9 1058.8 1083.9 1059.1 1086.9 1059.3 1089.9 1059.6 1092.9 1059.9 1095.9 1060.2 1098.9 1060.4 1102.0 1060.7 1105.0 1061.0 1108.0 1061.3 1111.0 1061.6 1114.0 1061.9 1117.0 1062.3 1120.0 1062.6 1123.0 1062.9 1126.0 1063.2 1129.0 1063.6 1132.0 1063.9 1135.0 1064.3 1138.0 1064.7 1141.0 1065.0 1144.0 1065.4 1147.0 1065.8 1150.0 1066.2 1153.0 1066.6 1156.0 1067.0 1159.0 1067.4 1162.0 1067.8 1165.0 1068.2 1168.0 1068.5 1171.0 1068.9 1174.0 1069.3 1177.0 1069.7 1180.0 1070.1 1183.0 1070.4 1186.0 1070.8 1189.0 1071.1 1192.0 1071.5 1195.0 1071.8 1198.0 1072.1 1201.0 1072.4 1204.0 1072.7 1207.1 1073.0 1210.1 1073.3 1213.1 1073.6 1216.1 1073.8 1219.1 1074.0 1222.1 1074.3 1225.2 1074.5 1228.2 1074.7 1231.2 1074.8 1234.2 1075.0 1237.2 1075.2 1240.3 1075.3 1243.3 1075.5 1246.3 1075.6 1249.3 1075.7 1252.4 1075.9 1255.4 1076.0 1258.4 1076.1 1261.4 1076.2 1264.5 1076.3 1267.5 1076.3 1270.5 1076.4 1273.5 1076.5 1276.6 1076.5 1279.6 1076.6 1282.6 1076.6 1285.6 1076.7 1288.7 1076.7 1291.7 1076.7 1294.7 1076.8 1297.8 1076.8 1300.8 1076.8 1303.8 1076.8 1306.8 1076.8 1309.9 1076.8 1312.9 1076.8 1315.9 1076.8 1319.0 1076.8 1322.0 1076.8 1325.0 1076.8 1328.0 1076.8 1331.1 1076.8 1334.1 1076.8 1337.1 1076.8 1340.1 1076.8 1343.1 1076.8 1346.2 1076.8 1349.2 1076.8 1352.2 1076.8" stroke="#000000"/>
<path d="M874.4 1076.0L877.4 1076.1 880.4 1076.2 883.5 1076.2 886.5 1076.3 889.5 1076.4 892.5 1076.5 895.6 1076.5 898.6 1076.6 901.6 1076.7 904.6 1076.7 907.7 1076.8 910.7 1076.8 913.7 1076.9 916.7 1077.0 919.7 1077.0 922.8 1077.1 925.8 1077.1 928.8 1077.2 931.8 1077.2 934.9 1077.2 937.9 1077.3 940.9 1077.3 943.9 1077.4 947.0 1077.4 950.0 1077.4 953.0 1077.5 956.0 1077.5 959.1 1077.5 962.1 1077.6 965.1 1077.6 968.1 1077.6 971.1 1077.6 974.2 1077.6 977.2 1077.7 980.2 1077.7 983.2 1077.7 986.3 1077.7 989.3 1077.7 992.3 1077.7 995.3 1077.8 998.4 1077.8 1001.4 1077.8 1004.4 1077.8 1007.4 1077.8 1010.5 1077.8 1013.5 1077.8 1016.5 1077.8 1019.5 1077.8 1022.6 1077.8 1025.6 1077.8 1028.6 1077.8 1031.6 1077.8 1034.7 1077.8 1037.7 1077.8 1040.7 1077.8 1043.7 1077.8 1046.7 1077.8 1049.8 1077.8 1052.8 1077.8 1055.8 1077.8 1058.8 1077.7 1061.9 1077.7 1064.9 1077.7 1067.9 1077.7 1070.9 1077.7 1074.0 1077.7 1077.0 1077.7 1080.0 1077.6 1083.0 1077.6 1086.1 1077.6 1089.1 1077.6 1092.1 1077.6 1095.1 1077.6 1098.2 1077.5 1101.2 1077.5 1104.2 1077.5 1107.2 1077.5 1110.3 1077.5 1113.3 1077.4 1116.3 1077.4 1119.3 1077.4 1122.4 1077.4 1125.4 1077.4 1128.4 1077.3 1131.4 1077.3 1134.5 1077.3 1137.5 1077.3 1140.5 1077.2 1143.5 1077.2 1146.6 1077.2 1149.6 1077.2 1152.6 1077.2 1155.6 1077.1 1158.6 1077.1 1161.7 1077.1 1164.7 1077.1 1167.7 1077.0 1170.7 1077.0 1173.8 1077.0 1176.8 1077.0 1179.8 1076.9 1182.8 1076.9 1185.9 1076.9 1188.9 1076.9 1191.9 1076.9 1194.9 1076.8 1198.0 1076.8 1201.0 1076.8 1204.0 1076.8 1207.0 1076.8 1210.1 1076.7 1213.1 1076.7 1216.1 1076.7 1219.1 1076.7 1222.2 1076.7 1225.2 1076.7 1228.2 1076.6 1231.2 1076.6 1234.3 1076.6 1237.3 1076.6 1240.3 1076.6 1243.3 1076.6 1246.4 1076.6 1249.4 1076.5 1252.4 1076.5 1255.4 1076.5 1258.5 1076.5 1261.5 1076.5 1264.5 1076.5 1267.5 1076.5 1270.6 1076.5 1273.6 1076.5 1276.6 1076.5 1279.6 1076.5 1282.6 1076.5 1285.7 1076.5 1288.7 1076.5 1291.7 1076.5 1294.7 1076.5 1297.8 1076.5 1300.8 1076.5 1303.8 1076.5 1306.8 1076.5 1309.9 1076.5 1312.9 1076.5 1315.9 1076.5 1318.9 1076.6 1322.0 1076.6 1325.0 1076.6 1328.0 1076.6 1331.0 1076.6 1334.1 1076.6 1337.1 1076.7 1340.1 1076.7 1343.1 1076.7 1346.2 1076.7 1349.2 1076.8 1352.2 1076.8" stroke="#000000"/>
<path d="M874.4 1073.5L877.3 1074.3 880.3 1075.0 883.3 1075.8 886.2 1076.4 889.2 1077.1 892.1 1077.7 895.1 1078.3 898.1 1078.8 901.1 1079.3 904.0 1079.8 907.0 1080.3 910.0 1080.7 913.0 1081.1 916.0 1081.4 919.0 1081.8 922.0 1082.1 925.0 1082.4 928.0 1082.6 931.0 1082.9 934.0 1083.1 937.0 1083.3 940.0 1083.4 943.1 1083.6 946.1 1083.7 949.1 1083.8 952.1 1083.9 955.1 1084.0 958.2 1084.1 961.2 1084.1 964.2 1084.2 967.3 1084.2 970.3 1084.2 973.3 1084.2 976.4 1084.2 979.4 1084.2 982.4 1084.1 985.5 1084.1 988.5 1084.0 991.5 1084.0 994.6 1083.9 997.6 1083.8 1000.6 1083.8 1003.7 1083.7 1006.7 1083.6 1009.7 1083.5 1012.8 1083.5 1015.8 1083.4 1018.8 1083.3 1021.9 1083.2 1024.9 1083.1 1028.0 1083.0 1031.0 1083.0 1034.0 1082.9 1037.1 1082.8 1040.1 1082.7 1043.1 1082.6 1046.2 1082.5 1049.2 1082.4 1052.2 1082.4 1055.3 1082.3 1058.3 1082.2 1061.3 1082.1 1064.3 1082.0 1067.4 1081.9 1070.4 1081.8 1073.4 1081.7 1076.5 1081.7 1079.5 1081.6 1082.5 1081.5 1085.6 1081.4 1088.6 1081.3 1091.6 1081.2 1094.7 1081.1 1097.7 1081.0 1100.7 1080.9 1103.7 1080.8 1106.8 1080.8 1109.8 1080.7 1112.8 1080.6 1115.9 1080.5 1118.9 1080.4 1121.9 1080.3 1125.0 1080.2 1128.0 1080.1 1131.0 1080.1 1134.0 1080.0 1137.1 1079.9 1140.1 1079.8 1143.1 1079.7 1146.2 1079.6 1149.2 1079.5 1152.2 1079.5 1155.2 1079.4 1158.3 1079.3 1161.3 1079.2 1164.3 1079.1 1167.4 1079.1 1170.4 1079.0 1173.4 1078.9 1176.4 1078.8 1179.5 1078.7 1182.5 1078.7 1185.5 1078.6 1188.5 1078.5 1191.6 1078.4 1194.6 1078.4 1197.6 1078.3 1200.7 1078.2 1203.7 1078.2 1206.7 1078.1 1209.7 1078.0 1212.8 1078.0 1215.8 1077.9 1218.8 1077.8 1221.9 1077.8 1224.9 1077.7 1227.9 1077.7 1230.9 1077.6 1234.0 1077.6 1237.0 1077.5 1240.0 1077.4 1243.1 1077.4 1246.1 1077.3 1249.1 1077.3 1252.1 1077.3 1255.2 1077.2 1258.2 1077.2 1261.2 1077.1 1264.3 1077.1 1267.3 1077.0 1270.3 1077.0 1273.4 1077.0 1276.4 1076.9 1279.4 1076.9 1282.4 1076.9 1285.5 1076.9 1288.5 1076.8 1291.5 1076.8 1294.6 1076.8 1297.6 1076.8 1300.6 1076.7 1303.7 1076.7 1306.7 1076.7 1309.7 1076.7 1312.8 1076.7 1315.8 1076.7 1318.8 1076.7 1321.9 1076.7 1324.9 1076.7 1327.9 1076.7 1331.0 1076.7 1334.0 1076.7 1337.0 1076.7 1340.1 1076.7 1343.1 1076.7 1346.1 1076.8 1349.2 1076.8 1352.2 1076.8" stroke="#000000"/>
<path d="M874.4 1080.0L877.4 1080.0 880.4 1080.1 883.5 1080.1 886.5 1080.2 889.5 1080.2 892.5 1080.3 895.6 1080.3 898.6 1080.3 901.6 1080.4 904.6 1080.4 907.7 1080.4 910.7 1080.5 913.7 1080.5 916.7 1080.5 919.8 1080.5 922.8 1080.6 925.8 1080.6 928.8 1080.6 931.9 1080.6 934.9 1080.6 937.9 1080.6 940.9 1080.6 944.0 1080.6 947.0 1080.6 950.0 1080.6 953.0 1080.6 956.1 1080.7 959.1 1080.6 962.1 1080.6 965.1 1080.6 968.2 1080.6 971.2 1080.6 974.2 1080.6 977.2 1080.6 980.3 1080.6 983.3 1080.6 986.3 1080.6 989.3 1080.6 992.3 1080.5 995.4 1080.5 998.4 1080.5 1001.4 1080.5 1004.4 1080.5 1007.5 1080.4 1010.5 1080.4 1013.5 1080.4 1016.5 1080.4 1019.6 1080.3 1022.6 1080.3 1025.6 1080.3 1028.6 1080.3 1031.7 1080.2 1034.7 1080.2 1037.7 1080.2 1040.7 1080.1 1043.8 1080.1 1046.8 1080.1 1049.8 1080.0 1052.8 1080.0 1055.8 1080.0 1058.9 1079.9 1061.9 1079.9 1064.9 1079.8 1067.9 1079.8 1071.0 1079.8 1074.0 1079.7 1077.0 1079.7 1080.0 1079.6 1083.1 1079.6 1086.1 1079.5 1089.1 1079.5 1092.1 1079.5 1095.2 1079.4 1098.2 1079.4 1101.2 1079.3 1104.2 1079.3 1107.3 1079.2 1110.3 1079.2 1113.3 1079.1 1116.3 1079.1 1119.3 1079.0 1122.4 1079.0 1125.4 1078.9 1128.4 1078.9 1131.4 1078.9 1134.5 1078.8 1137.5 1078.8 1140.5 1078.7 1143.5 1078.7 1146.6 1078.6 1149.6 1078.6 1152.6 1078.5 1155.6 1078.5 1158.7 1078.4 1161.7 1078.4 1164.7 1078.3 1167.7 1078.3 1170.8 1078.2 1173.8 1078.2 1176.8 1078.1 1179.8 1078.1 1182.8 1078.0 1185.9 1078.0 1188.9 1078.0 1191.9 1077.9 1194.9 1077.9 1198.0 1077.8 1201.0 1077.8 1204.0 1077.7 1207.0 1077.7 1210.1 1077.7 1213.1 1077.6 1216.1 1077.6 1219.1 1077.5 1222.2 1077.5 1225.2 1077.5 1228.2 1077.4 1231.2 1077.4 1234.3 1077.3 1237.3 1077.3 1240.3 1077.3 1243.3 1077.2 1246.4 1077.2 1249.4 1077.2 1252.4 1077.1 1255.4 1077.1 1258.4 1077.1 1261.5 1077.1 1264.5 1077.0 1267.5 1077.0 1270.5 1077.0 1273.6 1077.0 1276.6 1076.9 1279.6 1076.9 1282.6 1076.9 1285.7 1076.9 1288.7 1076.9 1291.7 1076.8 1294.7 1076.8 1297.8 1076.8 1300.8 1076.8 1303.8 1076.8 1306.8 1076.8 1309.9 1076.8 1312.9 1076.8 1315.9 1076.8 1318.9 1076.7 1322.0 1076.7 1325.0 1076.7 1328.0 1076.7 1331.0 1076.7 1334.1 1076.7 1337.1 1076.8 1340.1 1076.8 1343.1 1076.8 1346.2 1076.8 1349.2 1076.8 1352.2 1076.8" stroke="#000000"/>
</g>
<text x="649.20" y="148.70" class="lt">Sample</text>
<rect x="650.70" y="157.10" width="17.7" height="17.5" fill="#F0F0F0"/>
<rect x="650.70" y="176.25" width="17.7" height="17.5" fill="#F0F0F0"/>
<rect x="650.70" y="195.40" width="17.7" height="17.5" fill="#F0F0F0"/>
<rect x="650.70" y="214.55" width="17.7" height="17.5" fill="#F0F0F0"/>
<rect x="650.70" y="233.70" width="17.7" height="17.5" fill="#F0F0F0"/>
<rect x="650.70" y="252.85" width="17.7" height="17.5" fill="#F0F0F0"/>
<rect x="650.70" y="272.00" width="17.7" height="17.5" fill="#F0F0F0"/>
<rect x="650.70" y="291.15" width="17.7" height="17.5" fill="#F0F0F0"/>
<rect x="650.70" y="310.30" width="17.7" height="17.5" fill="#F0F0F0"/>
<rect x="650.70" y="329.45" width="17.7" height="17.5" fill="#F0F0F0"/>
<rect x="650.70" y="348.60" width="17.7" height="17.5" fill="#F0F0F0"/>
<rect x="650.70" y="367.75" width="17.7" height="17.5" fill="#F0F0F0"/>
<rect x="650.70" y="386.90" width="17.7" height="17.5" fill="#F0F0F0"/>
<rect x="650.70" y="406.05" width="17.7" height="17.5" fill="#F0F0F0"/>
<rect x="650.70" y="425.20" width="17.7" height="17.5" fill="#F0F0F0"/>
<rect x="650.70" y="444.35" width="17.7" height="17.5" fill="#F0F0F0"/>
<path d="M651.90 166.00h15.5" stroke="#00479B" stroke-width="3.5"/>
<path d="M651.90 185.15h15.5" stroke="#00479B" stroke-width="3.5"/>
<path d="M651.90 204.30h15.5" stroke="#00479B" stroke-width="3.5"/>
<path d="M651.90 223.45h15.5" stroke="#00479B" stroke-width="3.5"/>
<path d="M651.90 242.60h15.5" stroke="#7C0DB4" stroke-width="3.5"/>
<path d="M651.90 261.75h15.5" stroke="#7C0DB4" stroke-width="3.5"/>
<path d="M651.90 280.90h15.5" stroke="#7C0DB4" stroke-width="3.5"/>
<path d="M651.90 300.05h15.5" stroke="#7C0DB4" stroke-width="3.5"/>
<path d="M651.90 319.20h15.5" stroke="#E60000" stroke-width="3.5"/>
<path d="M651.90 338.35h15.5" stroke="#E60000" stroke-width="3.5"/>
<path d="M651.90 357.50h15.5" stroke="#E60000" stroke-width="3.5"/>
<path d="M651.90 376.65h15.5" stroke="#E60000" stroke-width="3.5"/>
<path d="M651.90 395.80h15.5" stroke="#000000" stroke-width="3.5"/>
<path d="M651.90 414.95h15.5" stroke="#000000" stroke-width="3.5"/>
<path d="M651.90 434.10h15.5" stroke="#000000" stroke-width="3.5"/>
<path d="M651.90 453.25h15.5" stroke="#000000" stroke-width="3.5"/>
<text x="671.50" y="172.20" class="lg">G114(1)</text>
<text x="671.50" y="191.35" class="lg">G114(2)</text>
<text x="671.50" y="210.50" class="lg">N0067(1)</text>
<text x="671.50" y="229.65" class="lg">N0067(2)</text>
<text x="671.50" y="248.80" class="lg">G107(1)</text>
<text x="671.50" y="267.95" class="lg">G107(2)</text>
<text x="671.50" y="287.10" class="lg">G394(1)</text>
<text x="671.50" y="306.25" class="lg">G394(2)</text>
<text x="671.50" y="325.40" class="lg">G02(1)</text>
<text x="671.50" y="344.55" class="lg">G02(2)</text>
<text x="671.50" y="363.70" class="lg">G280(1)</text>
<text x="671.50" y="382.85" class="lg">G280(2)</text>
<text x="671.50" y="402.00" class="lg">G188(1)</text>
<text x="671.50" y="421.15" class="lg">G188(2)</text>
<text x="671.50" y="440.30" class="lg">N0067(1)</text>
<text x="671.50" y="459.45" class="lg">N0067(2)</text>
<text x="1394.70" y="193.00" class="lt">Sample</text>
<rect x="1391.30" y="198.40" width="17.7" height="17.5" fill="#F0F0F0"/>
<rect x="1391.30" y="217.55" width="17.7" height="17.5" fill="#F0F0F0"/>
<rect x="1391.30" y="236.70" width="17.7" height="17.5" fill="#F0F0F0"/>
<rect x="1391.30" y="255.85" width="17.7" height="17.5" fill="#F0F0F0"/>
<rect x="1391.30" y="275.00" width="17.7" height="17.5" fill="#F0F0F0"/>
<rect x="1391.30" y="294.15" width="17.7" height="17.5" fill="#F0F0F0"/>
<rect x="1391.30" y="313.30" width="17.7" height="17.5" fill="#F0F0F0"/>
<rect x="1391.30" y="332.45" width="17.7" height="17.5" fill="#F0F0F0"/>
<rect x="1391.30" y="351.60" width="17.7" height="17.5" fill="#F0F0F0"/>
<rect x="1391.30" y="370.75" width="17.7" height="17.5" fill="#F0F0F0"/>
<rect x="1391.30" y="389.90" width="17.7" height="17.5" fill="#F0F0F0"/>
<rect x="1391.30" y="409.05" width="17.7" height="17.5" fill="#F0F0F0"/>
<path d="M1392.50 207.30h15.5" stroke="#D63FA0" stroke-width="3.5"/>
<path d="M1392.50 226.45h15.5" stroke="#D63FA0" stroke-width="3.5"/>
<path d="M1392.50 245.60h15.5" stroke="#D63FA0" stroke-width="3.5"/>
<path d="M1392.50 264.75h15.5" stroke="#D63FA0" stroke-width="3.5"/>
<path d="M1392.50 283.90h15.5" stroke="#007F00" stroke-width="3.5"/>
<path d="M1392.50 303.05h15.5" stroke="#007F00" stroke-width="3.5"/>
<path d="M1392.50 322.20h15.5" stroke="#007F00" stroke-width="3.5"/>
<path d="M1392.50 341.35h15.5" stroke="#007F00" stroke-width="3.5"/>
<path d="M1392.50 360.50h15.5" stroke="#000000" stroke-width="3.5"/>
<path d="M1392.50 379.65h15.5" stroke="#000000" stroke-width="3.5"/>
<path d="M1392.50 398.80h15.5" stroke="#000000" stroke-width="3.5"/>
<path d="M1392.50 417.95h15.5" stroke="#000000" stroke-width="3.5"/>
<text x="1410.30" y="213.50" class="lg">G188(1)</text>
<text x="1410.30" y="232.65" class="lg">G188(2)</text>
<text x="1410.30" y="251.80" class="lg">N0067(1)</text>
<text x="1410.30" y="270.95" class="lg">N0067(2)</text>
<text x="1410.30" y="290.10" class="lg">G177(1)</text>
<text x="1410.30" y="309.25" class="lg">G177(2)</text>
<text x="1410.30" y="328.40" class="lg">N0091(1)</text>
<text x="1410.30" y="347.55" class="lg">N0091(2)</text>
<text x="1410.30" y="366.70" class="lg">G183(1)</text>
<text x="1410.30" y="385.85" class="lg">G183(2)</text>
<text x="1410.30" y="405.00" class="lg">G114(1)</text>
<text x="1410.30" y="424.15" class="lg">G114(2)</text>
<text x="647.20" y="845.80" class="lt">Sample</text>
<rect x="647.10" y="852.00" width="17.7" height="17.5" fill="#F0F0F0"/>
<rect x="647.10" y="871.15" width="17.7" height="17.5" fill="#F0F0F0"/>
<rect x="647.10" y="890.30" width="17.7" height="17.5" fill="#F0F0F0"/>
<rect x="647.10" y="909.45" width="17.7" height="17.5" fill="#F0F0F0"/>
<rect x="647.10" y="928.60" width="17.7" height="17.5" fill="#F0F0F0"/>
<rect x="647.10" y="947.75" width="17.7" height="17.5" fill="#F0F0F0"/>
<rect x="647.10" y="966.90" width="17.7" height="17.5" fill="#F0F0F0"/>
<rect x="647.10" y="986.05" width="17.7" height="17.5" fill="#F0F0F0"/>
<path d="M648.30 860.90h15.5" stroke="#4D1400" stroke-width="3.5"/>
<path d="M648.30 880.05h15.5" stroke="#4D1400" stroke-width="3.5"/>
<path d="M648.30 899.20h15.5" stroke="#4D1400" stroke-width="3.5"/>
<path d="M648.30 918.35h15.5" stroke="#4D1400" stroke-width="3.5"/>
<path d="M648.30 937.50h15.5" stroke="#000000" stroke-width="3.5"/>
<path d="M648.30 956.65h15.5" stroke="#000000" stroke-width="3.5"/>
<path d="M648.30 975.80h15.5" stroke="#000000" stroke-width="3.5"/>
<path d="M648.30 994.95h15.5" stroke="#000000" stroke-width="3.5"/>
<text x="665.60" y="867.10" class="lg">N1176(1)</text>
<text x="665.60" y="886.25" class="lg">N1176(2)</text>
<text x="665.60" y="905.40" class="lg">N1272(1)</text>
<text x="665.60" y="924.55" class="lg">N1272(2)</text>
<text x="665.60" y="943.70" class="lg">G513(1)</text>
<text x="665.60" y="962.85" class="lg">G513(2)</text>
<text x="665.60" y="982.00" class="lg">G578(1)</text>
<text x="665.60" y="1001.15" class="lg">G578(2)</text>
<text x="1390.80" y="845.40" class="lt">Sample</text>
<rect x="1390.90" y="852.00" width="17.7" height="17.5" fill="#F0F0F0"/>
<rect x="1390.90" y="871.15" width="17.7" height="17.5" fill="#F0F0F0"/>
<rect x="1390.90" y="890.30" width="17.7" height="17.5" fill="#F0F0F0"/>
<rect x="1390.90" y="909.45" width="17.7" height="17.5" fill="#F0F0F0"/>
<rect x="1390.90" y="928.60" width="17.7" height="17.5" fill="#F0F0F0"/>
<rect x="1390.90" y="947.75" width="17.7" height="17.5" fill="#F0F0F0"/>
<rect x="1390.90" y="966.90" width="17.7" height="17.5" fill="#F0F0F0"/>
<rect x="1390.90" y="986.05" width="17.7" height="17.5" fill="#F0F0F0"/>
<path d="M1392.10 860.90h15.5" stroke="#FFCC00" stroke-width="3.5"/>
<path d="M1392.10 880.05h15.5" stroke="#FFCC00" stroke-width="3.5"/>
<path d="M1392.10 899.20h15.5" stroke="#FFCC00" stroke-width="3.5"/>
<path d="M1392.10 918.35h15.5" stroke="#FFCC00" stroke-width="3.5"/>
<path d="M1392.10 937.50h15.5" stroke="#000000" stroke-width="3.5"/>
<path d="M1392.10 956.65h15.5" stroke="#000000" stroke-width="3.5"/>
<path d="M1392.10 975.80h15.5" stroke="#000000" stroke-width="3.5"/>
<path d="M1392.10 994.95h15.5" stroke="#000000" stroke-width="3.5"/>
<text x="1411.80" y="867.10" class="lg">G513(1)</text>
<text x="1411.80" y="886.25" class="lg">G513(2)</text>
<text x="1411.80" y="905.40" class="lg">G578(1)</text>
<text x="1411.80" y="924.55" class="lg">G578(2)</text>
<text x="1411.80" y="943.70" class="lg">G813</text>
<text x="1411.80" y="962.85" class="lg">G107</text>
<text x="1411.80" y="982.00" class="lg">G630(1)</text>
<text x="1411.80" y="1001.15" class="lg">G630(2)</text>
</svg></body></html>
